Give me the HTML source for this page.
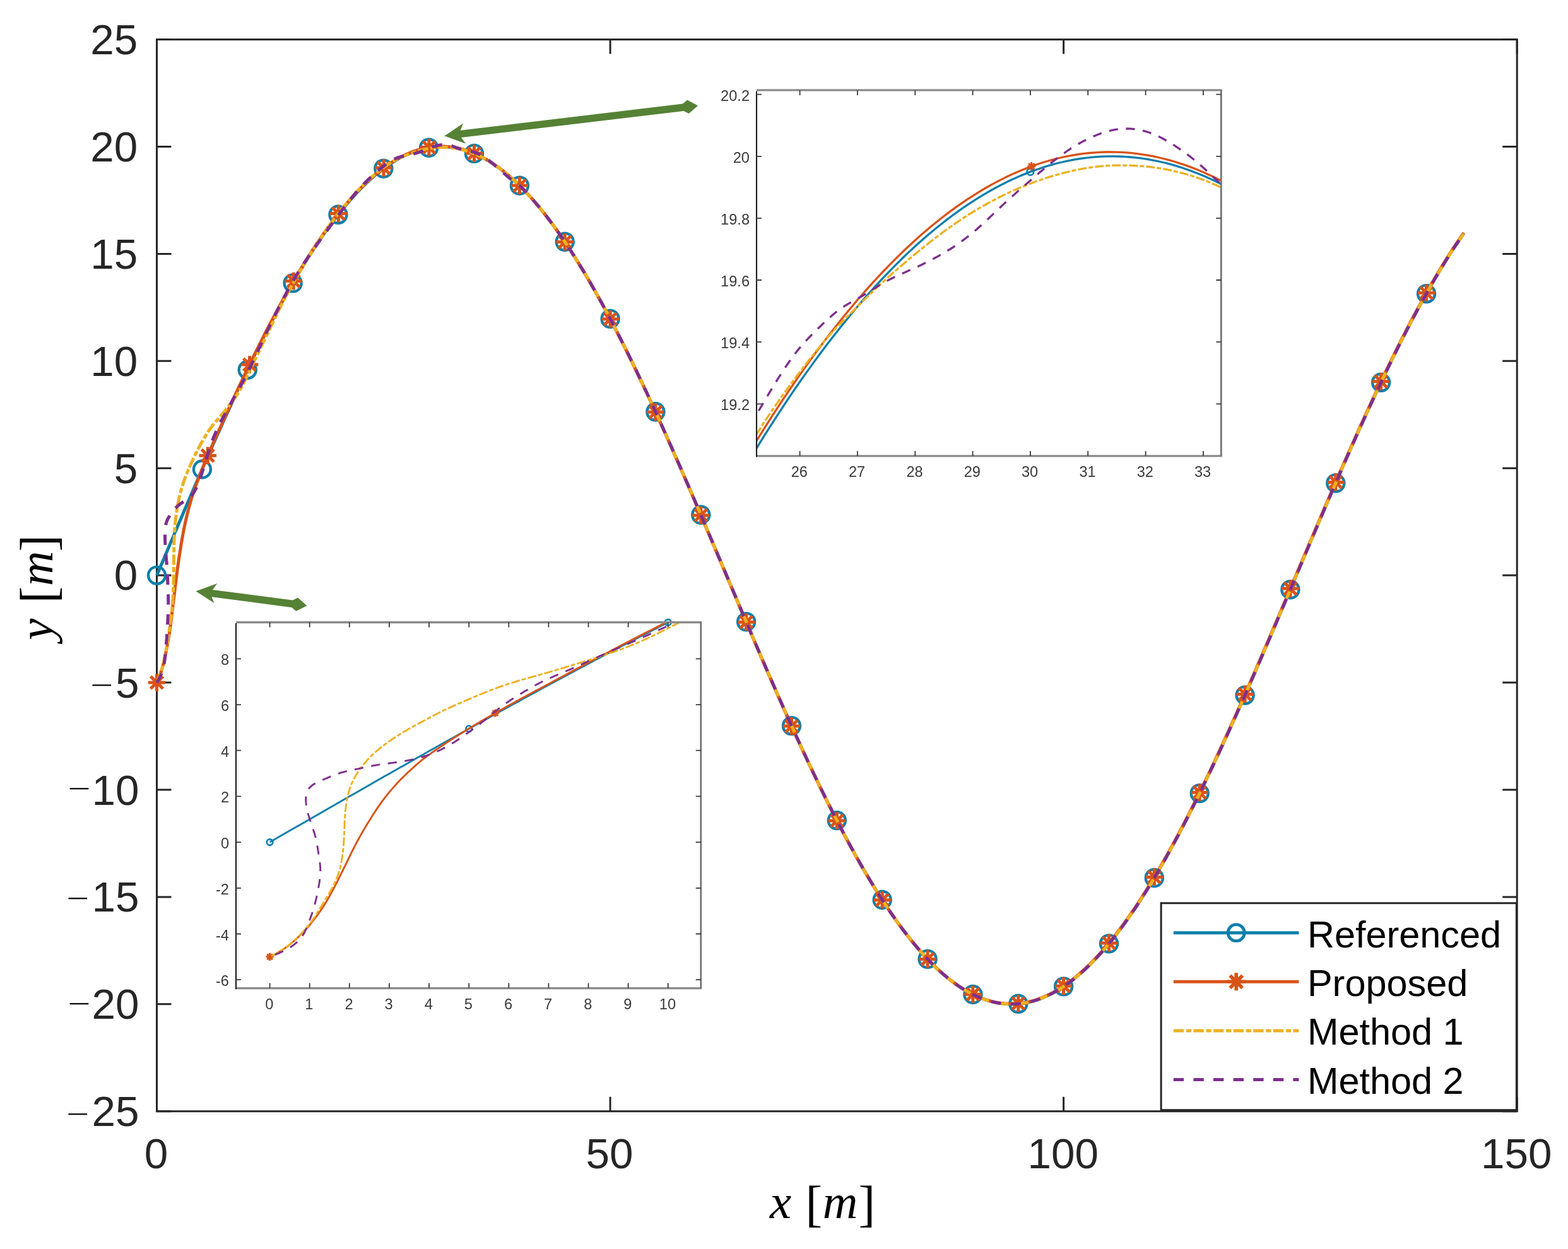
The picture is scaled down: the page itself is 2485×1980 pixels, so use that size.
<!DOCTYPE html>
<html lang="en">
<head>
<meta charset="utf-8">
<title>Trajectory tracking comparison</title>
<style>
html,body{margin:0;padding:0;background:#ffffff;}
body{width:2485px;height:1980px;overflow:hidden;}
svg{display:block;}
</style>
</head>
<body>
<svg width="2485" height="1980" viewBox="0 0 2485 1980" role="img" aria-label="Trajectory tracking comparison">
<defs>
<clipPath id="cm"><rect x="248.5" y="62.6" width="2155.7" height="1699.1000000000001"/></clipPath>
<clipPath id="c1"><rect x="1199" y="142.9" width="736.3" height="580.0"/></clipPath>
<clipPath id="c2"><rect x="374" y="986.5" width="736.8" height="580.0999999999999"/></clipPath>
<filter id="soft" x="-5%" y="-5%" width="110%" height="110%"><feGaussianBlur stdDeviation="0.7"/></filter>
<filter id="soft0" filterUnits="userSpaceOnUse" x="0" y="0" width="2485" height="1980"><feGaussianBlur stdDeviation="0.45"/></filter>
</defs>
<rect width="2485" height="1980" fill="#ffffff"/>
<g filter="url(#soft0)">
<g stroke="#262626" stroke-width="3.0" fill="none">
<rect x="248.5" y="62.6" width="2155.7" height="1699.1000000000001"/>
<path d="M248.5,1761.7v-23M248.5,62.6v23M967.1,1761.7v-23M967.1,62.6v23M1685.6,1761.7v-23M1685.6,62.6v23M2404.2,1761.7v-23M2404.2,62.6v23M248.5,1761.7h23M2404.2,1761.7h-23M248.5,1591.8h23M2404.2,1591.8h-23M248.5,1421.9h23M2404.2,1421.9h-23M248.5,1252.0h23M2404.2,1252.0h-23M248.5,1082.1h23M2404.2,1082.1h-23M248.5,912.1h23M2404.2,912.1h-23M248.5,742.2h23M2404.2,742.2h-23M248.5,572.3h23M2404.2,572.3h-23M248.5,402.4h23M2404.2,402.4h-23M248.5,232.5h23M2404.2,232.5h-23M248.5,62.6h23M2404.2,62.6h-23"/>
</g>
<g fill="none" stroke-linejoin="round">
<path d="M248.5,912.1 L249.9,908.9 L251.3,905.6 L252.6,902.3 L254.0,899.1 L255.4,895.8 L256.8,892.5 L258.2,889.3 L259.6,886.0 L260.9,882.8 L262.3,879.5 L263.7,876.2 L265.1,873.0 L266.5,869.7 L267.8,866.4 L269.2,863.2 L270.6,859.9 L272.0,856.7 L273.4,853.4 L274.8,850.2 L276.1,846.9 L277.5,843.7 L278.9,840.4 L280.3,837.2 L281.7,833.9 L283.0,830.7 L284.4,827.4 L285.8,824.2 L287.2,820.9 L288.6,817.7 L290.0,814.5 L291.3,811.2 L292.7,808.0 L294.1,804.8 L295.5,801.6 L296.9,798.3 L298.2,795.1 L299.6,791.9 L301.0,788.7 L302.4,785.5 L303.8,782.3 L305.2,779.1 L306.5,775.8 L307.9,772.7 L309.3,769.5 L310.7,766.3 L312.1,763.1 L313.4,759.9 L314.8,756.7 L316.2,753.5 L317.6,750.3 L319.0,747.2 L320.4,744.0 L321.7,740.8 L323.1,737.7 L324.5,734.5 L325.9,731.4 L327.3,728.2 L328.6,725.1 L330.0,721.9 L331.4,718.8 L332.8,715.7 L334.2,712.6 L335.6,709.4 L336.9,706.3 L338.3,703.2 L339.7,700.1 L341.1,697.0 L342.5,693.9 L343.8,690.8 L345.2,687.7 L346.6,684.6 L348.0,681.6 L349.4,678.5 L350.8,675.4 L352.1,672.4 L353.5,669.3 L354.9,666.3 L356.3,663.2 L357.7,660.2 L359.0,657.2 L360.4,654.1 L361.8,651.1 L363.2,648.1 L364.6,645.1 L366.0,642.1 L367.3,639.1 L368.7,636.1 L370.1,633.1 L371.5,630.1 L372.9,627.2 L374.2,624.2 L375.6,621.3 L377.0,618.3 L378.4,615.4 L379.8,612.4 L381.2,609.5 L382.5,606.6 L383.9,603.7 L385.3,600.8 L386.7,597.9 L388.1,595.0 L389.4,592.1 L390.8,589.2 L392.2,586.3 L393.6,583.5 L395.0,580.6 L396.4,577.8 L397.7,574.9 L399.1,572.1 L400.5,569.3 L401.9,566.4 L403.3,563.6 L404.6,560.8 L406.0,558.0 L407.4,555.3 L408.8,552.5 L410.2,549.7 L411.6,546.9 L412.9,544.2 L414.3,541.5 L415.7,538.7 L417.1,536.0 L418.5,533.3 L419.8,530.6 L421.2,527.9 L422.6,525.2 L424.0,522.5 L425.4,519.8 L426.8,517.2 L428.1,514.5 L429.5,511.9 L430.9,509.2 L432.3,506.6 L433.7,504.0 L435.0,501.4 L436.4,498.8 L437.8,496.2 L439.2,493.6 L440.6,491.0 L442.0,488.5 L443.3,485.9 L444.7,483.4 L446.1,480.9 L447.5,478.3 L448.9,475.8 L450.2,473.3 L451.6,470.8 L453.0,468.4 L454.4,465.9 L455.8,463.4 L457.2,461.0 L458.5,458.5 L459.9,456.1 L461.3,453.7 L462.7,451.3 L464.1,448.9 L465.4,446.5 L466.8,444.1 L468.2,441.8 L469.6,439.4 L471.0,437.1 L472.4,434.7 L473.7,432.4 L475.1,430.1 L476.5,427.8 L477.9,425.5 L479.3,423.3 L480.6,421.0 L482.0,418.7 L483.4,416.5 L484.8,414.3 L486.2,412.0 L487.6,409.8 L488.9,407.6 L490.3,405.5 L491.7,403.3 L493.1,401.1 L494.5,399.0 L495.8,396.8 L497.2,394.7 L498.6,392.6 L500.0,390.5 L501.4,388.4 L502.8,386.3 L504.1,384.3 L505.5,382.2 L506.9,380.2 L508.3,378.2 L509.7,376.1 L511.0,374.1 L512.4,372.2 L513.8,370.2 L515.2,368.2 L516.6,366.3 L518.0,364.3 L519.3,362.4 L520.7,360.5 L522.1,358.6 L523.5,356.7 L524.9,354.8 L526.2,352.9 L527.6,351.1 L529.0,349.3 L530.4,347.4 L531.8,345.6 L533.2,343.8 L534.5,342.0 L535.9,340.3 L537.3,338.5 L538.7,336.8 L540.1,335.0 L541.4,333.3 L542.8,331.6 L544.2,329.9 L545.6,328.2 L547.0,326.6 L548.4,324.9 L549.7,323.3 L551.1,321.7 L552.5,320.0 L553.9,318.4 L555.3,316.9 L556.6,315.3 L558.0,313.7 L559.4,312.2 L560.8,310.7 L562.2,309.2 L563.6,307.7 L564.9,306.2 L566.3,304.7 L567.7,303.2 L569.1,301.8 L570.5,300.4 L571.8,298.9 L573.2,297.5 L574.6,296.2 L576.0,294.8 L577.4,293.4 L578.8,292.1 L580.1,290.7 L581.5,289.4 L582.9,288.1 L584.3,286.8 L585.7,285.6 L587.0,284.3 L588.4,283.1 L589.8,281.8 L591.2,280.6 L592.6,279.4 L594.0,278.2 L595.3,277.1 L596.7,275.9 L598.1,274.8 L599.5,273.6 L600.9,272.5 L602.2,271.4 L603.6,270.3 L605.0,269.3 L606.4,268.2 L607.8,267.2 L609.2,266.2 L610.5,265.2 L611.9,264.2 L613.3,263.2 L614.7,262.2 L616.1,261.3 L617.4,260.3 L618.8,259.4 L620.2,258.5 L621.6,257.6 L623.0,256.8 L624.4,255.9 L625.7,255.1 L627.1,254.2 L628.5,253.4 L629.9,252.6 L631.3,251.8 L632.6,251.1 L634.0,250.3 L635.4,249.6 L636.8,248.9 L638.2,248.2 L639.6,247.5 L640.9,246.8 L642.3,246.1 L643.7,245.5 L645.1,244.9 L646.5,244.3 L647.8,243.7 L649.2,243.1 L650.6,242.5 L652.0,242.0 L653.4,241.4 L654.8,240.9 L656.1,240.4 L657.5,239.9 L658.9,239.4 L660.3,239.0 L661.7,238.5 L663.0,238.1 L664.4,237.7 L665.8,237.3 L667.2,236.9 L668.6,236.6 L670.0,236.2 L671.3,235.9 L672.7,235.6 L674.1,235.3 L675.5,235.0 L676.9,234.7 L678.2,234.5 L679.6,234.2 L681.0,234.0 L682.4,233.8 L683.8,233.6 L685.2,233.4 L686.5,233.3 L687.9,233.1 L689.3,233.0 L690.7,232.9 L692.1,232.8 L693.4,232.7 L694.8,232.6 L696.2,232.6 L697.6,232.5 L699.0,232.5 L700.4,232.5 L701.7,232.5 L703.1,232.6 L704.5,232.6 L705.9,232.7 L707.3,232.7 L708.6,232.8 L710.0,232.9 L711.4,233.0 L712.8,233.2 L714.2,233.3 L715.6,233.5 L716.9,233.7 L718.3,233.9 L719.7,234.1 L721.1,234.3 L722.5,234.6 L723.8,234.8 L725.2,235.1 L726.6,235.4 L728.0,235.7 L729.4,236.1 L730.8,236.4 L732.1,236.8 L733.5,237.1 L734.9,237.5 L736.3,237.9 L737.7,238.3 L739.0,238.8 L740.4,239.2 L741.8,239.7 L743.2,240.2 L744.6,240.7 L746.0,241.2 L747.3,241.7 L748.7,242.3 L750.1,242.8 L751.5,243.4 L752.9,244.0 L754.2,244.6 L755.6,245.2 L757.0,245.8 L758.4,246.5 L759.8,247.2 L761.2,247.8 L762.5,248.5 L763.9,249.3 L765.3,250.0 L766.7,250.7 L768.1,251.5 L769.4,252.3 L770.8,253.0 L772.2,253.9 L773.6,254.7 L775.0,255.5 L776.4,256.4 L777.7,257.2 L779.1,258.1 L780.5,259.0 L781.9,259.9 L783.3,260.8 L784.6,261.8 L786.0,262.7 L787.4,263.7 L788.8,264.7 L790.2,265.7 L791.6,266.7 L792.9,267.7 L794.3,268.8 L795.7,269.8 L797.1,270.9 L798.5,272.0 L799.8,273.1 L801.2,274.2 L802.6,275.4 L804.0,276.5 L805.4,277.7 L806.8,278.9 L808.1,280.1 L809.5,281.3 L810.9,282.5 L812.3,283.7 L813.7,285.0 L815.0,286.2 L816.4,287.5 L817.8,288.8 L819.2,290.1 L820.6,291.4 L822.0,292.8 L823.3,294.1 L824.7,295.5 L826.1,296.9 L827.5,298.3 L828.9,299.7 L830.2,301.1 L831.6,302.6 L833.0,304.0 L834.4,305.5 L835.8,306.9 L837.2,308.4 L838.5,309.9 L839.9,311.5 L841.3,313.0 L842.7,314.6 L844.1,316.1 L845.4,317.7 L846.8,319.3 L848.2,320.9 L849.6,322.5 L851.0,324.1 L852.4,325.8 L853.7,327.4 L855.1,329.1 L856.5,330.8 L857.9,332.5 L859.3,334.2 L860.6,335.9 L862.0,337.7 L863.4,339.4 L864.8,341.2 L866.2,343.0 L867.6,344.8 L868.9,346.6 L870.3,348.4 L871.7,350.2 L873.1,352.1 L874.5,353.9 L875.8,355.8 L877.2,357.7 L878.6,359.6 L880.0,361.5 L881.4,363.4 L882.8,365.3 L884.1,367.3 L885.5,369.2 L886.9,371.2 L888.3,373.2 L889.7,375.2 L891.0,377.2 L892.4,379.2 L893.8,381.3 L895.2,383.3 L896.6,385.4 L898.0,387.4 L899.3,389.5 L900.7,391.6 L902.1,393.7 L903.5,395.8 L904.9,398.0 L906.2,400.1 L907.6,402.3 L909.0,404.4 L910.4,406.6 L911.8,408.8 L913.2,411.0 L914.5,413.2 L915.9,415.4 L917.3,417.7 L918.7,419.9 L920.1,422.2 L921.4,424.5 L922.8,426.7 L924.2,429.0 L925.6,431.3 L927.0,433.6 L928.4,436.0 L929.7,438.3 L931.1,440.7 L932.5,443.0 L933.9,445.4 L935.3,447.8 L936.6,450.2 L938.0,452.6 L939.4,455.0 L940.8,457.4 L942.2,459.8 L943.6,462.3 L944.9,464.7 L946.3,467.2 L947.7,469.7 L949.1,472.1 L950.5,474.6 L951.8,477.2 L953.2,479.7 L954.6,482.2 L956.0,484.7 L957.4,487.3 L958.8,489.8 L960.1,492.4 L961.5,495.0 L962.9,497.6 L964.3,500.1 L965.7,502.7 L967.0,505.4 L968.4,508.0 L969.8,510.6 L971.2,513.3 L972.6,515.9 L974.0,518.6 L975.3,521.2 L976.7,523.9 L978.1,526.6 L979.5,529.3 L980.9,532.0 L982.2,534.7 L983.6,537.4 L985.0,540.2 L986.4,542.9 L987.8,545.6 L989.2,548.4 L990.5,551.2 L991.9,553.9 L993.3,556.7 L994.7,559.5 L996.1,562.3 L997.4,565.1 L998.8,567.9 L1000.2,570.7 L1001.6,573.6 L1003.0,576.4 L1004.4,579.3 L1005.7,582.1 L1007.1,585.0 L1008.5,587.8 L1009.9,590.7 L1011.3,593.6 L1012.6,596.5 L1014.0,599.4 L1015.4,602.3 L1016.8,605.2 L1018.2,608.1 L1019.6,611.0 L1020.9,614.0 L1022.3,616.9 L1023.7,619.9 L1025.1,622.8 L1026.5,625.8 L1027.8,628.7 L1029.2,631.7 L1030.6,634.7 L1032.0,637.7 L1033.4,640.7 L1034.8,643.7 L1036.1,646.7 L1037.5,649.7 L1038.9,652.7 L1040.3,655.7 L1041.7,658.8 L1043.0,661.8 L1044.4,664.8 L1045.8,667.9 L1047.2,670.9 L1048.6,674.0 L1050.0,677.0 L1051.3,680.1 L1052.7,683.2 L1054.1,686.3 L1055.5,689.4 L1056.9,692.4 L1058.2,695.5 L1059.6,698.6 L1061.0,701.7 L1062.4,704.9 L1063.8,708.0 L1065.2,711.1 L1066.5,714.2 L1067.9,717.3 L1069.3,720.5 L1070.7,723.6 L1072.1,726.7 L1073.4,729.9 L1074.8,733.0 L1076.2,736.2 L1077.6,739.4 L1079.0,742.5 L1080.4,745.7 L1081.7,748.9 L1083.1,752.0 L1084.5,755.2 L1085.9,758.4 L1087.3,761.6 L1088.6,764.8 L1090.0,767.9 L1091.4,771.1 L1092.8,774.3 L1094.2,777.5 L1095.6,780.7 L1096.9,784.0 L1098.3,787.2 L1099.7,790.4 L1101.1,793.6 L1102.5,796.8 L1103.8,800.0 L1105.2,803.3 L1106.6,806.5 L1108.0,809.7 L1109.4,812.9 L1110.8,816.2 L1112.1,819.4 L1113.5,822.6 L1114.9,825.9 L1116.3,829.1 L1117.7,832.4 L1119.0,835.6 L1120.4,838.9 L1121.8,842.1 L1123.2,845.4 L1124.6,848.6 L1126.0,851.9 L1127.3,855.1 L1128.7,858.4 L1130.1,861.6 L1131.5,864.9 L1132.9,868.2 L1134.2,871.4 L1135.6,874.7 L1137.0,877.9 L1138.4,881.2 L1139.8,884.5 L1141.2,887.7 L1142.5,891.0 L1143.9,894.3 L1145.3,897.5 L1146.7,900.8 L1148.1,904.1 L1149.4,907.3 L1150.8,910.6 L1152.2,913.9 L1153.6,917.1 L1155.0,920.4 L1156.4,923.7 L1157.7,926.9 L1159.1,930.2 L1160.5,933.5 L1161.9,936.7 L1163.3,940.0 L1164.6,943.3 L1166.0,946.5 L1167.4,949.8 L1168.8,953.1 L1170.2,956.3 L1171.6,959.6 L1172.9,962.8 L1174.3,966.1 L1175.7,969.4 L1177.1,972.6 L1178.5,975.9 L1179.8,979.1 L1181.2,982.4 L1182.6,985.6 L1184.0,988.9 L1185.4,992.1 L1186.8,995.4 L1188.1,998.6 L1189.5,1001.8 L1190.9,1005.1 L1192.3,1008.3 L1193.7,1011.5 L1195.0,1014.8 L1196.4,1018.0 L1197.8,1021.2 L1199.2,1024.4 L1200.6,1027.7 L1201.9,1030.9 L1203.3,1034.1 L1204.7,1037.3 L1206.1,1040.5 L1207.5,1043.7 L1208.9,1046.9 L1210.2,1050.1 L1211.6,1053.3 L1213.0,1056.5 L1214.4,1059.7 L1215.8,1062.9 L1217.1,1066.1 L1218.5,1069.3 L1219.9,1072.5 L1221.3,1075.6 L1222.7,1078.8 L1224.1,1082.0 L1225.4,1085.1 L1226.8,1088.3 L1228.2,1091.4 L1229.6,1094.6 L1231.0,1097.7 L1232.3,1100.9 L1233.7,1104.0 L1235.1,1107.1 L1236.5,1110.3 L1237.9,1113.4 L1239.3,1116.5 L1240.6,1119.6 L1242.0,1122.7 L1243.4,1125.8 L1244.8,1128.9 L1246.2,1132.0 L1247.5,1135.1 L1248.9,1138.2 L1250.3,1141.3 L1251.7,1144.4 L1253.1,1147.4 L1254.5,1150.5 L1255.8,1153.5 L1257.2,1156.6 L1258.6,1159.6 L1260.0,1162.7 L1261.4,1165.7 L1262.7,1168.7 L1264.1,1171.8 L1265.5,1174.8 L1266.9,1177.8 L1268.3,1180.8 L1269.7,1183.8 L1271.0,1186.8 L1272.4,1189.8 L1273.8,1192.8 L1275.2,1195.7 L1276.6,1198.7 L1277.9,1201.6 L1279.3,1204.6 L1280.7,1207.5 L1282.1,1210.5 L1283.5,1213.4 L1284.9,1216.3 L1286.2,1219.3 L1287.6,1222.2 L1289.0,1225.1 L1290.4,1228.0 L1291.8,1230.9 L1293.1,1233.7 L1294.5,1236.6 L1295.9,1239.5 L1297.3,1242.3 L1298.7,1245.2 L1300.1,1248.0 L1301.4,1250.9 L1302.8,1253.7 L1304.2,1256.5 L1305.6,1259.3 L1307.0,1262.1 L1308.3,1264.9 L1309.7,1267.7 L1311.1,1270.5 L1312.5,1273.3 L1313.9,1276.1 L1315.3,1278.8 L1316.6,1281.6 L1318.0,1284.3 L1319.4,1287.0 L1320.8,1289.7 L1322.2,1292.5 L1323.5,1295.2 L1324.9,1297.9 L1326.3,1300.5 L1327.7,1303.2 L1329.1,1305.9 L1330.5,1308.5 L1331.8,1311.2 L1333.2,1313.8 L1334.6,1316.5 L1336.0,1319.1 L1337.4,1321.7 L1338.7,1324.3 L1340.1,1326.9 L1341.5,1329.5 L1342.9,1332.1 L1344.3,1334.6 L1345.7,1337.2 L1347.0,1339.7 L1348.4,1342.2 L1349.8,1344.8 L1351.2,1347.3 L1352.6,1349.8 L1353.9,1352.3 L1355.3,1354.8 L1356.7,1357.2 L1358.1,1359.7 L1359.5,1362.2 L1360.9,1364.6 L1362.2,1367.0 L1363.6,1369.5 L1365.0,1371.9 L1366.4,1374.3 L1367.8,1376.7 L1369.1,1379.0 L1370.5,1381.4 L1371.9,1383.8 L1373.3,1386.1 L1374.7,1388.5 L1376.1,1390.8 L1377.4,1393.1 L1378.8,1395.4 L1380.2,1397.7 L1381.6,1400.0 L1383.0,1402.2 L1384.3,1404.5 L1385.7,1406.7 L1387.1,1409.0 L1388.5,1411.2 L1389.9,1413.4 L1391.3,1415.6 L1392.6,1417.8 L1394.0,1420.0 L1395.4,1422.2 L1396.8,1424.3 L1398.2,1426.4 L1399.5,1428.6 L1400.9,1430.7 L1402.3,1432.8 L1403.7,1434.9 L1405.1,1437.0 L1406.5,1439.0 L1407.8,1441.1 L1409.2,1443.2 L1410.6,1445.2 L1412.0,1447.2 L1413.4,1449.2 L1414.7,1451.2 L1416.1,1453.2 L1417.5,1455.2 L1418.9,1457.1 L1420.3,1459.1 L1421.7,1461.0 L1423.0,1462.9 L1424.4,1464.8 L1425.8,1466.7 L1427.2,1468.6 L1428.6,1470.5 L1429.9,1472.3 L1431.3,1474.2 L1432.7,1476.0 L1434.1,1477.8 L1435.5,1479.6 L1436.9,1481.4 L1438.2,1483.2 L1439.6,1485.0 L1441.0,1486.7 L1442.4,1488.5 L1443.8,1490.2 L1445.1,1491.9 L1446.5,1493.6 L1447.9,1495.3 L1449.3,1496.9 L1450.7,1498.6 L1452.1,1500.3 L1453.4,1501.9 L1454.8,1503.5 L1456.2,1505.1 L1457.6,1506.7 L1459.0,1508.3 L1460.3,1509.8 L1461.7,1511.4 L1463.1,1512.9 L1464.5,1514.4 L1465.9,1515.9 L1467.3,1517.4 L1468.6,1518.9 L1470.0,1520.4 L1471.4,1521.8 L1472.8,1523.3 L1474.2,1524.7 L1475.5,1526.1 L1476.9,1527.5 L1478.3,1528.9 L1479.7,1530.2 L1481.1,1531.6 L1482.5,1532.9 L1483.8,1534.3 L1485.2,1535.6 L1486.6,1536.9 L1488.0,1538.1 L1489.4,1539.4 L1490.7,1540.6 L1492.1,1541.9 L1493.5,1543.1 L1494.9,1544.3 L1496.3,1545.5 L1497.7,1546.7 L1499.0,1547.8 L1500.4,1549.0 L1501.8,1550.1 L1503.2,1551.2 L1504.6,1552.4 L1505.9,1553.4 L1507.3,1554.5 L1508.7,1555.6 L1510.1,1556.6 L1511.5,1557.7 L1512.9,1558.7 L1514.2,1559.7 L1515.6,1560.7 L1517.0,1561.6 L1518.4,1562.6 L1519.8,1563.5 L1521.1,1564.4 L1522.5,1565.4 L1523.9,1566.2 L1525.3,1567.1 L1526.7,1568.0 L1528.1,1568.8 L1529.4,1569.7 L1530.8,1570.5 L1532.2,1571.3 L1533.6,1572.1 L1535.0,1572.9 L1536.3,1573.6 L1537.7,1574.4 L1539.1,1575.1 L1540.5,1575.8 L1541.9,1576.5 L1543.3,1577.2 L1544.6,1577.8 L1546.0,1578.5 L1547.4,1579.1 L1548.8,1579.8 L1550.2,1580.4 L1551.5,1580.9 L1552.9,1581.5 L1554.3,1582.1 L1555.7,1582.6 L1557.1,1583.1 L1558.5,1583.7 L1559.8,1584.2 L1561.2,1584.6 L1562.6,1585.1 L1564.0,1585.6 L1565.4,1586.0 L1566.7,1586.4 L1568.1,1586.8 L1569.5,1587.2 L1570.9,1587.6 L1572.3,1587.9 L1573.7,1588.3 L1575.0,1588.6 L1576.4,1588.9 L1577.8,1589.2 L1579.2,1589.5 L1580.6,1589.7 L1581.9,1590.0 L1583.3,1590.2 L1584.7,1590.4 L1586.1,1590.6 L1587.5,1590.8 L1588.9,1591.0 L1590.2,1591.1 L1591.6,1591.3 L1593.0,1591.4 L1594.4,1591.5 L1595.8,1591.6 L1597.1,1591.7 L1598.5,1591.7 L1599.9,1591.8 L1601.3,1591.8 L1602.7,1591.8 L1604.1,1591.8 L1605.4,1591.8 L1606.8,1591.7 L1608.2,1591.7 L1609.6,1591.6 L1611.0,1591.5 L1612.3,1591.4 L1613.7,1591.3 L1615.1,1591.2 L1616.5,1591.0 L1617.9,1590.9 L1619.3,1590.7 L1620.6,1590.5 L1622.0,1590.3 L1623.4,1590.1 L1624.8,1589.8 L1626.2,1589.6 L1627.5,1589.3 L1628.9,1589.0 L1630.3,1588.7 L1631.7,1588.4 L1633.1,1588.1 L1634.5,1587.7 L1635.8,1587.3 L1637.2,1587.0 L1638.6,1586.6 L1640.0,1586.2 L1641.4,1585.7 L1642.7,1585.3 L1644.1,1584.8 L1645.5,1584.4 L1646.9,1583.9 L1648.3,1583.4 L1649.7,1582.8 L1651.0,1582.3 L1652.4,1581.8 L1653.8,1581.2 L1655.2,1580.6 L1656.6,1580.0 L1657.9,1579.4 L1659.3,1578.8 L1660.7,1578.1 L1662.1,1577.5 L1663.5,1576.8 L1664.9,1576.1 L1666.2,1575.4 L1667.6,1574.7 L1669.0,1573.9 L1670.4,1573.2 L1671.8,1572.4 L1673.1,1571.6 L1674.5,1570.8 L1675.9,1570.0 L1677.3,1569.2 L1678.7,1568.3 L1680.1,1567.5 L1681.4,1566.6 L1682.8,1565.7 L1684.2,1564.8 L1685.6,1563.9 L1687.0,1563.0 L1688.3,1562.0 L1689.7,1561.1 L1691.1,1560.1 L1692.5,1559.1 L1693.9,1558.1 L1695.3,1557.1 L1696.6,1556.0 L1698.0,1555.0 L1699.4,1553.9 L1700.8,1552.8 L1702.2,1551.7 L1703.5,1550.6 L1704.9,1549.5 L1706.3,1548.3 L1707.7,1547.2 L1709.1,1546.0 L1710.5,1544.8 L1711.8,1543.6 L1713.2,1542.4 L1714.6,1541.2 L1716.0,1539.9 L1717.4,1538.7 L1718.7,1537.4 L1720.1,1536.1 L1721.5,1534.8 L1722.9,1533.5 L1724.3,1532.1 L1725.7,1530.8 L1727.0,1529.4 L1728.4,1528.1 L1729.8,1526.7 L1731.2,1525.3 L1732.6,1523.9 L1733.9,1522.4 L1735.3,1521.0 L1736.7,1519.5 L1738.1,1518.1 L1739.5,1516.6 L1740.9,1515.1 L1742.2,1513.5 L1743.6,1512.0 L1745.0,1510.5 L1746.4,1508.9 L1747.8,1507.4 L1749.1,1505.8 L1750.5,1504.2 L1751.9,1502.6 L1753.3,1500.9 L1754.7,1499.3 L1756.1,1497.6 L1757.4,1496.0 L1758.8,1494.3 L1760.2,1492.6 L1761.6,1490.9 L1763.0,1489.2 L1764.3,1487.4 L1765.7,1485.7 L1767.1,1483.9 L1768.5,1482.2 L1769.9,1480.4 L1771.3,1478.6 L1772.6,1476.8 L1774.0,1474.9 L1775.4,1473.1 L1776.8,1471.3 L1778.2,1469.4 L1779.5,1467.5 L1780.9,1465.6 L1782.3,1463.7 L1783.7,1461.8 L1785.1,1459.9 L1786.5,1457.9 L1787.8,1456.0 L1789.2,1454.0 L1790.6,1452.0 L1792.0,1450.0 L1793.4,1448.0 L1794.7,1446.0 L1796.1,1444.0 L1797.5,1442.0 L1798.9,1439.9 L1800.3,1437.8 L1801.7,1435.8 L1803.0,1433.7 L1804.4,1431.6 L1805.8,1429.5 L1807.2,1427.3 L1808.6,1425.2 L1809.9,1423.0 L1811.3,1420.9 L1812.7,1418.7 L1814.1,1416.5 L1815.5,1414.3 L1816.9,1412.1 L1818.2,1409.9 L1819.6,1407.7 L1821.0,1405.4 L1822.4,1403.2 L1823.8,1400.9 L1825.1,1398.6 L1826.5,1396.4 L1827.9,1394.1 L1829.3,1391.7 L1830.7,1389.4 L1832.1,1387.1 L1833.4,1384.8 L1834.8,1382.4 L1836.2,1380.0 L1837.6,1377.7 L1839.0,1375.3 L1840.3,1372.9 L1841.7,1370.5 L1843.1,1368.1 L1844.5,1365.6 L1845.9,1363.2 L1847.3,1360.7 L1848.6,1358.3 L1850.0,1355.8 L1851.4,1353.3 L1852.8,1350.8 L1854.2,1348.3 L1855.5,1345.8 L1856.9,1343.3 L1858.3,1340.8 L1859.7,1338.2 L1861.1,1335.7 L1862.5,1333.1 L1863.8,1330.6 L1865.2,1328.0 L1866.6,1325.4 L1868.0,1322.8 L1869.4,1320.2 L1870.7,1317.6 L1872.1,1314.9 L1873.5,1312.3 L1874.9,1309.6 L1876.3,1307.0 L1877.7,1304.3 L1879.0,1301.7 L1880.4,1299.0 L1881.8,1296.3 L1883.2,1293.6 L1884.6,1290.9 L1885.9,1288.2 L1887.3,1285.4 L1888.7,1282.7 L1890.1,1280.0 L1891.5,1277.2 L1892.9,1274.4 L1894.2,1271.7 L1895.6,1268.9 L1897.0,1266.1 L1898.4,1263.3 L1899.8,1260.5 L1901.1,1257.7 L1902.5,1254.9 L1903.9,1252.1 L1905.3,1249.2 L1906.7,1246.4 L1908.1,1243.5 L1909.4,1240.7 L1910.8,1237.8 L1912.2,1234.9 L1913.6,1232.1 L1915.0,1229.2 L1916.3,1226.3 L1917.7,1223.4 L1919.1,1220.5 L1920.5,1217.6 L1921.9,1214.6 L1923.3,1211.7 L1924.6,1208.8 L1926.0,1205.8 L1927.4,1202.9 L1928.8,1199.9 L1930.2,1197.0 L1931.5,1194.0 L1932.9,1191.0 L1934.3,1188.0 L1935.7,1185.0 L1937.1,1182.0 L1938.5,1179.0 L1939.8,1176.0 L1941.2,1173.0 L1942.6,1170.0 L1944.0,1167.0 L1945.4,1163.9 L1946.7,1160.9 L1948.1,1157.9 L1949.5,1154.8 L1950.9,1151.8 L1952.3,1148.7 L1953.7,1145.6 L1955.0,1142.6 L1956.4,1139.5 L1957.8,1136.4 L1959.2,1133.3 L1960.6,1130.2 L1961.9,1127.1 L1963.3,1124.0 L1964.7,1120.9 L1966.1,1117.8 L1967.5,1114.7 L1968.9,1111.6 L1970.2,1108.4 L1971.6,1105.3 L1973.0,1102.2 L1974.4,1099.0 L1975.8,1095.9 L1977.1,1092.7 L1978.5,1089.6 L1979.9,1086.4 L1981.3,1083.3 L1982.7,1080.1 L1984.1,1076.9 L1985.4,1073.8 L1986.8,1070.6 L1988.2,1067.4 L1989.6,1064.2 L1991.0,1061.1 L1992.3,1057.9 L1993.7,1054.7 L1995.1,1051.5 L1996.5,1048.3 L1997.9,1045.1 L1999.3,1041.9 L2000.6,1038.7 L2002.0,1035.4 L2003.4,1032.2 L2004.8,1029.0 L2006.2,1025.8 L2007.5,1022.6 L2008.9,1019.3 L2010.3,1016.1 L2011.7,1012.9 L2013.1,1009.7 L2014.5,1006.4 L2015.8,1003.2 L2017.2,999.9 L2018.6,996.7 L2020.0,993.5 L2021.4,990.2 L2022.7,987.0 L2024.1,983.7 L2025.5,980.5 L2026.9,977.2 L2028.3,974.0 L2029.7,970.7 L2031.0,967.5 L2032.4,964.2 L2033.8,960.9 L2035.2,957.7 L2036.6,954.4 L2037.9,951.2 L2039.3,947.9 L2040.7,944.6 L2042.1,941.4 L2043.5,938.1 L2044.9,934.8 L2046.2,931.6 L2047.6,928.3 L2049.0,925.0 L2050.4,921.8 L2051.8,918.5 L2053.1,915.2 L2054.5,912.0 L2055.9,908.7 L2057.3,905.4 L2058.7,902.2 L2060.1,898.9 L2061.4,895.6 L2062.8,892.4 L2064.2,889.1 L2065.6,885.8 L2067.0,882.6 L2068.3,879.3 L2069.7,876.0 L2071.1,872.8 L2072.5,869.5 L2073.9,866.3 L2075.3,863.0 L2076.6,859.7 L2078.0,856.5 L2079.4,853.2 L2080.8,850.0 L2082.2,846.7 L2083.5,843.5 L2084.9,840.2 L2086.3,837.0 L2087.7,833.7 L2089.1,830.5 L2090.5,827.2 L2091.8,824.0 L2093.2,820.8 L2094.6,817.5 L2096.0,814.3 L2097.4,811.1 L2098.7,807.8 L2100.1,804.6 L2101.5,801.4 L2102.9,798.2 L2104.3,794.9 L2105.7,791.7 L2107.0,788.5 L2108.4,785.3 L2109.8,782.1 L2111.2,778.9 L2112.6,775.7 L2113.9,772.5 L2115.3,769.3 L2116.7,766.1 L2118.1,762.9 L2119.5,759.7 L2120.9,756.5 L2122.2,753.3 L2123.6,750.2 L2125.0,747.0 L2126.4,743.8 L2127.8,740.7 L2129.1,737.5 L2130.5,734.4 L2131.9,731.2 L2133.3,728.1 L2134.7,724.9 L2136.1,721.8 L2137.4,718.6 L2138.8,715.5 L2140.2,712.4 L2141.6,709.3 L2143.0,706.1 L2144.3,703.0 L2145.7,699.9 L2147.1,696.8 L2148.5,693.7 L2149.9,690.6 L2151.3,687.6 L2152.6,684.5 L2154.0,681.4 L2155.4,678.3 L2156.8,675.3 L2158.2,672.2 L2159.5,669.1 L2160.9,666.1 L2162.3,663.1 L2163.7,660.0 L2165.1,657.0 L2166.5,654.0 L2167.8,650.9 L2169.2,647.9 L2170.6,644.9 L2172.0,641.9 L2173.4,638.9 L2174.7,635.9 L2176.1,633.0 L2177.5,630.0 L2178.9,627.0 L2180.3,624.0 L2181.7,621.1 L2183.0,618.1 L2184.4,615.2 L2185.8,612.3 L2187.2,609.3 L2188.6,606.4 L2189.9,603.5 L2191.3,600.6 L2192.7,597.7 L2194.1,594.8 L2195.5,591.9 L2196.9,589.0 L2198.2,586.2 L2199.6,583.3 L2201.0,580.4 L2202.4,577.6 L2203.8,574.8 L2205.1,571.9 L2206.5,569.1 L2207.9,566.3 L2209.3,563.5 L2210.7,560.7 L2212.1,557.9 L2213.4,555.1 L2214.8,552.3 L2216.2,549.6 L2217.6,546.8 L2219.0,544.0 L2220.3,541.3 L2221.7,538.6 L2223.1,535.8 L2224.5,533.1 L2225.9,530.4 L2227.3,527.7 L2228.6,525.0 L2230.0,522.3 L2231.4,519.7 L2232.8,517.0 L2234.2,514.4 L2235.5,511.7 L2236.9,509.1 L2238.3,506.5 L2239.7,503.8 L2241.1,501.2 L2242.5,498.6 L2243.8,496.0 L2245.2,493.5 L2246.6,490.9 L2248.0,488.3 L2249.4,485.8 L2250.7,483.2 L2252.1,480.7 L2253.5,478.2 L2254.9,475.7 L2256.3,473.2 L2257.7,470.7 L2259.0,468.2 L2260.4,465.8 L2261.8,463.3 L2263.2,460.8 L2264.6,458.4 L2265.9,456.0 L2267.3,453.6 L2268.7,451.2 L2270.1,448.8 L2271.5,446.4 L2272.9,444.0 L2274.2,441.6 L2275.6,439.3 L2277.0,436.9 L2278.4,434.6 L2279.8,432.3 L2281.1,430.0 L2282.5,427.7 L2283.9,425.4 L2285.3,423.1 L2286.7,420.9 L2288.1,418.6 L2289.4,416.4 L2290.8,414.1 L2292.2,411.9 L2293.6,409.7 L2295.0,407.5 L2296.3,405.3 L2297.7,403.2 L2299.1,401.0 L2300.5,398.9 L2301.9,396.7 L2303.3,394.6 L2304.6,392.5 L2306.0,390.4 L2307.4,388.3 L2308.8,386.2 L2310.2,384.2 L2311.5,382.1 L2312.9,380.1 L2314.3,378.0 L2315.7,376.0 L2317.1,374.0 L2318.5,372.0 L2319.8,370.1" stroke="#0b7fab" stroke-width="5.0"/>
<circle cx="248.5" cy="912.1" r="13.5" stroke="#0b7fab" stroke-width="4.4" fill="none"/>
<circle cx="320.4" cy="744.0" r="13.5" stroke="#0b7fab" stroke-width="4.4" fill="none"/>
<circle cx="392.2" cy="586.3" r="13.5" stroke="#0b7fab" stroke-width="4.4" fill="none"/>
<circle cx="464.1" cy="448.9" r="13.5" stroke="#0b7fab" stroke-width="4.4" fill="none"/>
<circle cx="535.9" cy="340.3" r="13.5" stroke="#0b7fab" stroke-width="4.4" fill="none"/>
<circle cx="607.8" cy="267.2" r="13.5" stroke="#0b7fab" stroke-width="4.4" fill="none"/>
<circle cx="679.6" cy="234.2" r="13.5" stroke="#0b7fab" stroke-width="4.4" fill="none"/>
<circle cx="751.5" cy="243.4" r="13.5" stroke="#0b7fab" stroke-width="4.4" fill="none"/>
<circle cx="823.4" cy="294.2" r="13.5" stroke="#0b7fab" stroke-width="4.4" fill="none"/>
<circle cx="895.2" cy="383.3" r="13.5" stroke="#0b7fab" stroke-width="4.4" fill="none"/>
<circle cx="967.1" cy="505.4" r="13.5" stroke="#0b7fab" stroke-width="4.4" fill="none"/>
<circle cx="1038.9" cy="652.8" r="13.5" stroke="#0b7fab" stroke-width="4.4" fill="none"/>
<circle cx="1110.8" cy="816.2" r="13.5" stroke="#0b7fab" stroke-width="4.4" fill="none"/>
<circle cx="1182.6" cy="985.7" r="13.5" stroke="#0b7fab" stroke-width="4.4" fill="none"/>
<circle cx="1254.5" cy="1150.6" r="13.5" stroke="#0b7fab" stroke-width="4.4" fill="none"/>
<circle cx="1326.3" cy="1300.6" r="13.5" stroke="#0b7fab" stroke-width="4.4" fill="none"/>
<circle cx="1398.2" cy="1426.5" r="13.5" stroke="#0b7fab" stroke-width="4.4" fill="none"/>
<circle cx="1470.1" cy="1520.4" r="13.5" stroke="#0b7fab" stroke-width="4.4" fill="none"/>
<circle cx="1541.9" cy="1576.5" r="13.5" stroke="#0b7fab" stroke-width="4.4" fill="none"/>
<circle cx="1613.8" cy="1591.3" r="13.5" stroke="#0b7fab" stroke-width="4.4" fill="none"/>
<circle cx="1685.6" cy="1563.9" r="13.5" stroke="#0b7fab" stroke-width="4.4" fill="none"/>
<circle cx="1757.5" cy="1495.9" r="13.5" stroke="#0b7fab" stroke-width="4.4" fill="none"/>
<circle cx="1829.3" cy="1391.7" r="13.5" stroke="#0b7fab" stroke-width="4.4" fill="none"/>
<circle cx="1901.2" cy="1257.6" r="13.5" stroke="#0b7fab" stroke-width="4.4" fill="none"/>
<circle cx="1973.1" cy="1102.1" r="13.5" stroke="#0b7fab" stroke-width="4.4" fill="none"/>
<circle cx="2044.9" cy="934.7" r="13.5" stroke="#0b7fab" stroke-width="4.4" fill="none"/>
<circle cx="2116.8" cy="765.9" r="13.5" stroke="#0b7fab" stroke-width="4.4" fill="none"/>
<circle cx="2188.6" cy="606.3" r="13.5" stroke="#0b7fab" stroke-width="4.4" fill="none"/>
<circle cx="2260.5" cy="465.6" r="13.5" stroke="#0b7fab" stroke-width="4.4" fill="none"/>
<path d="M248.5,1082.1 L249.0,1081.2 L249.5,1080.2 L250.0,1079.2 L250.5,1078.1 L251.0,1077.0 L251.5,1075.8 L252.0,1074.6 L252.5,1073.3 L253.0,1072.0 L253.4,1070.7 L253.9,1069.3 L254.4,1067.9 L254.9,1066.4 L255.4,1064.9 L255.9,1063.2 L256.4,1061.6 L256.9,1059.8 L257.4,1058.0 L257.9,1056.2 L258.4,1054.3 L258.9,1052.3 L259.4,1050.3 L259.9,1048.3 L260.4,1046.2 L260.9,1044.1 L261.4,1042.0 L261.9,1039.7 L262.4,1037.4 L262.8,1035.0 L263.3,1032.5 L263.8,1030.0 L264.3,1027.4 L264.8,1024.8 L265.3,1022.1 L265.8,1019.4 L266.3,1016.5 L266.8,1013.6 L267.3,1010.6 L267.8,1007.5 L268.3,1004.3 L268.8,1001.1 L269.3,997.7 L269.8,994.1 L270.3,990.5 L270.8,986.7 L271.3,982.9 L271.8,979.1 L272.2,975.2 L272.7,971.3 L273.2,967.2 L273.7,963.1 L274.2,959.0 L274.7,954.9 L275.2,950.9 L275.7,946.8 L276.2,942.6 L276.7,938.4 L277.2,934.2 L277.7,930.0 L278.2,925.9 L278.7,921.8 L279.2,917.8 L279.7,914.0 L280.2,910.2 L280.7,906.5 L281.1,902.8 L281.6,899.2 L282.1,895.7 L282.6,892.2 L283.1,888.8 L283.6,885.4 L284.1,882.1 L284.6,878.8 L285.1,875.6 L285.6,872.4 L286.1,869.3 L286.6,866.2 L287.1,863.1 L287.6,860.1 L288.1,857.1 L288.6,854.3 L289.1,851.5 L289.6,848.7 L290.1,846.1 L290.5,843.5 L291.0,840.9 L291.5,838.4 L292.0,836.0 L292.5,833.6 L293.0,831.2 L293.5,828.9 L294.0,826.7 L294.5,824.5 L295.0,822.3 L295.5,820.2 L296.0,818.1 L296.5,816.1 L297.0,814.1 L297.5,812.1 L298.0,810.2 L298.5,808.3 L299.0,806.4 L299.5,804.5 L299.9,802.7 L300.4,800.9 L300.9,799.0 L301.4,797.3 L301.9,795.5 L302.4,793.8 L302.9,792.1 L303.4,790.4 L303.9,788.8 L304.4,787.2 L304.9,785.7 L305.4,784.2 L305.9,782.7 L306.4,781.2 L306.9,779.8 L307.4,778.3 L307.9,776.9 L308.4,775.5 L308.9,774.2 L309.3,772.8 L309.8,771.4 L310.3,770.1 L310.8,768.7 L311.3,767.3 L311.8,766.0 L312.3,764.6 L312.8,763.3 L313.3,762.0 L313.8,760.6 L314.3,759.3 L314.8,758.0 L315.3,756.7 L315.8,755.4 L316.3,754.1 L316.8,752.9 L317.3,751.6 L317.8,750.3 L318.3,749.0 L318.7,747.8 L319.2,746.5 L319.7,745.3 L320.2,744.0 L320.7,742.8 L321.2,741.6 L321.7,740.3 L322.2,739.1 L322.7,737.9 L323.2,736.7 L323.7,735.5 L324.2,734.3 L324.7,733.1 L325.2,731.9 L325.7,730.7 L326.2,729.5 L326.7,728.3 L327.2,727.2 L327.7,726.0 L328.1,724.8 L328.6,723.7 L329.1,722.5 L329.6,721.3 L330.1,720.2 L330.6,719.0 L331.1,717.9 L331.6,716.7 L332.1,715.6 L332.6,714.4 L333.1,713.3 L333.6,712.2 L334.1,711.0 L334.6,709.9 L335.1,708.7 L335.6,707.6 L336.1,706.5 L336.6,705.4 L337.0,704.2 L337.5,703.1 L338.0,702.0 L338.5,700.9 L339.0,699.8 L339.5,698.7 L340.0,697.6 L340.5,696.5 L341.0,695.4 L341.5,694.3 L342.0,693.2 L342.5,692.1 L343.0,691.0 L343.5,689.9 L344.0,688.8 L344.5,687.8 L345.0,686.7 L345.5,685.6 L346.0,684.6 L346.4,683.5 L346.9,682.4 L348.3,679.5 L349.6,676.6 L350.9,673.7 L352.2,670.7 L353.5,667.8 L354.8,664.9 L356.2,662.0 L357.5,659.1 L358.8,656.3 L360.1,653.4 L361.4,650.5 L362.7,647.6 L364.1,644.8 L365.4,641.9 L366.7,639.0 L368.0,636.2 L369.3,633.3 L370.6,630.5 L372.0,627.7 L373.3,624.9 L374.6,622.0 L375.9,619.2 L377.2,616.4 L378.5,613.6 L379.8,610.8 L381.2,608.0 L382.5,605.2 L383.8,602.5 L385.1,599.7 L386.4,596.9 L387.7,594.2 L389.1,591.4 L390.4,588.7 L391.7,586.0 L393.0,583.2 L394.3,580.5 L395.6,577.8 L397.0,575.1 L398.3,572.4 L399.6,569.7 L400.9,567.0 L402.2,564.3 L403.5,561.7 L404.9,559.0 L406.2,556.3 L407.5,553.7 L408.8,551.0 L410.1,548.4 L411.4,545.8 L412.8,543.2 L414.1,540.5 L415.4,537.9 L416.7,535.3 L418.0,532.8 L419.3,530.2 L420.6,527.6 L422.0,525.0 L423.3,522.5 L424.6,519.9 L425.9,517.4 L427.2,514.9 L428.5,512.3 L429.9,509.8 L431.2,507.3 L432.5,504.8 L433.8,502.3 L435.1,499.9 L436.4,497.4 L437.8,494.9 L439.1,492.5 L440.4,490.0 L441.7,487.6 L443.0,485.2 L444.3,482.7 L445.7,480.3 L447.0,477.9 L448.3,475.5 L449.6,473.2 L450.9,470.8 L452.2,468.4 L453.6,466.1 L454.9,463.7 L456.2,461.4 L457.5,459.1 L458.8,456.7 L460.1,454.4 L461.4,452.1 L462.8,449.9 L464.1,447.6 L465.4,445.3 L466.7,443.0 L468.0,440.8 L469.3,438.6 L470.7,436.3 L472.0,434.1 L473.3,431.9 L474.6,429.7 L475.9,427.5 L477.2,425.3 L478.6,423.2 L479.9,421.0 L481.2,418.9 L482.5,416.7 L483.8,414.6 L485.1,412.5 L486.5,410.4 L487.8,408.3 L489.1,406.2 L490.4,404.1 L491.7,402.0 L493.0,400.0 L494.4,397.9 L495.7,395.9 L497.0,393.9 L498.3,391.9 L499.6,389.9 L500.9,387.9 L502.2,385.9 L503.6,384.0 L504.9,382.0 L506.2,380.1 L507.5,378.1 L508.8,376.2 L510.1,374.3 L511.5,372.4 L512.8,370.5 L514.1,368.6 L515.4,366.8 L516.7,364.9 L518.0,363.1 L519.4,361.2 L520.7,359.4 L522.0,357.6 L523.3,355.8 L524.6,354.0 L525.9,352.2 L527.3,350.5 L528.6,348.7 L529.9,347.0 L531.2,345.3 L532.5,343.6 L533.8,341.9 L535.2,340.2 L536.5,338.5 L537.8,336.8 L539.1,335.2 L540.4,333.5 L541.7,331.9 L543.0,330.3 L544.4,328.7 L545.7,327.1 L547.0,325.5 L548.3,323.9 L549.6,322.4 L550.9,320.8 L552.3,319.3 L553.6,317.8 L554.9,316.3 L556.2,314.8 L557.5,313.3 L558.8,311.8 L560.2,310.4 L561.5,308.9 L562.8,307.5 L564.1,306.1 L565.4,304.7 L566.7,303.3 L568.1,301.9 L569.4,300.5 L570.7,299.2 L572.0,297.8 L573.3,296.5 L574.6,295.2 L576.0,293.9 L577.3,292.6 L578.6,291.3 L579.9,290.0 L581.2,288.8 L582.5,287.6 L583.8,286.3 L585.2,285.1 L586.5,283.9 L587.8,282.7 L589.1,281.6 L590.4,280.4 L591.7,279.2 L593.1,278.1 L594.4,277.0 L595.7,275.9 L597.0,274.8 L598.3,273.7 L599.6,272.7 L601.0,271.6 L602.3,270.6 L603.6,269.5 L604.9,268.5 L606.2,267.5 L607.5,266.5 L608.9,265.6 L610.2,264.6 L611.5,263.7 L612.8,262.7 L614.1,261.8 L615.4,260.9 L616.8,260.0 L618.1,259.1 L619.4,258.3 L620.7,257.4 L622.0,256.6 L623.3,255.8 L624.6,255.0 L626.0,254.2 L627.3,253.4 L628.6,252.6 L629.9,251.9 L631.2,251.1 L632.5,250.4 L633.9,249.7 L635.2,249.0 L636.5,248.3 L637.8,247.6 L639.1,247.0 L640.4,246.3 L641.8,245.7 L643.1,245.1 L644.4,244.5 L645.7,243.9 L647.0,243.3 L648.3,242.8 L649.7,242.2 L651.0,241.7 L652.3,241.2 L653.6,240.7 L654.9,240.2 L656.2,239.7 L657.6,239.3 L658.9,238.8 L660.2,238.4 L661.5,238.0 L662.8,237.6 L664.1,237.2 L665.4,236.8 L666.8,236.4 L668.1,236.1 L669.4,235.8 L670.7,235.4 L672.0,235.1 L673.3,234.8 L674.7,234.6 L676.0,234.3 L677.3,234.1 L678.6,233.8 L679.9,233.6 L681.2,233.4 L682.6,233.2 L683.9,233.0 L685.2,232.9 L686.5,232.7 L687.8,232.6 L689.1,232.5 L690.5,232.4 L691.8,232.3 L693.1,232.2 L694.4,232.1 L695.7,232.1 L697.0,232.1 L698.4,232.0 L699.7,232.0 L701.0,232.0 L702.3,232.1 L703.6,232.1 L704.9,232.2 L706.2,232.2 L707.6,232.3 L708.9,232.4 L710.2,232.5 L711.5,232.6 L712.8,232.8 L714.1,232.9 L715.5,233.1 L716.8,233.3 L718.1,233.5 L719.4,233.7 L720.7,233.9 L722.0,234.1 L723.4,234.4 L724.7,234.6 L726.0,234.9 L727.3,235.2 L728.6,235.5 L729.9,235.8 L731.3,236.2 L732.6,236.5 L733.9,236.9 L735.2,237.3 L736.5,237.7 L737.8,238.1 L739.2,238.5 L740.5,238.9 L741.8,239.4 L743.1,239.8 L744.4,240.3 L745.7,240.8 L747.0,241.3 L748.4,241.8 L749.7,242.4 L751.0,242.9 L752.3,243.5 L753.6,244.0 L754.9,244.6 L756.3,245.2 L757.6,245.9 L758.9,246.5 L760.2,247.1 L761.5,247.8 L762.8,248.5 L764.2,249.2 L765.5,249.9 L766.8,250.6 L768.1,251.3 L769.4,252.0 L770.7,252.8 L772.1,253.6 L773.4,254.4 L774.7,255.1 L776.0,256.0 L777.3,256.8 L778.6,257.6 L780.0,258.5 L781.3,259.3 L782.6,260.2 L783.9,261.1 L785.2,262.0 L786.5,262.9 L787.8,263.9 L789.2,264.8 L790.5,265.8 L791.8,266.8 L793.1,267.8 L794.4,268.8 L795.7,269.8 L797.1,270.8 L798.4,271.8 L799.7,272.9 L801.0,274.0 L802.3,275.1 L803.6,276.2 L805.0,277.3 L806.3,278.4 L807.6,279.5 L808.9,280.7 L810.2,281.8 L811.5,283.0 L812.9,284.2 L814.2,285.4 L815.5,286.6 L816.8,287.8 L818.1,289.1 L819.4,290.3 L820.8,291.6 L822.1,292.9 L823.4,294.2 L824.7,295.5 L826.0,296.8 L827.3,298.1 L828.7,299.5 L830.0,300.8 L831.3,302.2 L832.6,303.6 L833.9,305.0 L835.2,306.4 L836.5,307.8 L837.9,309.3 L839.2,310.7 L840.5,312.2 L841.8,313.6 L843.1,315.1 L844.4,316.6 L845.8,318.1 L847.1,319.7 L848.4,321.2 L849.7,322.7 L851.0,324.3 L852.3,325.9 L853.7,327.4 L855.0,329.0 L856.3,330.7 L857.6,332.3 L858.9,333.9 L860.2,335.6 L861.6,337.2 L862.9,338.9 L864.2,340.6 L865.5,342.3 L866.8,344.0 L868.1,345.7 L869.5,347.4 L870.8,349.1 L872.1,350.9 L873.4,352.7 L874.7,354.4 L876.0,356.2 L877.3,358.0 L878.7,359.8 L880.0,361.7 L881.3,363.5 L882.6,365.3 L883.9,367.2 L885.2,369.1 L886.6,370.9 L887.9,372.8 L889.2,374.7 L890.5,376.6 L891.8,378.6 L893.1,380.5 L894.5,382.5 L895.8,384.4 L897.1,386.4 L898.4,388.4 L899.7,390.4 L901.0,392.4 L902.4,394.4 L903.7,396.4 L905.0,398.4 L906.3,400.5 L907.6,402.5 L908.9,404.6 L910.3,406.7 L911.6,408.8 L912.9,410.9 L914.2,413.0 L915.5,415.1 L916.8,417.2 L918.1,419.4 L919.5,421.5 L920.8,423.7 L922.1,425.8 L923.4,428.0 L924.7,430.2 L926.0,432.4 L927.4,434.6 L928.7,436.8 L930.0,439.1 L931.3,441.3 L932.6,443.6 L933.9,445.8 L935.3,448.1 L936.6,450.4 L937.9,452.7 L939.2,455.0 L940.5,457.3 L941.8,459.6 L943.2,461.9 L944.5,464.3 L945.8,466.6 L947.1,469.0 L948.4,471.3 L949.7,473.7 L951.1,476.1 L952.4,478.5 L953.7,480.9 L955.0,483.3 L956.3,485.7 L957.6,488.2 L958.9,490.6 L960.3,493.0 L961.6,495.5 L962.9,498.0 L964.2,500.4 L965.5,502.9 L966.8,505.4 L968.2,507.9 L969.5,510.4 L970.8,512.9 L972.1,515.5 L973.4,518.0 L974.7,520.5 L976.1,523.1 L977.4,525.6 L978.7,528.2 L980.0,530.8 L981.3,533.4 L982.6,535.9 L984.0,538.5 L985.3,541.1 L986.6,543.8 L987.9,546.4 L989.2,549.0 L990.5,551.6 L991.9,554.3 L993.2,556.9 L994.5,559.6 L995.8,562.3 L997.1,564.9 L998.4,567.6 L999.7,570.3 L1001.1,573.0 L1002.4,575.7 L1003.7,578.4 L1005.0,581.1 L1006.3,583.8 L1007.6,586.6 L1009.0,589.3 L1010.3,592.1 L1011.6,594.8 L1012.9,597.6 L1014.2,600.3 L1015.5,603.1 L1016.9,605.9 L1018.2,608.7 L1019.5,611.4 L1020.8,614.2 L1022.1,617.0 L1023.4,619.8 L1024.8,622.7 L1026.1,625.5 L1027.4,628.3 L1028.7,631.1 L1030.0,634.0 L1031.3,636.8 L1032.7,639.7 L1034.0,642.5 L1035.3,645.4 L1036.6,648.3 L1037.9,651.1 L1039.2,654.0 L1040.5,656.9 L1041.9,659.8 L1043.2,662.7 L1044.5,665.6 L1045.8,668.5 L1047.1,671.4 L1048.4,674.3 L1049.8,677.2 L1051.1,680.1 L1052.4,683.1 L1053.7,686.0 L1055.0,688.9 L1056.3,691.9 L1057.7,694.8 L1059.0,697.8 L1060.3,700.7 L1061.6,703.7 L1062.9,706.7 L1064.2,709.6 L1065.6,712.6 L1066.9,715.6 L1068.2,718.6 L1069.5,721.5 L1070.8,724.5 L1072.1,727.5 L1073.5,730.5 L1074.8,733.5 L1076.1,736.5 L1077.4,739.5 L1078.7,742.5 L1080.0,745.6 L1081.3,748.6 L1082.7,751.6 L1084.0,754.6 L1085.3,757.7 L1086.6,760.7 L1087.9,763.7 L1089.2,766.8 L1090.6,769.8 L1091.9,772.9 L1093.2,775.9 L1094.5,779.0 L1095.8,782.0 L1097.1,785.1 L1098.5,788.1 L1099.8,791.2 L1101.1,794.3 L1102.4,797.3 L1103.7,800.4 L1105.0,803.5 L1106.4,806.5 L1107.7,809.6 L1109.0,812.7 L1110.3,815.8 L1111.6,818.8 L1112.9,821.9 L1114.3,825.0 L1115.6,828.1 L1116.9,831.2 L1118.2,834.3 L1119.5,837.4 L1120.8,840.5 L1122.1,843.6 L1123.5,846.7 L1124.8,849.8 L1126.1,852.9 L1127.4,856.0 L1128.7,859.1 L1130.0,862.2 L1131.4,865.3 L1132.7,868.4 L1134.0,871.5 L1135.3,874.6 L1136.6,877.7 L1137.9,880.8 L1139.3,883.9 L1140.6,887.0 L1141.9,890.1 L1143.2,893.2 L1144.5,896.4 L1145.8,899.5 L1147.2,902.6 L1148.5,905.7 L1149.8,908.8 L1151.1,911.9 L1152.4,915.0 L1153.7,918.1 L1155.1,921.3 L1156.4,924.4 L1157.7,927.5 L1159.0,930.6 L1160.3,933.7 L1161.6,936.8 L1162.9,939.9 L1164.3,943.0 L1165.6,946.1 L1166.9,949.2 L1168.2,952.4 L1169.5,955.5 L1170.8,958.6 L1172.2,961.7 L1173.5,964.8 L1174.8,967.9 L1176.1,971.0 L1177.4,974.1 L1178.7,977.2 L1180.1,980.3 L1181.4,983.4 L1182.7,986.5 L1184.0,989.5 L1185.3,992.6 L1186.6,995.7 L1188.0,998.8 L1189.3,1001.9 L1190.6,1005.0 L1191.9,1008.1 L1193.2,1011.1 L1194.5,1014.2 L1195.9,1017.3 L1197.2,1020.4 L1198.5,1023.4 L1199.8,1026.5 L1201.1,1029.6 L1202.4,1032.6 L1203.7,1035.7 L1205.1,1038.8 L1206.4,1041.8 L1207.7,1044.9 L1209.0,1047.9 L1210.3,1051.0 L1211.6,1054.0 L1213.0,1057.1 L1214.3,1060.1 L1215.6,1063.1 L1216.9,1066.2 L1218.2,1069.2 L1219.5,1072.2 L1220.9,1075.2 L1222.2,1078.3 L1223.5,1081.3 L1224.8,1084.3 L1226.1,1087.3 L1227.4,1090.3 L1228.8,1093.3 L1230.1,1096.3 L1231.4,1099.3 L1232.7,1102.3 L1234.0,1105.3 L1235.3,1108.2 L1236.7,1111.2 L1238.0,1114.2 L1239.3,1117.2 L1240.6,1120.1 L1241.9,1123.1 L1243.2,1126.0 L1244.6,1129.0 L1245.9,1131.9 L1247.2,1134.9 L1248.5,1137.8 L1249.8,1140.8 L1251.1,1143.7 L1252.4,1146.6 L1253.8,1149.5 L1255.1,1152.4 L1256.4,1155.3 L1257.7,1158.2 L1259.0,1161.1 L1260.3,1164.0 L1261.7,1166.9 L1263.0,1169.8 L1264.3,1172.7 L1265.6,1175.5 L1266.9,1178.4 L1268.2,1181.3 L1269.6,1184.1 L1270.9,1187.0 L1272.2,1189.8 L1273.5,1192.7 L1274.8,1195.5 L1276.1,1198.3 L1277.5,1201.1 L1278.8,1203.9 L1280.1,1206.7 L1281.4,1209.5 L1282.7,1212.3 L1284.0,1215.1 L1285.4,1217.9 L1286.7,1220.7 L1288.0,1223.5 L1289.3,1226.2 L1290.6,1229.0 L1291.9,1231.7 L1293.2,1234.5 L1294.6,1237.2 L1295.9,1239.9 L1297.2,1242.6 L1298.5,1245.4 L1299.8,1248.1 L1301.1,1250.8 L1302.5,1253.5 L1303.8,1256.2 L1305.1,1258.8 L1306.4,1261.5 L1307.7,1264.2 L1309.0,1266.8 L1310.4,1269.5 L1311.7,1272.1 L1313.0,1274.7 L1314.3,1277.4 L1315.6,1280.0 L1316.9,1282.6 L1318.3,1285.2 L1319.6,1287.8 L1320.9,1290.4 L1322.2,1293.0 L1323.5,1295.5 L1324.8,1298.1 L1326.2,1300.7 L1327.5,1303.2 L1328.8,1305.8 L1330.1,1308.3 L1331.4,1310.8 L1332.7,1313.3 L1334.0,1315.8 L1335.4,1318.3 L1336.7,1320.8 L1338.0,1323.3 L1339.3,1325.8 L1340.6,1328.2 L1341.9,1330.7 L1343.3,1333.1 L1344.6,1335.6 L1345.9,1338.0 L1347.2,1340.4 L1348.5,1342.8 L1349.8,1345.2 L1351.2,1347.6 L1352.5,1350.0 L1353.8,1352.4 L1355.1,1354.7 L1356.4,1357.1 L1357.7,1359.4 L1359.1,1361.8 L1360.4,1364.1 L1361.7,1366.4 L1363.0,1368.7 L1364.3,1371.0 L1365.6,1373.3 L1367.0,1375.6 L1368.3,1377.9 L1369.6,1380.1 L1370.9,1382.4 L1372.2,1384.6 L1373.5,1386.8 L1374.8,1389.1 L1376.2,1391.3 L1377.5,1393.5 L1378.8,1395.7 L1380.1,1397.8 L1381.4,1400.0 L1382.7,1402.2 L1384.1,1404.3 L1385.4,1406.5 L1386.7,1408.6 L1388.0,1410.7 L1389.3,1412.8 L1390.6,1414.9 L1392.0,1417.0 L1393.3,1419.1 L1394.6,1421.1 L1395.9,1423.2 L1397.2,1425.2 L1398.5,1427.3 L1399.9,1429.3 L1401.2,1431.3 L1402.5,1433.3 L1403.8,1435.3 L1405.1,1437.3 L1406.4,1439.2 L1407.8,1441.2 L1409.1,1443.1 L1410.4,1445.1 L1411.7,1447.0 L1413.0,1448.9 L1414.3,1450.8 L1415.6,1452.7 L1417.0,1454.6 L1418.3,1456.4 L1419.6,1458.3 L1420.9,1460.1 L1422.2,1462.0 L1423.5,1463.8 L1424.9,1465.6 L1426.2,1467.4 L1427.5,1469.2 L1428.8,1471.0 L1430.1,1472.7 L1431.4,1474.5 L1432.8,1476.2 L1434.1,1477.9 L1435.4,1479.7 L1436.7,1481.4 L1438.0,1483.1 L1439.3,1484.7 L1440.7,1486.4 L1442.0,1488.1 L1443.3,1489.7 L1444.6,1491.3 L1445.9,1492.9 L1447.2,1494.6 L1448.6,1496.1 L1449.9,1497.7 L1451.2,1499.3 L1452.5,1500.9 L1453.8,1502.4 L1455.1,1503.9 L1456.4,1505.5 L1457.8,1507.0 L1459.1,1508.5 L1460.4,1509.9 L1461.7,1511.4 L1463.0,1512.9 L1464.3,1514.3 L1465.7,1515.7 L1467.0,1517.2 L1468.3,1518.6 L1469.6,1520.0 L1470.9,1521.4 L1472.2,1522.7 L1473.6,1524.1 L1474.9,1525.4 L1476.2,1526.7 L1477.5,1528.1 L1478.8,1529.4 L1480.1,1530.7 L1481.5,1531.9 L1482.8,1533.2 L1484.1,1534.5 L1485.4,1535.7 L1486.7,1536.9 L1488.0,1538.1 L1489.4,1539.3 L1490.7,1540.5 L1492.0,1541.7 L1493.3,1542.9 L1494.6,1544.0 L1495.9,1545.1 L1497.2,1546.3 L1498.6,1547.4 L1499.9,1548.5 L1501.2,1549.5 L1502.5,1550.6 L1503.8,1551.7 L1505.1,1552.7 L1506.5,1553.7 L1507.8,1554.7 L1509.1,1555.7 L1510.4,1556.7 L1511.7,1557.7 L1513.0,1558.7 L1514.4,1559.6 L1515.7,1560.5 L1517.0,1561.5 L1518.3,1562.4 L1519.6,1563.3 L1520.9,1564.1 L1522.3,1565.0 L1523.6,1565.9 L1524.9,1566.7 L1526.2,1567.5 L1527.5,1568.3 L1528.8,1569.1 L1530.2,1569.9 L1531.5,1570.7 L1532.8,1571.4 L1534.1,1572.2 L1535.4,1572.9 L1536.7,1573.6 L1538.0,1574.3 L1539.4,1575.0 L1540.7,1575.7 L1542.0,1576.3 L1543.3,1577.0 L1544.6,1577.6 L1545.9,1578.2 L1547.3,1578.8 L1548.6,1579.4 L1549.9,1580.0 L1551.2,1580.5 L1552.5,1581.1 L1553.8,1581.6 L1555.2,1582.1 L1556.5,1582.6 L1557.8,1583.1 L1559.1,1583.6 L1560.4,1584.0 L1561.7,1584.5 L1563.1,1584.9 L1564.4,1585.3 L1565.7,1585.8 L1567.0,1586.1 L1568.3,1586.5 L1569.6,1586.9 L1571.0,1587.2 L1572.3,1587.6 L1573.6,1587.9 L1574.9,1588.2 L1576.2,1588.5 L1577.5,1588.8 L1578.8,1589.0 L1580.2,1589.3 L1581.5,1589.5 L1582.8,1589.7 L1584.1,1589.9 L1585.4,1590.1 L1586.7,1590.3 L1588.1,1590.5 L1589.4,1590.6 L1590.7,1590.7 L1592.0,1590.9 L1593.3,1591.0 L1594.6,1591.1 L1596.0,1591.1 L1597.3,1591.2 L1598.6,1591.3 L1599.9,1591.3 L1601.2,1591.3 L1602.5,1591.3 L1603.9,1591.3 L1605.2,1591.3 L1606.5,1591.2 L1607.8,1591.2 L1609.1,1591.1 L1610.4,1591.1 L1611.8,1591.0 L1613.1,1590.9 L1614.4,1590.7 L1615.7,1590.6 L1617.0,1590.4 L1618.3,1590.3 L1619.6,1590.1 L1621.0,1589.9 L1622.3,1589.7 L1623.6,1589.5 L1624.9,1589.2 L1626.2,1589.0 L1627.5,1588.7 L1628.9,1588.5 L1630.2,1588.2 L1631.5,1587.9 L1632.8,1587.5 L1634.1,1587.2 L1635.4,1586.9 L1636.8,1586.5 L1638.1,1586.1 L1639.4,1585.7 L1640.7,1585.3 L1642.0,1584.9 L1643.3,1584.5 L1644.7,1584.0 L1646.0,1583.6 L1647.3,1583.1 L1648.6,1582.6 L1649.9,1582.1 L1651.2,1581.6 L1652.6,1581.0 L1653.9,1580.5 L1655.2,1579.9 L1656.5,1579.3 L1657.8,1578.8 L1659.1,1578.2 L1660.4,1577.5 L1661.8,1576.9 L1663.1,1576.3 L1664.4,1575.6 L1665.7,1574.9 L1667.0,1574.3 L1668.3,1573.6 L1669.7,1572.8 L1671.0,1572.1 L1672.3,1571.4 L1673.6,1570.6 L1674.9,1569.8 L1676.2,1569.1 L1677.6,1568.3 L1678.9,1567.5 L1680.2,1566.6 L1681.5,1565.8 L1682.8,1564.9 L1684.1,1564.1 L1685.5,1563.2 L1686.8,1562.3 L1688.1,1561.4 L1689.4,1560.5 L1690.7,1559.5 L1692.0,1558.6 L1693.4,1557.6 L1694.7,1556.7 L1696.0,1555.7 L1697.3,1554.7 L1698.6,1553.7 L1699.9,1552.6 L1701.3,1551.6 L1702.6,1550.5 L1703.9,1549.5 L1705.2,1548.4 L1706.5,1547.3 L1707.8,1546.2 L1709.1,1545.1 L1710.5,1543.9 L1711.8,1542.8 L1713.1,1541.6 L1714.4,1540.4 L1715.7,1539.2 L1717.0,1538.0 L1718.4,1536.8 L1719.7,1535.6 L1721.0,1534.4 L1722.3,1533.1 L1723.6,1531.8 L1724.9,1530.6 L1726.3,1529.3 L1727.6,1528.0 L1728.9,1526.6 L1730.2,1525.3 L1731.5,1524.0 L1732.8,1522.6 L1734.2,1521.2 L1735.5,1519.9 L1736.8,1518.5 L1738.1,1517.1 L1739.4,1515.6 L1740.7,1514.2 L1742.1,1512.8 L1743.4,1511.3 L1744.7,1509.8 L1746.0,1508.3 L1747.3,1506.8 L1748.6,1505.3 L1749.9,1503.8 L1751.3,1502.3 L1752.6,1500.7 L1753.9,1499.2 L1755.2,1497.6 L1756.5,1496.0 L1757.8,1494.4 L1759.2,1492.8 L1760.5,1491.2 L1761.8,1489.6 L1763.1,1487.9 L1764.4,1486.3 L1765.7,1484.6 L1767.1,1482.9 L1768.4,1481.2 L1769.7,1479.5 L1771.0,1477.8 L1772.3,1476.1 L1773.6,1474.3 L1775.0,1472.6 L1776.3,1470.8 L1777.6,1469.1 L1778.9,1467.3 L1780.2,1465.5 L1781.5,1463.7 L1782.9,1461.8 L1784.2,1460.0 L1785.5,1458.2 L1786.8,1456.3 L1788.1,1454.4 L1789.4,1452.6 L1790.7,1450.7 L1792.1,1448.8 L1793.4,1446.9 L1794.7,1444.9 L1796.0,1443.0 L1797.3,1441.0 L1798.6,1439.1 L1800.0,1437.1 L1801.3,1435.1 L1802.6,1433.2 L1803.9,1431.2 L1805.2,1429.1 L1806.5,1427.1 L1807.9,1425.1 L1809.2,1423.0 L1810.5,1421.0 L1811.8,1418.9 L1813.1,1416.8 L1814.4,1414.8 L1815.8,1412.7 L1817.1,1410.5 L1818.4,1408.4 L1819.7,1406.3 L1821.0,1404.2 L1822.3,1402.0 L1823.7,1399.9 L1825.0,1397.7 L1826.3,1395.5 L1827.6,1393.3 L1828.9,1391.1 L1830.2,1388.9 L1831.5,1386.7 L1832.9,1384.4 L1834.2,1382.2 L1835.5,1380.0 L1836.8,1377.7 L1838.1,1375.4 L1839.4,1373.1 L1840.8,1370.9 L1842.1,1368.6 L1843.4,1366.2 L1844.7,1363.9 L1846.0,1361.6 L1847.3,1359.3 L1848.7,1356.9 L1850.0,1354.6 L1851.3,1352.2 L1852.6,1349.8 L1853.9,1347.4 L1855.2,1345.0 L1856.6,1342.6 L1857.9,1340.2 L1859.2,1337.8 L1860.5,1335.4 L1861.8,1332.9 L1863.1,1330.5 L1864.5,1328.0 L1865.8,1325.6 L1867.1,1323.1 L1868.4,1320.6 L1869.7,1318.1 L1871.0,1315.6 L1872.3,1313.1 L1873.7,1310.6 L1875.0,1308.1 L1876.3,1305.6 L1877.6,1303.0 L1878.9,1300.5 L1880.2,1297.9 L1881.6,1295.3 L1882.9,1292.8 L1884.2,1290.2 L1885.5,1287.6 L1886.8,1285.0 L1888.1,1282.4 L1889.5,1279.8 L1890.8,1277.2 L1892.1,1274.5 L1893.4,1271.9 L1894.7,1269.3 L1896.0,1266.6 L1897.4,1264.0 L1898.7,1261.3 L1900.0,1258.6 L1901.3,1255.9 L1902.6,1253.3 L1903.9,1250.6 L1905.3,1247.9 L1906.6,1245.2 L1907.9,1242.4 L1909.2,1239.7 L1910.5,1237.0 L1911.8,1234.3 L1913.1,1231.5 L1914.5,1228.8 L1915.8,1226.0 L1917.1,1223.2 L1918.4,1220.5 L1919.7,1217.7 L1921.0,1214.9 L1922.4,1212.1 L1923.7,1209.3 L1925.0,1206.5 L1926.3,1203.7 L1927.6,1200.9 L1928.9,1198.1 L1930.3,1195.3 L1931.6,1192.4 L1932.9,1189.6 L1934.2,1186.8 L1935.5,1183.9 L1936.8,1181.1 L1938.2,1178.2 L1939.5,1175.3 L1940.8,1172.5 L1942.1,1169.6 L1943.4,1166.7 L1944.7,1163.8 L1946.1,1160.9 L1947.4,1158.0 L1948.7,1155.1 L1950.0,1152.2 L1951.3,1149.3 L1952.6,1146.4 L1953.9,1143.5 L1955.3,1140.5 L1956.6,1137.6 L1957.9,1134.7 L1959.2,1131.7 L1960.5,1128.8 L1961.8,1125.8 L1963.2,1122.9 L1964.5,1119.9 L1965.8,1116.9 L1967.1,1114.0 L1968.4,1111.0 L1969.7,1108.0 L1971.1,1105.0 L1972.4,1102.0 L1973.7,1099.1 L1975.0,1096.1 L1976.3,1093.1 L1977.6,1090.1 L1979.0,1087.1 L1980.3,1084.1 L1981.6,1081.0 L1982.9,1078.0 L1984.2,1075.0 L1985.5,1072.0 L1986.9,1069.0 L1988.2,1065.9 L1989.5,1062.9 L1990.8,1059.9 L1992.1,1056.8 L1993.4,1053.8 L1994.7,1050.7 L1996.1,1047.7 L1997.4,1044.6 L1998.7,1041.6 L2000.0,1038.5 L2001.3,1035.5 L2002.6,1032.4 L2004.0,1029.3 L2005.3,1026.3 L2006.6,1023.2 L2007.9,1020.1 L2009.2,1017.1 L2010.5,1014.0 L2011.9,1010.9 L2013.2,1007.8 L2014.5,1004.7 L2015.8,1001.7 L2017.1,998.6 L2018.4,995.5 L2019.8,992.4 L2021.1,989.3 L2022.4,986.2 L2023.7,983.1 L2025.0,980.0 L2026.3,976.9 L2027.7,973.8 L2029.0,970.7 L2030.3,967.6 L2031.6,964.5 L2032.9,961.4 L2034.2,958.3 L2035.5,955.2 L2036.9,952.1 L2038.2,949.0 L2039.5,945.9 L2040.8,942.8 L2042.1,939.7 L2043.4,936.6 L2044.8,933.5 L2046.1,930.3 L2047.4,927.2 L2048.7,924.1 L2050.0,921.0 L2051.3,917.9 L2052.7,914.8 L2054.0,911.7 L2055.3,908.6 L2056.6,905.5 L2057.9,902.3 L2059.2,899.2 L2060.6,896.1 L2061.9,893.0 L2063.2,889.9 L2064.5,886.8 L2065.8,883.7 L2067.1,880.6 L2068.5,877.5 L2069.8,874.4 L2071.1,871.2 L2072.4,868.1 L2073.7,865.0 L2075.0,861.9 L2076.3,858.8 L2077.7,855.7 L2079.0,852.6 L2080.3,849.5 L2081.6,846.4 L2082.9,843.3 L2084.2,840.2 L2085.6,837.1 L2086.9,834.0 L2088.2,831.0 L2089.5,827.9 L2090.8,824.8 L2092.1,821.7 L2093.5,818.6 L2094.8,815.5 L2096.1,812.4 L2097.4,809.4 L2098.7,806.3 L2100.0,803.2 L2101.4,800.1 L2102.7,797.1 L2104.0,794.0 L2105.3,790.9 L2106.6,787.9 L2107.9,784.8 L2109.3,781.8 L2110.6,778.7 L2111.9,775.7 L2113.2,772.6 L2114.5,769.6 L2115.8,766.5 L2117.2,763.5 L2118.5,760.5 L2119.8,757.4 L2121.1,754.4 L2122.4,751.4 L2123.7,748.3 L2125.0,745.3 L2126.4,742.3 L2127.7,739.3 L2129.0,736.3 L2130.3,733.3 L2131.6,730.3 L2132.9,727.3 L2134.3,724.3 L2135.6,721.3 L2136.9,718.3 L2138.2,715.3 L2139.5,712.4 L2140.8,709.4 L2142.2,706.4 L2143.5,703.5 L2144.8,700.5 L2146.1,697.5 L2147.4,694.6 L2148.7,691.6 L2150.1,688.7 L2151.4,685.8 L2152.7,682.8 L2154.0,679.9 L2155.3,677.0 L2156.6,674.1 L2158.0,671.1 L2159.3,668.2 L2160.6,665.3 L2161.9,662.4 L2163.2,659.5 L2164.5,656.7 L2165.8,653.8 L2167.2,650.9 L2168.5,648.0 L2169.8,645.2 L2171.1,642.3 L2172.4,639.4 L2173.7,636.6 L2175.1,633.8 L2176.4,630.9 L2177.7,628.1 L2179.0,625.3 L2180.3,622.4 L2181.6,619.6 L2183.0,616.8 L2184.3,614.0 L2185.6,611.2 L2186.9,608.4 L2188.2,605.7 L2189.5,602.9 L2190.9,600.1 L2192.2,597.4 L2193.5,594.6 L2194.8,591.8 L2196.1,589.1 L2197.4,586.4 L2198.8,583.6 L2200.1,580.9 L2201.4,578.2 L2202.7,575.5 L2204.0,572.8 L2205.3,570.1 L2206.6,567.4 L2208.0,564.7 L2209.3,562.1 L2210.6,559.4 L2211.9,556.7 L2213.2,554.1 L2214.5,551.4 L2215.9,548.8 L2217.2,546.2 L2218.5,543.6 L2219.8,540.9 L2221.1,538.3 L2222.4,535.7 L2223.8,533.2 L2225.1,530.6 L2226.4,528.0 L2227.7,525.4 L2229.0,522.9 L2230.3,520.3 L2231.7,517.8 L2233.0,515.3 L2234.3,512.7 L2235.6,510.2 L2236.9,507.7 L2238.2,505.2 L2239.6,502.7 L2240.9,500.2 L2242.2,497.8 L2243.5,495.3 L2244.8,492.9 L2246.1,490.4 L2247.4,488.0 L2248.8,485.5 L2250.1,483.1 L2251.4,480.7 L2252.7,478.3 L2254.0,475.9 L2255.3,473.5 L2256.7,471.2 L2258.0,468.8 L2259.3,466.4 L2260.6,464.1 L2261.9,461.8 L2263.2,459.4 L2264.6,457.1 L2265.9,454.8 L2267.2,452.5 L2268.5,450.2 L2269.8,447.9 L2271.1,445.7 L2272.5,443.4 L2273.8,441.1 L2275.1,438.9 L2276.4,436.7 L2277.7,434.5 L2279.0,432.2 L2280.4,430.0 L2281.7,427.9 L2283.0,425.7 L2284.3,423.5 L2285.6,421.3 L2286.9,419.2 L2288.2,417.1 L2289.6,414.9 L2290.9,412.8 L2292.2,410.7 L2293.5,408.6 L2294.8,406.5 L2296.1,404.4 L2297.5,402.4 L2298.8,400.3 L2300.1,398.3 L2301.4,396.2 L2302.7,394.2 L2304.0,392.2 L2305.4,390.2 L2306.7,388.2 L2308.0,386.2 L2309.3,384.3 L2310.6,382.3 L2311.9,380.4 L2313.3,378.4 L2314.6,376.5 L2315.9,374.6 L2317.2,372.7 L2318.5,370.8 L2319.8,368.9" stroke="#d95319" stroke-width="5.0"/>
<path d="M234.7,1082.1L262.3,1082.1M238.7,1072.3L258.3,1091.8M248.5,1068.3L248.5,1095.9M258.3,1072.3L238.7,1091.8" stroke="#d95319" stroke-width="5.0" fill="none"/>
<path d="M315.5,722.2L343.1,722.2M319.5,712.4L339.0,731.9M329.3,708.4L329.3,736.0M339.0,712.4L319.5,731.9" stroke="#d95319" stroke-width="5.0" fill="none"/>
<path d="M381.7,578.0L409.3,578.0M385.8,568.3L405.3,587.8M395.5,564.2L395.5,591.8M405.3,568.3L385.8,587.8" stroke="#d95319" stroke-width="5.0" fill="none"/>
<path d="M451.4,445.6L479.0,445.6M455.5,435.8L475.0,455.4M465.2,431.8L465.2,459.4M475.0,435.8L455.5,455.4" stroke="#d95319" stroke-width="5.0" fill="none"/>
<path d="M522.6,338.6L550.2,338.6M526.6,328.9L546.1,348.4M536.4,324.8L536.4,352.4M546.1,328.9L526.6,348.4" stroke="#d95319" stroke-width="5.0" fill="none"/>
<path d="M594.3,266.1L621.9,266.1M598.3,256.4L617.8,275.9M608.1,252.3L608.1,279.9M617.8,256.4L598.3,275.9" stroke="#d95319" stroke-width="5.0" fill="none"/>
<path d="M666.1,233.6L693.7,233.6M670.2,223.9L689.7,243.4M679.9,219.8L679.9,247.4M689.7,223.9L670.2,243.4" stroke="#d95319" stroke-width="5.0" fill="none"/>
<path d="M737.7,243.1L765.3,243.1M741.7,233.4L761.3,252.9M751.5,229.3L751.5,256.9M761.3,233.4L741.7,252.9" stroke="#d95319" stroke-width="5.0" fill="none"/>
<path d="M809.6,294.1L837.2,294.1M813.6,284.4L833.1,303.9M823.4,280.3L823.4,307.9M833.1,284.4L813.6,303.9" stroke="#d95319" stroke-width="5.0" fill="none"/>
<path d="M881.4,383.6L909.0,383.6M885.5,373.8L905.0,393.3M895.2,369.8L895.2,397.4M905.0,373.8L885.5,393.3" stroke="#d95319" stroke-width="5.0" fill="none"/>
<path d="M953.3,505.8L980.9,505.8M957.3,496.1L976.8,515.6M967.1,492.0L967.1,519.6M976.8,496.1L957.3,515.6" stroke="#d95319" stroke-width="5.0" fill="none"/>
<path d="M1025.1,653.3L1052.7,653.3M1029.2,643.6L1048.7,663.1M1038.9,639.5L1038.9,667.1M1048.7,643.6L1029.2,663.1" stroke="#d95319" stroke-width="5.0" fill="none"/>
<path d="M1097.0,816.9L1124.6,816.9M1101.0,807.1L1120.5,826.6M1110.8,803.1L1110.8,830.7M1120.5,807.1L1101.0,826.6" stroke="#d95319" stroke-width="5.0" fill="none"/>
<path d="M1168.8,986.3L1196.4,986.3M1172.9,976.6L1192.4,996.1M1182.6,972.5L1182.6,1000.1M1192.4,976.6L1172.9,996.1" stroke="#d95319" stroke-width="5.0" fill="none"/>
<path d="M1240.7,1151.1L1268.3,1151.1M1244.7,1141.4L1264.2,1160.9M1254.5,1137.3L1254.5,1164.9M1264.2,1141.4L1244.7,1160.9" stroke="#d95319" stroke-width="5.0" fill="none"/>
<path d="M1312.5,1301.0L1340.1,1301.0M1316.6,1291.3L1336.1,1310.8M1326.3,1287.2L1326.3,1314.8M1336.1,1291.3L1316.6,1310.8" stroke="#d95319" stroke-width="5.0" fill="none"/>
<path d="M1384.4,1426.8L1412.0,1426.8M1388.4,1417.0L1408.0,1436.5M1398.2,1413.0L1398.2,1440.6M1408.0,1417.0L1388.4,1436.5" stroke="#d95319" stroke-width="5.0" fill="none"/>
<path d="M1456.3,1520.4L1483.9,1520.4M1460.3,1510.7L1479.8,1530.2M1470.1,1506.6L1470.1,1534.2M1479.8,1510.7L1460.3,1530.2" stroke="#d95319" stroke-width="5.0" fill="none"/>
<path d="M1528.1,1576.3L1555.7,1576.3M1532.2,1566.5L1551.7,1586.0M1541.9,1562.5L1541.9,1590.1M1551.7,1566.5L1532.2,1586.0" stroke="#d95319" stroke-width="5.0" fill="none"/>
<path d="M1600.0,1590.8L1627.6,1590.8M1604.0,1581.0L1623.5,1600.5M1613.8,1577.0L1613.8,1604.6M1623.5,1581.0L1604.0,1600.5" stroke="#d95319" stroke-width="5.0" fill="none"/>
<path d="M1671.8,1563.1L1699.4,1563.1M1675.9,1553.3L1695.4,1572.8M1685.6,1549.3L1685.6,1576.9M1695.4,1553.3L1675.9,1572.8" stroke="#d95319" stroke-width="5.0" fill="none"/>
<path d="M1743.7,1494.9L1771.3,1494.9M1747.7,1485.1L1767.2,1504.6M1757.5,1481.1L1757.5,1508.7M1767.2,1485.1L1747.7,1504.6" stroke="#d95319" stroke-width="5.0" fill="none"/>
<path d="M1815.5,1390.4L1843.1,1390.4M1819.6,1380.6L1839.1,1400.2M1829.3,1376.6L1829.3,1404.2M1839.1,1380.6L1819.6,1400.2" stroke="#d95319" stroke-width="5.0" fill="none"/>
<path d="M1887.4,1256.2L1915.0,1256.2M1891.4,1246.4L1911.0,1265.9M1901.2,1242.4L1901.2,1270.0M1911.0,1246.4L1891.4,1265.9" stroke="#d95319" stroke-width="5.0" fill="none"/>
<path d="M1959.3,1100.5L1986.9,1100.5M1963.3,1090.7L1982.8,1110.3M1973.1,1086.7L1973.1,1114.3M1982.8,1090.7L1963.3,1110.3" stroke="#d95319" stroke-width="5.0" fill="none"/>
<path d="M2031.1,933.1L2058.7,933.1M2035.2,923.3L2054.7,942.9M2044.9,919.3L2044.9,946.9M2054.7,923.3L2035.2,942.9" stroke="#d95319" stroke-width="5.0" fill="none"/>
<path d="M2103.0,764.4L2130.6,764.4M2107.0,754.6L2126.5,774.1M2116.8,750.6L2116.8,778.2M2126.5,754.6L2107.0,774.1" stroke="#d95319" stroke-width="5.0" fill="none"/>
<path d="M2174.8,604.8L2202.4,604.8M2178.9,595.0L2198.4,614.6M2188.6,591.0L2188.6,618.6M2198.4,595.0L2178.9,614.6" stroke="#d95319" stroke-width="5.0" fill="none"/>
<path d="M2246.7,464.3L2274.3,464.3M2250.7,454.6L2270.2,474.1M2260.5,450.5L2260.5,478.1M2270.2,454.6L2250.7,474.1" stroke="#d95319" stroke-width="5.0" fill="none"/>
<path d="M248.5,1082.1 L248.9,1081.2 L249.2,1080.4 L249.6,1079.6 L250.0,1078.8 L250.3,1077.9 L250.7,1077.1 L251.1,1076.2 L251.4,1075.4 L251.8,1074.5 L252.2,1073.6 L252.5,1072.7 L252.9,1071.8 L253.2,1070.9 L253.6,1070.0 L253.9,1069.0 L254.2,1068.1 L254.6,1067.1 L254.9,1066.1 L255.3,1065.1 L255.6,1064.0 L255.9,1062.9 L256.2,1061.9 L256.5,1060.8 L256.9,1059.6 L257.2,1058.5 L257.5,1057.4 L257.8,1056.2 L258.1,1055.0 L258.4,1053.9 L258.7,1052.7 L259.0,1051.5 L259.3,1050.2 L259.5,1049.0 L259.8,1047.8 L260.1,1046.5 L260.4,1045.3 L260.7,1044.0 L260.9,1042.7 L261.2,1041.5 L261.5,1040.2 L261.8,1038.9 L262.0,1037.6 L262.3,1036.3 L262.5,1035.0 L262.8,1033.7 L263.1,1032.3 L263.3,1031.0 L263.6,1029.6 L263.8,1028.3 L264.0,1026.9 L264.3,1025.5 L264.5,1024.2 L264.7,1022.8 L264.9,1021.3 L265.2,1019.9 L265.4,1018.5 L265.6,1017.1 L265.8,1015.6 L266.0,1014.2 L266.2,1012.8 L266.4,1011.3 L266.7,1009.9 L266.9,1008.4 L267.1,1007.0 L267.3,1005.5 L267.5,1004.1 L267.7,1002.7 L267.9,1001.2 L268.1,999.8 L268.4,998.4 L268.6,996.9 L268.8,995.5 L269.0,994.1 L269.2,992.6 L269.4,991.2 L269.6,989.8 L269.9,988.3 L270.1,986.9 L270.3,985.4 L270.5,984.0 L270.7,982.5 L270.9,981.0 L271.1,979.5 L271.3,978.1 L271.4,976.6 L271.6,975.1 L271.8,973.6 L272.0,972.0 L272.1,970.5 L272.3,969.0 L272.5,967.4 L272.6,965.9 L272.8,964.3 L272.9,962.8 L273.1,961.2 L273.2,959.6 L273.3,958.0 L273.4,956.4 L273.6,954.8 L273.7,953.2 L273.8,951.6 L273.9,950.0 L274.0,948.4 L274.1,946.8 L274.1,945.1 L274.2,943.5 L274.3,941.9 L274.4,940.2 L274.5,938.6 L274.5,936.9 L274.6,935.3 L274.6,933.6 L274.7,932.0 L274.8,930.3 L274.8,928.7 L274.9,927.0 L274.9,925.4 L274.9,923.7 L275.0,922.1 L275.0,920.4 L275.1,918.7 L275.1,917.1 L275.1,915.4 L275.2,913.8 L275.2,912.1 L275.2,910.5 L275.2,908.8 L275.3,907.1 L275.3,905.5 L275.3,903.8 L275.3,902.1 L275.3,900.5 L275.4,898.8 L275.4,897.2 L275.4,895.5 L275.4,893.8 L275.4,892.2 L275.4,890.5 L275.5,888.8 L275.5,887.2 L275.5,885.5 L275.5,883.9 L275.5,882.2 L275.5,880.5 L275.6,878.9 L275.6,877.2 L275.6,875.6 L275.6,873.9 L275.7,872.2 L275.7,870.6 L275.7,868.9 L275.8,867.3 L275.8,865.6 L275.8,864.0 L275.9,862.3 L275.9,860.6 L276.0,859.0 L276.0,857.3 L276.1,855.7 L276.2,854.0 L276.2,852.4 L276.3,850.8 L276.4,849.1 L276.4,847.5 L276.5,845.8 L276.6,844.2 L276.7,842.6 L276.8,840.9 L276.9,839.3 L277.0,837.7 L277.1,836.1 L277.2,834.5 L277.3,832.9 L277.5,831.3 L277.6,829.8 L277.8,828.2 L277.9,826.7 L278.1,825.1 L278.2,823.6 L278.4,822.1 L278.6,820.6 L278.8,819.1 L279.0,817.6 L279.1,816.1 L279.3,814.6 L279.6,813.2 L279.8,811.7 L280.0,810.3 L280.2,808.8 L280.4,807.4 L280.6,806.0 L280.9,804.6 L281.1,803.3 L281.4,801.9 L281.6,800.5 L281.8,799.2 L282.1,797.9 L282.4,796.6 L282.6,795.3 L282.9,794.0 L283.2,792.7 L283.4,791.4 L283.7,790.2 L284.0,788.9 L284.3,787.7 L284.6,786.5 L284.9,785.3 L285.2,784.1 L285.5,782.9 L285.8,781.7 L286.1,780.6 L286.4,779.5 L286.7,778.3 L287.0,777.2 L287.3,776.1 L287.6,775.0 L287.9,773.9 L288.3,772.8 L288.6,771.8 L288.9,770.7 L289.2,769.6 L289.6,768.6 L289.9,767.6 L290.2,766.5 L290.6,765.5 L290.9,764.5 L291.2,763.5 L291.6,762.5 L291.9,761.6 L292.3,760.6 L292.6,759.6 L293.0,758.7 L293.3,757.7 L293.7,756.8 L294.0,755.8 L294.4,754.9 L294.7,754.0 L295.1,753.1 L295.4,752.2 L295.8,751.3 L296.1,750.4 L296.5,749.5 L296.8,748.6 L297.2,747.7 L297.6,746.9 L297.9,746.0 L298.3,745.2 L298.6,744.3 L299.0,743.5 L299.4,742.6 L299.7,741.8 L300.1,741.0 L300.5,740.1 L300.8,739.3 L301.2,738.5 L301.6,737.7 L301.9,736.8 L302.3,736.0 L302.7,735.2 L303.0,734.4 L303.4,733.6 L303.8,732.8 L304.2,732.0 L304.5,731.2 L304.9,730.3 L305.3,729.5 L305.6,728.7 L306.0,727.9 L306.4,727.1 L306.7,726.3 L307.1,725.5 L307.5,724.7 L307.8,723.9 L308.2,723.1 L308.6,722.3 L309.0,721.5 L309.3,720.7 L309.7,720.0 L310.1,719.2 L310.5,718.4 L310.8,717.7 L311.2,716.9 L311.6,716.2 L312.0,715.4 L312.3,714.7 L312.7,714.0 L313.1,713.2 L313.5,712.5 L313.9,711.8 L314.2,711.1 L314.6,710.4 L315.0,709.7 L315.4,709.0 L315.8,708.3 L316.2,707.6 L316.5,706.9 L316.9,706.2 L317.3,705.5 L317.7,704.8 L318.1,704.2 L318.5,703.5 L318.8,702.8 L319.2,702.1 L319.6,701.4 L320.0,700.8 L320.4,700.1 L320.8,699.4 L321.2,698.7 L321.5,698.1 L321.9,697.4 L322.3,696.7 L322.7,696.1 L323.1,695.4 L323.5,694.7 L323.9,694.1 L324.3,693.4 L324.6,692.8 L325.0,692.1 L325.4,691.5 L325.8,690.8 L326.2,690.2 L326.6,689.5 L327.0,688.9 L327.4,688.3 L327.8,687.6 L328.1,687.0 L328.5,686.4 L328.9,685.8 L329.3,685.2 L329.7,684.6 L330.1,684.0 L330.5,683.4 L330.9,682.8 L331.3,682.2 L331.7,681.6 L332.1,681.1 L332.5,680.5 L332.9,679.9 L333.3,679.4 L333.7,678.8 L334.1,678.3 L334.5,677.7 L334.9,677.2 L335.3,676.7 L335.7,676.1 L336.1,675.6 L336.5,675.1 L336.9,674.6 L337.3,674.1 L337.7,673.6 L338.1,673.1 L338.5,672.6 L338.9,672.1 L339.3,671.6 L339.7,671.1 L340.1,670.6 L340.5,670.1 L340.9,669.7 L341.3,669.2 L341.7,668.7 L342.1,668.2 L342.5,667.8 L342.9,667.3 L343.3,666.8 L343.8,666.4 L344.2,665.9 L344.6,665.5 L345.0,665.0 L345.4,664.5 L345.8,664.1 L346.2,663.6 L346.6,663.1 L347.0,662.7 L347.4,662.2 L347.8,661.7 L348.2,661.3 L348.6,660.8 L349.0,660.3 L349.4,659.8 L349.8,659.3 L350.2,658.9 L350.6,658.4 L351.0,657.9 L351.4,657.4 L351.8,656.9 L352.2,656.4 L352.6,655.9 L353.1,655.5 L353.5,655.0 L353.9,654.5 L354.3,654.0 L354.7,653.5 L355.1,653.0 L355.5,652.5 L355.9,652.0 L356.3,651.5 L356.7,651.0 L357.1,650.5 L357.5,650.0 L357.9,649.5 L358.3,649.0 L358.7,648.4 L359.1,647.9 L359.5,647.4 L359.9,646.9 L360.3,646.4 L360.7,645.9 L361.1,645.4 L361.5,644.9 L361.9,644.4 L362.3,643.8 L362.7,643.3 L363.1,642.8 L363.5,642.3 L363.9,641.8 L364.3,641.3 L364.7,640.7 L365.1,640.2 L365.5,639.7 L365.9,639.2 L366.3,638.6 L366.7,638.1 L367.1,637.6 L367.5,637.1 L367.9,636.5 L368.3,636.0 L368.7,635.5 L369.1,634.9 L369.5,634.4 L369.9,633.8 L370.3,633.3 L370.7,632.7 L371.1,632.2 L371.5,631.6 L371.9,631.1 L372.3,630.5 L372.7,629.9 L373.1,629.4 L373.5,628.8 L373.9,628.2 L374.3,627.6 L374.7,627.1 L375.1,626.5 L375.5,625.9 L375.9,625.3 L376.3,624.7 L376.7,624.1 L377.0,623.4 L377.4,622.8 L377.8,622.2 L378.2,621.6 L378.6,620.9 L379.0,620.3 L379.4,619.6 L379.8,619.0 L380.2,618.3 L380.5,617.7 L380.9,617.0 L381.3,616.3 L381.7,615.6 L382.1,614.9 L382.5,614.2 L382.8,613.5 L383.2,612.8 L383.6,612.1 L384.0,611.4 L384.4,610.7 L384.8,610.0 L385.1,609.3 L385.5,608.5 L385.9,607.8 L386.3,607.1 L386.6,606.3 L387.0,605.6 L387.4,604.8 L387.8,604.1 L388.2,603.3 L388.5,602.6 L388.9,601.8 L389.3,601.1 L389.7,600.3 L390.0,599.5 L390.4,598.8 L390.8,598.0 L391.2,597.2 L391.5,596.4 L391.9,595.7 L392.3,594.9 L392.7,594.1 L393.0,593.3 L393.4,592.5 L393.8,591.8 L394.1,591.0 L394.5,590.2 L394.9,589.4 L395.3,588.6 L395.6,587.8 L396.0,587.0 L396.4,586.3 L397.7,583.6 L398.9,580.9 L400.2,578.2 L401.5,575.6 L402.8,572.9 L404.1,570.2 L405.4,567.5 L406.6,564.9 L407.9,562.2 L409.2,559.5 L410.5,556.8 L411.8,554.2 L413.1,551.5 L414.3,548.8 L415.6,546.2 L416.9,543.5 L418.2,540.9 L419.5,538.2 L420.8,535.6 L422.0,533.0 L423.3,530.3 L424.6,527.6 L425.9,524.9 L427.2,522.2 L428.5,519.5 L429.7,516.8 L431.0,514.1 L432.3,511.4 L433.6,508.6 L434.9,505.9 L436.2,503.2 L437.4,500.5 L438.7,497.9 L440.0,495.2 L441.3,492.6 L442.6,490.0 L443.9,487.4 L445.1,484.8 L446.4,482.3 L447.7,479.8 L449.0,477.4 L450.3,474.9 L451.6,472.5 L452.8,470.1 L454.1,467.8 L455.4,465.4 L456.7,463.0 L458.0,460.7 L459.3,458.4 L460.5,456.0 L461.8,453.7 L463.1,451.4 L464.4,449.1 L465.7,446.8 L467.0,444.6 L468.2,442.3 L469.5,440.1 L470.8,437.8 L472.1,435.6 L473.4,433.4 L474.7,431.2 L475.9,429.0 L477.2,426.8 L478.5,424.7 L479.8,422.5 L481.1,420.4 L482.4,418.2 L483.6,416.1 L484.9,414.0 L486.2,411.9 L487.5,409.8 L488.8,407.7 L490.1,405.7 L491.3,403.6 L492.6,401.6 L493.9,399.5 L495.2,397.5 L496.5,395.5 L497.8,393.5 L499.0,391.5 L500.3,389.5 L501.6,387.5 L502.9,385.6 L504.2,383.6 L505.4,381.7 L506.7,379.8 L508.0,377.8 L509.3,375.9 L510.6,374.0 L511.9,372.2 L513.1,370.3 L514.4,368.4 L515.7,366.6 L517.0,364.7 L518.3,362.9 L519.6,361.1 L520.8,359.3 L522.1,357.5 L523.4,355.7 L524.7,353.9 L526.0,352.2 L527.3,350.4 L528.5,348.7 L529.8,346.9 L531.1,345.2 L532.4,343.5 L533.7,341.8 L535.0,340.1 L536.2,338.5 L537.5,336.8 L538.8,335.2 L540.1,333.5 L541.4,331.9 L542.7,330.3 L543.9,328.7 L545.2,327.1 L546.5,325.6 L547.8,324.0 L549.1,322.5 L550.4,320.9 L551.6,319.4 L552.9,317.9 L554.2,316.4 L555.5,314.9 L556.8,313.5 L558.1,312.0 L559.3,310.6 L560.6,309.2 L561.9,307.7 L563.2,306.3 L564.5,305.0 L565.8,303.6 L567.0,302.2 L568.3,300.9 L569.6,299.5 L570.9,298.2 L572.2,296.9 L573.5,295.6 L574.7,294.3 L576.0,293.1 L577.3,291.8 L578.6,290.5 L579.9,289.3 L581.2,288.1 L582.4,286.9 L583.7,285.7 L585.0,284.5 L586.3,283.3 L587.6,282.2 L588.9,281.0 L590.1,279.9 L591.4,278.8 L592.7,277.7 L594.0,276.6 L595.3,275.5 L596.6,274.4 L597.8,273.4 L599.1,272.3 L600.4,271.3 L601.7,270.3 L603.0,269.3 L604.3,268.3 L605.5,267.3 L606.8,266.3 L608.1,265.4 L609.4,264.5 L610.7,263.5 L612.0,262.6 L613.2,261.7 L614.5,260.9 L615.8,260.0 L617.1,259.2 L618.4,258.4 L619.7,257.7 L620.9,256.9 L622.2,256.2 L623.5,255.4 L624.8,254.7 L626.1,254.0 L627.3,253.3 L628.6,252.6 L629.9,252.0 L631.2,251.4 L632.5,250.8 L633.8,250.2 L635.0,249.7 L636.3,249.1 L637.6,248.5 L638.9,248.0 L640.2,247.4 L641.5,246.9 L642.7,246.4 L644.0,245.8 L645.3,245.3 L646.6,244.8 L647.9,244.4 L649.2,243.9 L650.4,243.4 L651.7,242.9 L653.0,242.5 L654.3,242.0 L655.6,241.6 L656.9,241.2 L658.1,240.8 L659.4,240.3 L660.7,239.9 L662.0,239.6 L663.3,239.2 L664.6,238.8 L665.8,238.5 L667.1,238.1 L668.4,237.8 L669.7,237.5 L671.0,237.2 L672.3,236.9 L673.5,236.7 L674.8,236.4 L676.1,236.1 L677.4,235.9 L678.7,235.7 L680.0,235.5 L681.2,235.2 L682.5,235.0 L683.8,234.9 L685.1,234.7 L686.4,234.5 L687.7,234.4 L688.9,234.2 L690.2,234.1 L691.5,234.0 L692.8,233.9 L694.1,233.8 L695.4,233.7 L696.6,233.6 L697.9,233.6 L699.2,233.5 L700.5,233.5 L701.8,233.5 L703.1,233.5 L704.3,233.5 L705.6,233.5 L706.9,233.6 L708.2,233.6 L709.5,233.7 L710.8,233.7 L712.0,233.8 L713.3,233.9 L714.6,234.0 L715.9,234.2 L717.2,234.3 L718.5,234.5 L719.7,234.6 L721.0,234.8 L722.3,235.0 L723.6,235.2 L724.9,235.5 L726.2,235.7 L727.4,236.0 L728.7,236.3 L730.0,236.5 L731.3,236.8 L732.6,237.2 L733.9,237.5 L735.1,237.8 L736.4,238.2 L737.7,238.6 L739.0,239.0 L740.3,239.4 L741.6,239.8 L742.8,240.2 L744.1,240.6 L745.4,241.1 L746.7,241.6 L748.0,242.1 L749.2,242.6 L750.5,243.1 L751.8,243.6 L753.1,244.1 L754.4,244.7 L755.7,245.3 L756.9,245.8 L758.2,246.4 L759.5,247.0 L760.8,247.7 L762.1,248.3 L763.4,249.0 L764.6,249.6 L765.9,250.3 L767.2,251.0 L768.5,251.7 L769.8,252.4 L771.1,253.2 L772.3,253.9 L773.6,254.7 L774.9,255.5 L776.2,256.3 L777.5,257.1 L778.8,257.9 L780.0,258.7 L781.3,259.5 L782.6,260.4 L783.9,261.3 L785.2,262.1 L786.5,263.0 L787.7,263.9 L789.0,264.9 L790.3,265.8 L791.6,266.7 L792.9,267.7 L794.2,268.7 L795.4,269.6 L796.7,270.6 L798.0,271.7 L799.3,272.7 L800.6,273.7 L801.9,274.8 L803.1,275.8 L804.4,276.9 L805.7,278.0 L807.0,279.1 L808.3,280.2 L809.6,281.3 L810.8,282.4 L812.1,283.6 L813.4,284.7 L814.7,285.9 L816.0,287.1 L817.3,288.3 L818.5,289.5 L819.8,290.7 L821.1,292.0 L822.4,293.2 L823.7,294.5 L825.0,295.7 L826.2,297.0 L827.5,298.3 L828.8,299.6 L830.1,301.0 L831.4,302.3 L832.7,303.6 L833.9,305.0 L835.2,306.4 L836.5,307.7 L837.8,309.1 L839.1,310.5 L840.4,312.0 L841.6,313.4 L842.9,314.8 L844.2,316.3 L845.5,317.7 L846.8,319.2 L848.1,320.7 L849.3,322.2 L850.6,323.7 L851.9,325.2 L853.2,326.8 L854.5,328.3 L855.8,329.9 L857.0,331.5 L858.3,333.0 L859.6,334.6 L860.9,336.2 L862.2,337.9 L863.5,339.5 L864.7,341.1 L866.0,342.8 L867.3,344.4 L868.6,346.1 L869.9,347.8 L871.1,349.5 L872.4,351.2 L873.7,352.9 L875.0,354.7 L876.3,356.4 L877.6,358.1 L878.8,359.9 L880.1,361.7 L881.4,363.5 L882.7,365.3 L884.0,367.1 L885.3,368.9 L886.5,370.7 L887.8,372.6 L889.1,374.4 L890.4,376.3 L891.7,378.1 L893.0,380.0 L894.2,381.9 L895.5,383.8 L896.8,385.7 L898.1,387.7 L899.4,389.6 L900.7,391.5 L901.9,393.5 L903.2,395.5 L904.5,397.4 L905.8,399.4 L907.1,401.4 L908.4,403.4 L909.6,405.4 L910.9,407.5 L912.2,409.5 L913.5,411.6 L914.8,413.6 L916.1,415.7 L917.3,417.8 L918.6,419.8 L919.9,421.9 L921.2,424.0 L922.5,426.2 L923.8,428.3 L925.0,430.4 L926.3,432.6 L927.6,434.7 L928.9,436.9 L930.2,439.1 L931.5,441.2 L932.7,443.4 L934.0,445.6 L935.3,447.8 L936.6,450.1 L937.9,452.3 L939.2,454.5 L940.4,456.8 L941.7,459.0 L943.0,461.3 L944.3,463.6 L945.6,465.9 L946.9,468.2 L948.1,470.5 L949.4,472.8 L950.7,475.1 L952.0,477.4 L953.3,479.8 L954.6,482.1 L955.8,484.5 L957.1,486.8 L958.4,489.2 L959.7,491.6 L961.0,494.0 L962.3,496.3 L963.5,498.8 L964.8,501.2 L966.1,503.6 L967.4,506.0 L968.7,508.5 L970.0,510.9 L971.2,513.3 L972.5,515.8 L973.8,518.3 L975.1,520.8 L976.4,523.2 L977.7,525.7 L978.9,528.2 L980.2,530.7 L981.5,533.3 L982.8,535.8 L984.1,538.3 L985.4,540.8 L986.6,543.4 L987.9,545.9 L989.2,548.5 L990.5,551.1 L991.8,553.6 L993.0,556.2 L994.3,558.8 L995.6,561.4 L996.9,564.0 L998.2,566.6 L999.5,569.2 L1000.7,571.9 L1002.0,574.5 L1003.3,577.1 L1004.6,579.8 L1005.9,582.4 L1007.2,585.1 L1008.4,587.7 L1009.7,590.4 L1011.0,593.1 L1012.3,595.8 L1013.6,598.5 L1014.9,601.1 L1016.1,603.8 L1017.4,606.6 L1018.7,609.3 L1020.0,612.0 L1021.3,614.7 L1022.6,617.4 L1023.8,620.2 L1025.1,622.9 L1026.4,625.7 L1027.7,628.4 L1029.0,631.2 L1030.3,634.0 L1031.5,636.7 L1032.8,639.5 L1034.1,642.3 L1035.4,645.1 L1036.7,647.9 L1038.0,650.7 L1039.2,653.5 L1040.5,656.3 L1041.8,659.1 L1043.1,661.9 L1044.4,664.7 L1045.7,667.6 L1046.9,670.4 L1048.2,673.2 L1049.5,676.1 L1050.8,678.9 L1052.1,681.8 L1053.4,684.6 L1054.6,687.5 L1055.9,690.4 L1057.2,693.2 L1058.5,696.1 L1059.8,699.0 L1061.1,701.9 L1062.3,704.7 L1063.6,707.6 L1064.9,710.5 L1066.2,713.4 L1067.5,716.3 L1068.8,719.2 L1070.0,722.2 L1071.3,725.1 L1072.6,728.0 L1073.9,730.9 L1075.2,733.8 L1076.5,736.8 L1077.7,739.7 L1079.0,742.6 L1080.3,745.6 L1081.6,748.5 L1082.9,751.5 L1084.2,754.4 L1085.4,757.4 L1086.7,760.3 L1088.0,763.3 L1089.3,766.2 L1090.6,769.2 L1091.9,772.2 L1093.1,775.1 L1094.4,778.1 L1095.7,781.1 L1097.0,784.1 L1098.3,787.1 L1099.6,790.0 L1100.8,793.0 L1102.1,796.0 L1103.4,799.0 L1104.7,802.0 L1106.0,805.0 L1107.3,808.0 L1108.5,811.0 L1109.8,814.0 L1111.1,817.0 L1112.4,820.0 L1113.7,823.0 L1114.9,826.0 L1116.2,829.0 L1117.5,832.0 L1118.8,835.1 L1120.1,838.1 L1121.4,841.1 L1122.6,844.1 L1123.9,847.1 L1125.2,850.1 L1126.5,853.2 L1127.8,856.2 L1129.1,859.2 L1130.3,862.2 L1131.6,865.3 L1132.9,868.3 L1134.2,871.3 L1135.5,874.3 L1136.8,877.4 L1138.0,880.4 L1139.3,883.4 L1140.6,886.5 L1141.9,889.5 L1143.2,892.5 L1144.5,895.6 L1145.7,898.6 L1147.0,901.6 L1148.3,904.7 L1149.6,907.7 L1150.9,910.7 L1152.2,913.8 L1153.4,916.8 L1154.7,919.8 L1156.0,922.9 L1157.3,925.9 L1158.6,928.9 L1159.9,932.0 L1161.1,935.0 L1162.4,938.0 L1163.7,941.1 L1165.0,944.1 L1166.3,947.1 L1167.6,950.2 L1168.8,953.2 L1170.1,956.2 L1171.4,959.2 L1172.7,962.3 L1174.0,965.3 L1175.3,968.3 L1176.5,971.3 L1177.8,974.4 L1179.1,977.4 L1180.4,980.4 L1181.7,983.4 L1183.0,986.4 L1184.2,989.5 L1185.5,992.5 L1186.8,995.5 L1188.1,998.5 L1189.4,1001.5 L1190.7,1004.5 L1191.9,1007.5 L1193.2,1010.5 L1194.5,1013.5 L1195.8,1016.5 L1197.1,1019.5 L1198.4,1022.5 L1199.6,1025.5 L1200.9,1028.5 L1202.2,1031.5 L1203.5,1034.5 L1204.8,1037.4 L1206.1,1040.4 L1207.3,1043.4 L1208.6,1046.4 L1209.9,1049.4 L1211.2,1052.3 L1212.5,1055.3 L1213.8,1058.3 L1215.0,1061.2 L1216.3,1064.2 L1217.6,1067.1 L1218.9,1070.1 L1220.2,1073.0 L1221.5,1076.0 L1222.7,1078.9 L1224.0,1081.9 L1225.3,1084.8 L1226.6,1087.7 L1227.9,1090.7 L1229.2,1093.6 L1230.4,1096.5 L1231.7,1099.4 L1233.0,1102.3 L1234.3,1105.3 L1235.6,1108.2 L1236.8,1111.1 L1238.1,1114.0 L1239.4,1116.9 L1240.7,1119.8 L1242.0,1122.6 L1243.3,1125.5 L1244.5,1128.4 L1245.8,1131.3 L1247.1,1134.1 L1248.4,1137.0 L1249.7,1139.9 L1251.0,1142.7 L1252.2,1145.6 L1253.5,1148.4 L1254.8,1151.3 L1256.1,1154.1 L1257.4,1156.9 L1258.7,1159.8 L1259.9,1162.6 L1261.2,1165.4 L1262.5,1168.2 L1263.8,1171.0 L1265.1,1173.8 L1266.4,1176.6 L1267.6,1179.4 L1268.9,1182.2 L1270.2,1185.0 L1271.5,1187.8 L1272.8,1190.5 L1274.1,1193.3 L1275.3,1196.1 L1276.6,1198.8 L1277.9,1201.6 L1279.2,1204.3 L1280.5,1207.0 L1281.8,1209.8 L1283.0,1212.5 L1284.3,1215.2 L1285.6,1217.9 L1286.9,1220.6 L1288.2,1223.3 L1289.5,1226.0 L1290.7,1228.7 L1292.0,1231.4 L1293.3,1234.1 L1294.6,1236.7 L1295.9,1239.4 L1297.2,1242.1 L1298.4,1244.7 L1299.7,1247.4 L1301.0,1250.0 L1302.3,1252.6 L1303.6,1255.2 L1304.9,1257.9 L1306.1,1260.5 L1307.4,1263.1 L1308.7,1265.7 L1310.0,1268.3 L1311.3,1270.8 L1312.6,1273.4 L1313.8,1276.0 L1315.1,1278.5 L1316.4,1281.1 L1317.7,1283.6 L1319.0,1286.2 L1320.3,1288.7 L1321.5,1291.2 L1322.8,1293.7 L1324.1,1296.2 L1325.4,1298.7 L1326.7,1301.2 L1328.0,1303.7 L1329.2,1306.2 L1330.5,1308.7 L1331.8,1311.1 L1333.1,1313.6 L1334.4,1316.0 L1335.7,1318.5 L1336.9,1320.9 L1338.2,1323.3 L1339.5,1325.7 L1340.8,1328.1 L1342.1,1330.5 L1343.4,1332.9 L1344.6,1335.3 L1345.9,1337.6 L1347.2,1340.0 L1348.5,1342.4 L1349.8,1344.7 L1351.1,1347.0 L1352.3,1349.4 L1353.6,1351.7 L1354.9,1354.0 L1356.2,1356.3 L1357.5,1358.6 L1358.7,1360.9 L1360.0,1363.2 L1361.3,1365.4 L1362.6,1367.7 L1363.9,1369.9 L1365.2,1372.2 L1366.4,1374.4 L1367.7,1376.6 L1369.0,1378.8 L1370.3,1381.0 L1371.6,1383.2 L1372.9,1385.4 L1374.1,1387.6 L1375.4,1389.7 L1376.7,1391.9 L1378.0,1394.0 L1379.3,1396.2 L1380.6,1398.3 L1381.8,1400.4 L1383.1,1402.5 L1384.4,1404.6 L1385.7,1406.7 L1387.0,1408.8 L1388.3,1410.8 L1389.5,1412.9 L1390.8,1414.9 L1392.1,1417.0 L1393.4,1419.0 L1394.7,1421.0 L1396.0,1423.0 L1397.2,1425.0 L1398.5,1427.0 L1399.8,1429.0 L1401.1,1430.9 L1402.4,1432.9 L1403.7,1434.8 L1404.9,1436.8 L1406.2,1438.7 L1407.5,1440.6 L1408.8,1442.5 L1410.1,1444.4 L1411.4,1446.3 L1412.6,1448.2 L1413.9,1450.0 L1415.2,1451.9 L1416.5,1453.7 L1417.8,1455.5 L1419.1,1457.4 L1420.3,1459.2 L1421.6,1461.0 L1422.9,1462.7 L1424.2,1464.5 L1425.5,1466.3 L1426.8,1468.0 L1428.0,1469.8 L1429.3,1471.5 L1430.6,1473.2 L1431.9,1474.9 L1433.2,1476.6 L1434.5,1478.3 L1435.7,1480.0 L1437.0,1481.6 L1438.3,1483.3 L1439.6,1484.9 L1440.9,1486.6 L1442.2,1488.2 L1443.4,1489.8 L1444.7,1491.4 L1446.0,1492.9 L1447.3,1494.5 L1448.6,1496.1 L1449.9,1497.6 L1451.1,1499.2 L1452.4,1500.7 L1453.7,1502.2 L1455.0,1503.7 L1456.3,1505.2 L1457.6,1506.7 L1458.8,1508.1 L1460.1,1509.6 L1461.4,1511.0 L1462.7,1512.4 L1464.0,1513.9 L1465.3,1515.3 L1466.5,1516.7 L1467.8,1518.0 L1469.1,1519.4 L1470.4,1520.8 L1471.7,1522.1 L1473.0,1523.4 L1474.2,1524.8 L1475.5,1526.1 L1476.8,1527.4 L1478.1,1528.6 L1479.4,1529.9 L1480.6,1531.2 L1481.9,1532.4 L1483.2,1533.7 L1484.5,1534.9 L1485.8,1536.1 L1487.1,1537.3 L1488.3,1538.5 L1489.6,1539.6 L1490.9,1540.8 L1492.2,1541.9 L1493.5,1543.1 L1494.8,1544.2 L1496.0,1545.3 L1497.3,1546.4 L1498.6,1547.5 L1499.9,1548.6 L1501.2,1549.6 L1502.5,1550.7 L1503.7,1551.7 L1505.0,1552.7 L1506.3,1553.7 L1507.6,1554.7 L1508.9,1555.7 L1510.2,1556.7 L1511.4,1557.6 L1512.7,1558.6 L1514.0,1559.5 L1515.3,1560.4 L1516.6,1561.3 L1517.9,1562.2 L1519.1,1563.1 L1520.4,1564.0 L1521.7,1564.8 L1523.0,1565.7 L1524.3,1566.5 L1525.6,1567.3 L1526.8,1568.1 L1528.1,1568.9 L1529.4,1569.7 L1530.7,1570.4 L1532.0,1571.2 L1533.3,1571.9 L1534.5,1572.6 L1535.8,1573.3 L1537.1,1574.0 L1538.4,1574.7 L1539.7,1575.4 L1541.0,1576.0 L1542.2,1576.7 L1543.5,1577.3 L1544.8,1577.9 L1546.1,1578.5 L1547.4,1579.1 L1548.7,1579.7 L1549.9,1580.3 L1551.2,1580.8 L1552.5,1581.3 L1553.8,1581.9 L1555.1,1582.4 L1556.4,1582.9 L1557.6,1583.4 L1558.9,1583.8 L1560.2,1584.3 L1561.5,1584.7 L1562.8,1585.2 L1564.1,1585.6 L1565.3,1586.0 L1566.6,1586.4 L1567.9,1586.7 L1569.2,1587.1 L1570.5,1587.5 L1571.8,1587.8 L1573.0,1588.1 L1574.3,1588.4 L1575.6,1588.7 L1576.9,1589.0 L1578.2,1589.3 L1579.5,1589.5 L1580.7,1589.8 L1582.0,1590.0 L1583.3,1590.2 L1584.6,1590.4 L1585.9,1590.6 L1587.2,1590.8 L1588.4,1590.9 L1589.7,1591.1 L1591.0,1591.2 L1592.3,1591.3 L1593.6,1591.4 L1594.9,1591.5 L1596.1,1591.6 L1597.4,1591.7 L1598.7,1591.7 L1600.0,1591.8 L1601.3,1591.8 L1602.5,1591.8 L1603.8,1591.8 L1605.1,1591.8 L1606.4,1591.7 L1607.7,1591.7 L1609.0,1591.6 L1610.2,1591.6 L1611.5,1591.5 L1612.8,1591.4 L1614.1,1591.3 L1615.4,1591.2 L1616.7,1591.0 L1617.9,1590.9 L1619.2,1590.7 L1620.5,1590.5 L1621.8,1590.3 L1623.1,1590.1 L1624.4,1589.9 L1625.6,1589.7 L1626.9,1589.4 L1628.2,1589.2 L1629.5,1588.9 L1630.8,1588.6 L1632.1,1588.3 L1633.3,1588.0 L1634.6,1587.7 L1635.9,1587.3 L1637.2,1587.0 L1638.5,1586.6 L1639.8,1586.2 L1641.0,1585.8 L1642.3,1585.4 L1643.6,1585.0 L1644.9,1584.6 L1646.2,1584.1 L1647.5,1583.7 L1648.7,1583.2 L1650.0,1582.7 L1651.3,1582.2 L1652.6,1581.7 L1653.9,1581.2 L1655.2,1580.6 L1656.4,1580.1 L1657.7,1579.5 L1659.0,1578.9 L1660.3,1578.3 L1661.6,1577.7 L1662.9,1577.1 L1664.1,1576.5 L1665.4,1575.8 L1666.7,1575.1 L1668.0,1574.5 L1669.3,1573.8 L1670.6,1573.1 L1671.8,1572.4 L1673.1,1571.6 L1674.4,1570.9 L1675.7,1570.1 L1677.0,1569.4 L1678.3,1568.6 L1679.5,1567.8 L1680.8,1567.0 L1682.1,1566.2 L1683.4,1565.4 L1684.7,1564.5 L1686.0,1563.7 L1687.2,1562.8 L1688.5,1561.9 L1689.8,1561.0 L1691.1,1560.1 L1692.4,1559.2 L1693.7,1558.2 L1694.9,1557.3 L1696.2,1556.3 L1697.5,1555.4 L1698.8,1554.4 L1700.1,1553.4 L1701.4,1552.4 L1702.6,1551.3 L1703.9,1550.3 L1705.2,1549.2 L1706.5,1548.2 L1707.8,1547.1 L1709.1,1546.0 L1710.3,1544.9 L1711.6,1543.8 L1712.9,1542.7 L1714.2,1541.5 L1715.5,1540.4 L1716.8,1539.2 L1718.0,1538.0 L1719.3,1536.9 L1720.6,1535.7 L1721.9,1534.4 L1723.2,1533.2 L1724.4,1532.0 L1725.7,1530.7 L1727.0,1529.5 L1728.3,1528.2 L1729.6,1526.9 L1730.9,1525.6 L1732.1,1524.3 L1733.4,1523.0 L1734.7,1521.6 L1736.0,1520.3 L1737.3,1518.9 L1738.6,1517.5 L1739.8,1516.2 L1741.1,1514.8 L1742.4,1513.4 L1743.7,1511.9 L1745.0,1510.5 L1746.3,1509.1 L1747.5,1507.6 L1748.8,1506.1 L1750.1,1504.7 L1751.4,1503.2 L1752.7,1501.7 L1754.0,1500.1 L1755.2,1498.6 L1756.5,1497.1 L1757.8,1495.5 L1759.1,1494.0 L1760.4,1492.4 L1761.7,1490.8 L1762.9,1489.2 L1764.2,1487.6 L1765.5,1486.0 L1766.8,1484.3 L1768.1,1482.7 L1769.4,1481.0 L1770.6,1479.4 L1771.9,1477.7 L1773.2,1476.0 L1774.5,1474.3 L1775.8,1472.6 L1777.1,1470.9 L1778.3,1469.1 L1779.6,1467.4 L1780.9,1465.6 L1782.2,1463.9 L1783.5,1462.1 L1784.8,1460.3 L1786.0,1458.5 L1787.3,1456.7 L1788.6,1454.9 L1789.9,1453.1 L1791.2,1451.2 L1792.5,1449.4 L1793.7,1447.5 L1795.0,1445.6 L1796.3,1443.7 L1797.6,1441.8 L1798.9,1439.9 L1800.2,1438.0 L1801.4,1436.1 L1802.7,1434.2 L1804.0,1432.2 L1805.3,1430.2 L1806.6,1428.3 L1807.9,1426.3 L1809.1,1424.3 L1810.4,1422.3 L1811.7,1420.3 L1813.0,1418.3 L1814.3,1416.2 L1815.6,1414.2 L1816.8,1412.2 L1818.1,1410.1 L1819.4,1408.0 L1820.7,1405.9 L1822.0,1403.9 L1823.3,1401.8 L1824.5,1399.7 L1825.8,1397.5 L1827.1,1395.4 L1828.4,1393.3 L1829.7,1391.1 L1831.0,1389.0 L1832.2,1386.8 L1833.5,1384.6 L1834.8,1382.4 L1836.1,1380.2 L1837.4,1378.0 L1838.7,1375.8 L1839.9,1373.6 L1841.2,1371.4 L1842.5,1369.1 L1843.8,1366.9 L1845.1,1364.6 L1846.3,1362.3 L1847.6,1360.1 L1848.9,1357.8 L1850.2,1355.5 L1851.5,1353.2 L1852.8,1350.9 L1854.0,1348.5 L1855.3,1346.2 L1856.6,1343.9 L1857.9,1341.5 L1859.2,1339.2 L1860.5,1336.8 L1861.7,1334.4 L1863.0,1332.1 L1864.3,1329.7 L1865.6,1327.3 L1866.9,1324.9 L1868.2,1322.4 L1869.4,1320.0 L1870.7,1317.6 L1872.0,1315.1 L1873.3,1312.7 L1874.6,1310.2 L1875.9,1307.8 L1877.1,1305.3 L1878.4,1302.8 L1879.7,1300.3 L1881.0,1297.9 L1882.3,1295.4 L1883.6,1292.8 L1884.8,1290.3 L1886.1,1287.8 L1887.4,1285.3 L1888.7,1282.7 L1890.0,1280.2 L1891.3,1277.6 L1892.5,1275.1 L1893.8,1272.5 L1895.1,1269.9 L1896.4,1267.3 L1897.7,1264.7 L1899.0,1262.1 L1900.2,1259.5 L1901.5,1256.9 L1902.8,1254.3 L1904.1,1251.7 L1905.4,1249.1 L1906.7,1246.4 L1907.9,1243.8 L1909.2,1241.1 L1910.5,1238.5 L1911.8,1235.8 L1913.1,1233.1 L1914.4,1230.5 L1915.6,1227.8 L1916.9,1225.1 L1918.2,1222.4 L1919.5,1219.7 L1920.8,1217.0 L1922.1,1214.3 L1923.3,1211.5 L1924.6,1208.8 L1925.9,1206.1 L1927.2,1203.3 L1928.5,1200.6 L1929.8,1197.8 L1931.0,1195.1 L1932.3,1192.3 L1933.6,1189.6 L1934.9,1186.8 L1936.2,1184.0 L1937.5,1181.2 L1938.7,1178.4 L1940.0,1175.6 L1941.3,1172.8 L1942.6,1170.0 L1943.9,1167.2 L1945.2,1164.4 L1946.4,1161.6 L1947.7,1158.8 L1949.0,1155.9 L1950.3,1153.1 L1951.6,1150.3 L1952.9,1147.4 L1954.1,1144.6 L1955.4,1141.7 L1956.7,1138.9 L1958.0,1136.0 L1959.3,1133.1 L1960.6,1130.3 L1961.8,1127.4 L1963.1,1124.5 L1964.4,1121.6 L1965.7,1118.7 L1967.0,1115.8 L1968.3,1112.9 L1969.5,1110.0 L1970.8,1107.1 L1972.1,1104.2 L1973.4,1101.3 L1974.7,1098.4 L1975.9,1095.5 L1977.2,1092.6 L1978.5,1089.6 L1979.8,1086.7 L1981.1,1083.8 L1982.4,1080.8 L1983.6,1077.9 L1984.9,1074.9 L1986.2,1072.0 L1987.5,1069.0 L1988.8,1066.1 L1990.1,1063.1 L1991.3,1060.2 L1992.6,1057.2 L1993.9,1054.2 L1995.2,1051.3 L1996.5,1048.3 L1997.8,1045.3 L1999.0,1042.3 L2000.3,1039.4 L2001.6,1036.4 L2002.9,1033.4 L2004.2,1030.4 L2005.5,1027.4 L2006.7,1024.4 L2008.0,1021.4 L2009.3,1018.4 L2010.6,1015.5 L2011.9,1012.5 L2013.2,1009.4 L2014.4,1006.4 L2015.7,1003.4 L2017.0,1000.4 L2018.3,997.4 L2019.6,994.4 L2020.9,991.4 L2022.1,988.4 L2023.4,985.4 L2024.7,982.4 L2026.0,979.3 L2027.3,976.3 L2028.6,973.3 L2029.8,970.3 L2031.1,967.2 L2032.4,964.2 L2033.7,961.2 L2035.0,958.2 L2036.3,955.1 L2037.5,952.1 L2038.8,949.1 L2040.1,946.1 L2041.4,943.0 L2042.7,940.0 L2044.0,937.0 L2045.2,933.9 L2046.5,930.9 L2047.8,927.9 L2049.1,924.8 L2050.4,921.8 L2051.7,918.8 L2052.9,915.7 L2054.2,912.7 L2055.5,909.7 L2056.8,906.6 L2058.1,903.6 L2059.4,900.6 L2060.6,897.5 L2061.9,894.5 L2063.2,891.5 L2064.5,888.4 L2065.8,885.4 L2067.1,882.4 L2068.3,879.3 L2069.6,876.3 L2070.9,873.3 L2072.2,870.2 L2073.5,867.2 L2074.8,864.2 L2076.0,861.2 L2077.3,858.1 L2078.6,855.1 L2079.9,852.1 L2081.2,849.1 L2082.5,846.0 L2083.7,843.0 L2085.0,840.0 L2086.3,837.0 L2087.6,834.0 L2088.9,831.0 L2090.2,828.0 L2091.4,824.9 L2092.7,821.9 L2094.0,818.9 L2095.3,815.9 L2096.6,812.9 L2097.8,809.9 L2099.1,806.9 L2100.4,803.9 L2101.7,800.9 L2103.0,797.9 L2104.3,794.9 L2105.5,792.0 L2106.8,789.0 L2108.1,786.0 L2109.4,783.0 L2110.7,780.0 L2112.0,777.1 L2113.2,774.1 L2114.5,771.1 L2115.8,768.2 L2117.1,765.2 L2118.4,762.2 L2119.7,759.3 L2120.9,756.3 L2122.2,753.4 L2123.5,750.4 L2124.8,747.5 L2126.1,744.5 L2127.4,741.6 L2128.6,738.7 L2129.9,735.7 L2131.2,732.8 L2132.5,729.9 L2133.8,726.9 L2135.1,724.0 L2136.3,721.1 L2137.6,718.2 L2138.9,715.3 L2140.2,712.4 L2141.5,709.5 L2142.8,706.6 L2144.0,703.7 L2145.3,700.8 L2146.6,697.9 L2147.9,695.1 L2149.2,692.2 L2150.5,689.3 L2151.7,686.5 L2153.0,683.6 L2154.3,680.8 L2155.6,677.9 L2156.9,675.1 L2158.2,672.2 L2159.4,669.4 L2160.7,666.5 L2162.0,663.7 L2163.3,660.9 L2164.6,658.1 L2165.9,655.3 L2167.1,652.5 L2168.4,649.7 L2169.7,646.9 L2171.0,644.1 L2172.3,641.3 L2173.6,638.5 L2174.8,635.7 L2176.1,633.0 L2177.4,630.2 L2178.7,627.4 L2180.0,624.7 L2181.3,621.9 L2182.5,619.2 L2183.8,616.5 L2185.1,613.7 L2186.4,611.0 L2187.7,608.3 L2189.0,605.6 L2190.2,602.9 L2191.5,600.2 L2192.8,597.5 L2194.1,594.8 L2195.4,592.1 L2196.7,589.5 L2197.9,586.8 L2199.2,584.1 L2200.5,581.5 L2201.8,578.8 L2203.1,576.2 L2204.4,573.6 L2205.6,570.9 L2206.9,568.3 L2208.2,565.7 L2209.5,563.1 L2210.8,560.5 L2212.1,557.9 L2213.3,555.3 L2214.6,552.7 L2215.9,550.2 L2217.2,547.6 L2218.5,545.0 L2219.7,542.5 L2221.0,539.9 L2222.3,537.4 L2223.6,534.9 L2224.9,532.4 L2226.2,529.8 L2227.4,527.3 L2228.7,524.8 L2230.0,522.4 L2231.3,519.9 L2232.6,517.4 L2233.9,514.9 L2235.1,512.5 L2236.4,510.0 L2237.7,507.6 L2239.0,505.1 L2240.3,502.7 L2241.6,500.3 L2242.8,497.9 L2244.1,495.5 L2245.4,493.1 L2246.7,490.7 L2248.0,488.3 L2249.3,486.0 L2250.5,483.6 L2251.8,481.3 L2253.1,478.9 L2254.4,476.6 L2255.7,474.3 L2257.0,471.9 L2258.2,469.6 L2259.5,467.3 L2260.8,465.1 L2262.1,462.8 L2263.4,460.5 L2264.7,458.2 L2265.9,456.0 L2267.2,453.7 L2268.5,451.5 L2269.8,449.3 L2271.1,447.1 L2272.4,444.9 L2273.6,442.7 L2274.9,440.5 L2276.2,438.3 L2277.5,436.1 L2278.8,434.0 L2280.1,431.8 L2281.3,429.7 L2282.6,427.5 L2283.9,425.4 L2285.2,423.3 L2286.5,421.2 L2287.8,419.1 L2289.0,417.0 L2290.3,414.9 L2291.6,412.9 L2292.9,410.8 L2294.2,408.8 L2295.5,406.7 L2296.7,404.7 L2298.0,402.7 L2299.3,400.7 L2300.6,398.7 L2301.9,396.7 L2303.2,394.8 L2304.4,392.8 L2305.7,390.8 L2307.0,388.9 L2308.3,387.0 L2309.6,385.0 L2310.9,383.1 L2312.1,381.2 L2313.4,379.4 L2314.7,377.5 L2316.0,375.6 L2317.3,373.7 L2318.6,371.9 L2319.8,370.1" stroke="#edb120" stroke-width="5.0" stroke-dasharray="16.4 3.7 8.2 3.3"/>
<path d="M248.5,1082.1 L248.8,1081.5 L249.2,1081.0 L249.5,1080.4 L249.8,1079.9 L250.2,1079.4 L250.5,1078.8 L250.8,1078.3 L251.2,1077.7 L251.5,1077.1 L251.8,1076.5 L252.2,1076.0 L252.5,1075.4 L252.8,1074.7 L253.1,1074.1 L253.5,1073.5 L253.8,1072.8 L254.1,1072.1 L254.4,1071.5 L254.7,1070.8 L255.0,1070.0 L255.3,1069.3 L255.7,1068.5 L256.0,1067.7 L256.3,1066.9 L256.6,1066.1 L256.9,1065.2 L257.1,1064.4 L257.4,1063.5 L257.7,1062.5 L258.0,1061.6 L258.2,1060.6 L258.5,1059.6 L258.8,1058.6 L259.0,1057.6 L259.2,1056.5 L259.5,1055.4 L259.7,1054.3 L259.9,1053.2 L260.1,1052.0 L260.3,1050.8 L260.5,1049.6 L260.7,1048.4 L260.9,1047.2 L261.0,1045.9 L261.2,1044.6 L261.3,1043.3 L261.5,1042.0 L261.6,1040.7 L261.8,1039.4 L261.9,1038.1 L262.0,1036.7 L262.2,1035.4 L262.3,1034.0 L262.4,1032.7 L262.5,1031.3 L262.7,1030.0 L262.8,1028.7 L262.9,1027.3 L263.0,1026.0 L263.2,1024.6 L263.3,1023.3 L263.4,1021.9 L263.5,1020.6 L263.6,1019.2 L263.7,1017.9 L263.8,1016.5 L263.9,1015.2 L264.0,1013.8 L264.2,1012.5 L264.3,1011.1 L264.4,1009.7 L264.4,1008.4 L264.5,1007.0 L264.6,1005.7 L264.7,1004.3 L264.8,1002.9 L264.9,1001.5 L265.0,1000.2 L265.1,998.8 L265.2,997.4 L265.2,996.0 L265.3,994.6 L265.4,993.2 L265.5,991.8 L265.5,990.4 L265.6,989.0 L265.7,987.7 L265.7,986.3 L265.8,984.9 L265.9,983.5 L265.9,982.0 L266.0,980.6 L266.1,979.2 L266.1,977.8 L266.2,976.4 L266.3,975.0 L266.3,973.6 L266.4,972.2 L266.4,970.8 L266.5,969.4 L266.5,968.0 L266.6,966.5 L266.6,965.1 L266.6,963.7 L266.7,962.3 L266.7,960.9 L266.7,959.5 L266.7,958.1 L266.7,956.6 L266.8,955.2 L266.8,953.8 L266.7,952.4 L266.7,951.0 L266.7,949.6 L266.7,948.2 L266.7,946.7 L266.6,945.3 L266.6,943.9 L266.6,942.5 L266.5,941.1 L266.5,939.7 L266.4,938.3 L266.4,936.8 L266.3,935.4 L266.3,934.0 L266.2,932.6 L266.2,931.2 L266.1,929.8 L266.1,928.4 L266.0,927.0 L265.9,925.5 L265.9,924.1 L265.8,922.7 L265.8,921.3 L265.7,919.9 L265.7,918.5 L265.6,917.1 L265.6,915.7 L265.5,914.3 L265.4,912.9 L265.4,911.5 L265.3,910.1 L265.2,908.7 L265.1,907.3 L265.1,905.9 L265.0,904.6 L264.9,903.2 L264.8,901.8 L264.7,900.5 L264.6,899.1 L264.5,897.7 L264.4,896.4 L264.3,895.0 L264.2,893.7 L264.1,892.3 L264.0,891.0 L263.9,889.6 L263.7,888.3 L263.6,886.9 L263.5,885.6 L263.4,884.2 L263.3,882.8 L263.2,881.5 L263.1,880.1 L263.0,878.8 L262.8,877.4 L262.7,876.1 L262.6,874.7 L262.5,873.3 L262.4,871.9 L262.3,870.6 L262.3,869.2 L262.2,867.8 L262.1,866.4 L262.0,865.0 L261.9,863.6 L261.9,862.3 L261.8,860.9 L261.7,859.4 L261.7,858.0 L261.6,856.6 L261.6,855.2 L261.6,853.8 L261.5,852.4 L261.5,851.0 L261.5,849.5 L261.5,848.1 L261.5,846.7 L261.5,845.3 L261.6,843.8 L261.6,842.4 L261.7,841.0 L261.8,839.6 L261.9,838.2 L262.0,836.9 L262.2,835.6 L262.3,834.3 L262.5,833.1 L262.7,832.0 L263.0,830.9 L263.2,829.9 L263.5,828.9 L263.8,828.0 L264.1,827.1 L264.4,826.3 L264.7,825.5 L265.0,824.7 L265.3,824.0 L265.6,823.4 L265.9,822.7 L266.2,822.1 L266.6,821.5 L266.9,820.9 L267.2,820.3 L267.6,819.8 L267.9,819.2 L268.2,818.6 L268.6,818.1 L268.9,817.5 L269.2,816.9 L269.6,816.3 L269.9,815.8 L270.2,815.2 L270.5,814.6 L270.9,814.1 L271.2,813.5 L271.5,813.0 L271.9,812.4 L272.2,811.9 L272.5,811.4 L272.9,810.9 L273.2,810.4 L273.6,809.9 L273.9,809.5 L274.2,809.1 L274.6,808.6 L274.9,808.3 L275.3,807.9 L275.6,807.5 L276.0,807.2 L276.3,806.8 L276.7,806.5 L277.0,806.2 L277.4,805.9 L277.7,805.6 L278.1,805.3 L278.4,805.0 L278.8,804.7 L279.2,804.4 L279.5,804.1 L279.9,803.8 L280.2,803.5 L280.6,803.2 L280.9,802.9 L281.3,802.6 L281.6,802.2 L282.0,801.9 L282.3,801.6 L282.7,801.3 L283.0,801.0 L283.4,800.7 L283.7,800.4 L284.1,800.1 L284.4,799.8 L284.8,799.5 L285.1,799.2 L285.5,798.9 L285.9,798.6 L286.2,798.4 L286.6,798.1 L286.9,797.9 L287.3,797.6 L287.6,797.4 L288.0,797.2 L288.3,797.0 L288.7,796.7 L289.0,796.5 L289.4,796.3 L289.8,796.1 L290.1,795.9 L290.5,795.7 L290.8,795.5 L291.2,795.3 L291.6,795.1 L291.9,795.0 L292.3,794.8 L292.6,794.6 L293.0,794.4 L293.3,794.2 L293.7,794.0 L294.1,793.8 L294.4,793.6 L294.8,793.4 L295.1,793.2 L295.5,792.9 L295.8,792.7 L296.2,792.5 L296.5,792.3 L296.9,792.0 L297.3,791.8 L297.6,791.5 L298.0,791.3 L298.3,791.0 L298.7,790.7 L299.0,790.4 L299.4,790.1 L299.7,789.8 L300.1,789.5 L300.4,789.2 L300.8,788.8 L301.1,788.5 L301.5,788.1 L301.8,787.8 L302.2,787.4 L302.5,787.0 L302.9,786.6 L303.2,786.2 L303.6,785.8 L303.9,785.4 L304.3,784.9 L304.6,784.5 L304.9,784.0 L305.3,783.5 L305.6,783.0 L306.0,782.5 L306.3,782.0 L306.6,781.5 L307.0,781.0 L307.3,780.4 L307.6,779.9 L308.0,779.3 L308.3,778.7 L308.6,778.1 L308.9,777.5 L309.3,776.9 L309.6,776.3 L309.9,775.7 L310.2,775.0 L310.6,774.4 L310.9,773.7 L311.2,773.0 L311.5,772.4 L311.8,771.7 L312.1,771.0 L312.5,770.3 L312.8,769.5 L313.1,768.8 L313.4,768.1 L313.7,767.3 L314.0,766.6 L314.3,765.8 L314.6,765.0 L314.9,764.3 L315.2,763.5 L315.5,762.7 L315.8,761.9 L316.1,761.1 L316.4,760.3 L316.7,759.5 L317.0,758.7 L317.3,757.8 L317.6,757.0 L317.9,756.2 L318.2,755.3 L318.5,754.5 L318.7,753.6 L319.0,752.8 L319.3,752.0 L319.6,751.1 L319.9,750.2 L320.2,749.4 L320.5,748.5 L320.8,747.7 L321.1,746.8 L321.3,746.0 L321.6,745.1 L321.9,744.2 L322.2,743.4 L322.5,742.5 L322.8,741.6 L323.1,740.8 L323.3,739.9 L323.6,739.0 L323.9,738.1 L324.2,737.2 L324.5,736.3 L324.8,735.5 L325.0,734.6 L325.3,733.6 L325.6,732.7 L325.9,731.8 L326.1,730.9 L326.4,730.0 L326.7,729.1 L327.0,728.1 L327.2,727.2 L327.5,726.3 L327.8,725.4 L328.1,724.4 L328.3,723.5 L328.6,722.6 L328.9,721.6 L329.1,720.7 L329.4,719.8 L329.7,718.9 L330.0,718.0 L330.2,717.0 L330.5,716.1 L330.8,715.2 L331.1,714.3 L331.4,713.4 L331.6,712.6 L331.9,711.7 L332.2,710.8 L332.5,709.9 L332.8,709.1 L333.1,708.2 L333.4,707.3 L333.7,706.5 L333.9,705.6 L334.2,704.8 L334.5,704.0 L334.8,703.1 L335.1,702.3 L335.4,701.5 L335.7,700.7 L336.0,699.9 L336.3,699.1 L336.6,698.3 L336.9,697.5 L337.2,696.7 L337.5,696.0 L337.8,695.2 L338.1,694.4 L338.4,693.6 L338.7,692.9 L339.0,692.1 L339.3,691.4 L339.6,690.6 L339.9,689.9 L340.2,689.1 L340.6,688.4 L340.9,687.6 L341.2,686.9 L341.5,686.1 L341.8,685.4 L342.1,684.6 L342.4,683.9 L342.7,683.2 L343.0,682.5 L343.3,681.7 L343.6,681.0 L344.0,680.3 L344.3,679.6 L344.6,678.9 L344.9,678.2 L345.2,677.5 L345.5,676.8 L345.8,676.2 L346.2,675.5 L346.5,674.8 L346.8,674.2 L347.1,673.6 L347.4,672.9 L347.8,672.3 L348.1,671.7 L348.4,671.0 L348.7,670.4 L349.1,669.8 L349.4,669.2 L349.7,668.6 L350.0,668.0 L350.4,667.4 L350.7,666.8 L351.0,666.2 L351.4,665.7 L351.7,665.1 L352.0,664.5 L352.4,663.9 L352.7,663.4 L353.0,662.8 L353.3,662.2 L353.7,661.6 L354.0,661.1 L354.3,660.5 L354.7,659.9 L355.0,659.4 L355.3,658.8 L355.7,658.2 L356.0,657.6 L356.3,657.1 L356.6,656.5 L357.0,655.9 L357.3,655.3 L357.6,654.7 L358.0,654.1 L358.3,653.5 L358.6,652.9 L358.9,652.3 L359.3,651.7 L359.6,651.1 L359.9,650.5 L360.3,649.9 L360.6,649.3 L360.9,648.7 L361.2,648.1 L361.6,647.5 L361.9,646.9 L362.2,646.3 L362.5,645.7 L362.9,645.1 L363.2,644.5 L363.5,643.8 L363.8,643.2 L364.2,642.6 L364.5,642.0 L364.8,641.4 L365.1,640.8 L365.5,640.2 L365.8,639.6 L366.1,639.0 L366.4,638.4 L366.8,637.8 L367.1,637.1 L367.4,636.5 L367.7,635.9 L368.1,635.3 L368.4,634.7 L368.7,634.2 L369.1,633.6 L369.4,633.0 L369.7,632.4 L370.0,631.8 L370.4,631.2 L370.7,630.6 L371.0,630.0 L371.4,629.4 L371.7,628.9 L372.0,628.3 L372.3,627.7 L372.7,627.1 L373.0,626.5 L373.3,625.9 L373.7,625.4 L374.0,624.8 L374.3,624.2 L374.6,623.6 L375.0,623.0 L375.3,622.5 L375.6,621.9 L376.0,621.3 L376.3,620.7 L376.6,620.1 L376.9,619.6 L377.3,619.0 L377.6,618.4 L377.9,617.8 L378.3,617.2 L378.6,616.6 L378.9,616.0 L379.2,615.5 L379.6,614.9 L379.9,614.3 L380.2,613.7 L380.6,613.1 L380.9,612.5 L381.2,611.9 L381.5,611.3 L381.9,610.7 L382.2,610.1 L382.5,609.5 L382.8,608.9 L383.2,608.3 L383.5,607.7 L383.8,607.1 L384.2,606.5 L384.5,605.9 L384.8,605.3 L385.1,604.7 L385.5,604.0 L385.8,603.4 L386.1,602.8 L386.4,602.2 L386.8,601.6 L387.1,601.0 L387.4,600.4 L387.7,599.8 L388.1,599.2 L388.4,598.5 L388.7,597.9 L389.0,597.3 L389.4,596.7 L389.7,596.1 L390.0,595.5 L390.3,594.8 L390.7,594.2 L391.0,593.6 L391.3,593.0 L391.6,592.4 L392.3,591.0 L392.9,589.7 L393.6,588.3 L394.2,586.9 L394.9,585.6 L395.5,584.2 L396.1,582.8 L396.8,581.5 L397.4,580.1 L398.1,578.7 L398.7,577.3 L399.4,576.0 L400.0,574.6 L400.6,573.2 L401.3,571.9 L401.9,570.5 L402.6,569.1 L403.2,567.7 L403.9,566.4 L404.5,565.0 L405.1,563.6 L405.8,562.3 L406.4,560.9 L407.1,559.5 L407.7,558.1 L408.4,556.8 L409.0,555.4 L409.6,554.0 L410.3,552.7 L410.9,551.3 L411.6,549.9 L412.2,548.6 L412.9,547.2 L413.5,545.8 L414.1,544.5 L414.8,543.1 L415.4,541.8 L416.1,540.4 L416.7,539.0 L417.4,537.7 L418.0,536.3 L418.6,535.0 L419.3,533.6 L419.9,532.3 L420.6,530.9 L421.2,529.6 L421.9,528.2 L422.5,526.9 L423.1,525.5 L423.8,524.2 L424.4,522.8 L425.1,521.5 L425.7,520.2 L426.4,518.8 L427.0,517.5 L427.6,516.2 L428.3,514.8 L428.9,513.5 L429.6,512.2 L430.2,510.9 L430.9,509.5 L431.5,508.2 L432.1,506.9 L432.8,505.6 L433.4,504.3 L434.1,503.0 L434.7,501.7 L435.4,500.4 L436.0,499.1 L436.6,497.8 L437.3,496.5 L437.9,495.2 L438.6,493.9 L439.2,492.6 L439.9,491.4 L440.5,490.1 L441.1,488.8 L441.8,487.6 L442.4,486.3 L443.1,485.0 L443.7,483.8 L444.4,482.5 L445.0,481.3 L445.6,480.0 L446.3,478.8 L446.9,477.5 L447.6,476.3 L448.2,475.1 L448.9,473.8 L449.5,472.6 L450.1,471.4 L450.8,470.2 L451.4,469.0 L452.1,467.8 L452.7,466.6 L453.4,465.4 L454.0,464.2 L454.6,463.0 L455.3,461.8 L455.9,460.6 L456.6,459.5 L457.2,458.3 L457.9,457.1 L458.5,456.0 L459.1,454.8 L459.8,453.7 L460.4,452.5 L461.1,451.4 L461.7,450.3 L462.4,449.1 L463.0,448.0 L463.6,446.9 L464.3,445.8 L464.9,444.7 L465.6,443.6 L466.2,442.5 L466.9,441.4 L467.5,440.3 L468.1,439.2 L468.8,438.1 L469.4,437.1 L470.1,436.0 L470.7,435.0 L471.4,433.9 L472.0,432.8 L472.6,431.8 L473.3,430.8 L473.9,429.7 L474.6,428.7 L475.2,427.7 L475.9,426.6 L476.5,425.6 L477.2,424.6 L477.8,423.6 L478.4,422.6 L479.1,421.6 L479.7,420.6 L480.4,419.6 L481.0,418.6 L481.7,417.6 L482.3,416.6 L482.9,415.7 L483.6,414.7 L484.2,413.7 L484.9,412.7 L485.5,411.8 L486.2,410.8 L486.8,409.9 L487.4,408.9 L488.1,407.9 L488.7,407.0 L489.4,406.0 L490.0,405.1 L490.7,404.2 L491.3,403.2 L491.9,402.3 L492.6,401.4 L493.2,400.4 L493.9,399.5 L494.5,398.6 L495.2,397.7 L495.8,396.7 L496.4,395.8 L497.1,394.9 L497.7,394.0 L498.4,393.1 L499.0,392.2 L499.7,391.3 L500.3,390.3 L500.9,389.4 L501.6,388.5 L502.2,387.6 L502.9,386.7 L503.5,385.8 L504.2,384.9 L504.8,384.1 L505.4,383.2 L506.1,382.3 L506.7,381.4 L507.4,380.5 L508.0,379.6 L508.7,378.7 L509.3,377.8 L509.9,376.9 L510.6,376.1 L511.2,375.2 L511.9,374.3 L512.5,373.4 L513.2,372.5 L513.8,371.6 L514.4,370.8 L515.1,369.9 L515.7,369.0 L516.4,368.1 L517.0,367.2 L517.7,366.4 L518.3,365.5 L518.9,364.6 L519.6,363.7 L520.2,362.8 L520.9,362.0 L521.5,361.1 L522.2,360.2 L522.8,359.3 L523.4,358.4 L524.1,357.5 L524.7,356.7 L525.4,355.8 L526.0,354.9 L526.7,354.0 L527.3,353.1 L527.9,352.3 L528.6,351.4 L529.2,350.5 L529.9,349.6 L530.5,348.7 L531.2,347.9 L531.8,347.0 L532.4,346.1 L533.1,345.2 L533.7,344.4 L534.4,343.5 L535.0,342.6 L535.7,341.7 L536.3,340.9 L536.9,340.0 L537.6,339.1 L538.2,338.3 L538.9,337.4 L539.5,336.5 L540.2,335.7 L540.8,334.8 L541.4,333.9 L542.1,333.1 L542.7,332.2 L543.4,331.4 L544.0,330.5 L544.7,329.7 L545.3,328.8 L545.9,328.0 L546.6,327.1 L547.2,326.3 L547.9,325.5 L548.5,324.6 L549.2,323.8 L549.8,323.0 L550.4,322.2 L551.1,321.3 L551.7,320.5 L552.4,319.7 L553.0,318.9 L553.7,318.1 L554.3,317.3 L554.9,316.5 L555.6,315.7 L556.2,314.9 L556.9,314.1 L557.5,313.3 L558.2,312.5 L558.8,311.7 L559.4,310.9 L560.1,310.2 L560.7,309.4 L561.4,308.6 L562.0,307.9 L562.7,307.1 L563.3,306.3 L563.9,305.6 L564.6,304.8 L565.2,304.1 L565.9,303.4 L566.5,302.6 L567.2,301.9 L567.8,301.2 L568.4,300.5 L569.1,299.7 L569.7,299.0 L570.4,298.3 L571.0,297.6 L571.7,296.9 L572.3,296.2 L572.9,295.5 L573.6,294.9 L574.2,294.2 L574.9,293.5 L575.5,292.8 L576.2,292.2 L576.8,291.5 L577.4,290.8 L578.1,290.2 L578.7,289.5 L579.4,288.9 L580.0,288.2 L580.7,287.6 L581.3,286.9 L582.0,286.3 L582.6,285.7 L583.2,285.0 L583.9,284.4 L584.5,283.8 L585.2,283.2 L585.8,282.6 L586.5,282.0 L587.1,281.4 L587.7,280.8 L588.4,280.2 L589.0,279.6 L589.7,279.0 L590.3,278.4 L591.0,277.8 L591.6,277.2 L592.2,276.6 L592.9,276.1 L593.5,275.5 L594.2,274.9 L594.8,274.4 L595.5,273.8 L596.1,273.3 L596.7,272.7 L597.4,272.1 L598.0,271.6 L598.7,271.0 L599.3,270.5 L600.0,270.0 L600.6,269.4 L601.2,268.9 L601.9,268.4 L602.5,267.8 L603.2,267.3 L603.8,266.8 L604.5,266.3 L605.1,265.8 L605.7,265.2 L606.4,264.7 L607.0,264.2 L607.7,263.7 L608.3,263.2 L609.0,262.7 L609.6,262.2 L610.2,261.7 L610.9,261.2 L611.5,260.7 L612.2,260.2 L612.8,259.8 L613.5,259.3 L614.1,258.8 L614.7,258.3 L615.4,257.9 L616.0,257.4 L616.7,257.0 L617.3,256.5 L618.0,256.1 L618.6,255.6 L619.2,255.2 L619.9,254.8 L620.5,254.4 L621.2,254.1 L621.8,253.7 L622.5,253.4 L623.1,253.1 L623.7,252.7 L624.4,252.4 L625.0,252.1 L625.7,251.9 L626.3,251.6 L627.0,251.3 L627.6,251.0 L628.2,250.8 L628.9,250.5 L629.5,250.2 L630.2,250.0 L630.8,249.7 L631.5,249.5 L632.1,249.3 L632.7,249.1 L633.4,248.9 L634.0,248.8 L634.7,248.6 L635.3,248.4 L636.0,248.3 L636.6,248.1 L637.2,248.0 L637.9,247.8 L638.5,247.6 L639.2,247.4 L639.8,247.3 L640.5,247.1 L641.1,246.9 L641.7,246.7 L642.4,246.6 L643.0,246.4 L643.7,246.2 L644.3,246.1 L645.0,245.9 L645.6,245.8 L646.2,245.7 L646.9,245.5 L647.5,245.4 L648.2,245.3 L648.8,245.2 L649.5,245.0 L650.1,244.9 L650.7,244.8 L651.4,244.6 L652.0,244.5 L652.7,244.4 L653.3,244.2 L654.0,244.1 L654.6,244.0 L655.2,243.8 L655.9,243.7 L656.5,243.5 L657.2,243.4 L657.8,243.2 L658.5,243.0 L659.1,242.8 L659.7,242.7 L660.4,242.5 L661.0,242.3 L661.7,242.1 L662.3,241.9 L663.0,241.7 L663.6,241.5 L664.2,241.3 L664.9,241.0 L665.5,240.8 L666.2,240.6 L666.8,240.3 L667.5,240.0 L668.1,239.8 L668.7,239.5 L669.4,239.3 L670.0,239.0 L670.7,238.7 L671.3,238.5 L672.0,238.2 L672.6,237.9 L673.2,237.7 L673.9,237.4 L674.5,237.1 L675.2,236.9 L675.8,236.6 L676.5,236.4 L677.1,236.1 L677.7,235.9 L678.4,235.6 L679.0,235.4 L679.7,235.1 L680.3,234.9 L681.0,234.7 L681.6,234.4 L682.3,234.2 L682.9,233.9 L683.5,233.7 L684.2,233.5 L684.8,233.2 L685.5,233.0 L686.1,232.8 L686.8,232.6 L687.4,232.4 L688.0,232.2 L688.7,232.0 L689.3,231.8 L690.0,231.6 L690.6,231.4 L691.3,231.2 L691.9,231.1 L692.5,230.9 L693.2,230.8 L693.8,230.6 L694.5,230.5 L695.1,230.4 L695.8,230.3 L696.4,230.1 L697.0,230.0 L697.7,229.9 L698.3,229.8 L699.0,229.8 L699.6,229.7 L700.3,229.6 L700.9,229.6 L701.5,229.5 L702.2,229.5 L702.8,229.5 L703.5,229.5 L704.1,229.5 L704.8,229.5 L705.4,229.5 L706.0,229.6 L706.7,229.6 L707.3,229.7 L708.0,229.7 L708.6,229.8 L709.3,229.9 L709.9,230.0 L710.5,230.1 L711.2,230.2 L711.8,230.4 L712.5,230.5 L713.1,230.7 L713.8,230.8 L714.4,231.0 L715.0,231.2 L715.7,231.4 L716.3,231.5 L717.0,231.7 L717.6,231.9 L718.3,232.1 L718.9,232.3 L719.5,232.6 L720.2,232.8 L720.8,233.0 L721.5,233.3 L722.1,233.5 L722.8,233.8 L723.4,234.0 L724.0,234.3 L724.7,234.5 L725.3,234.8 L726.0,235.1 L726.6,235.3 L727.3,235.6 L727.9,235.8 L728.5,236.1 L729.2,236.3 L729.8,236.5 L730.5,236.7 L731.1,236.9 L731.8,237.0 L732.4,237.2 L733.0,237.4 L733.7,237.5 L734.3,237.7 L735.0,237.8 L735.6,237.9 L736.3,238.1 L736.9,238.2 L737.5,238.3 L738.2,238.4 L738.8,238.6 L739.5,238.7 L740.1,238.8 L740.8,238.9 L741.4,239.0 L742.0,239.1 L742.7,239.3 L743.3,239.4 L744.0,239.5 L744.6,239.6 L745.3,239.8 L745.9,239.9 L746.5,240.0 L747.2,240.2 L747.8,240.3 L748.5,240.5 L749.1,240.7 L749.8,240.8 L750.4,241.0 L751.0,241.2 L751.7,241.4 L752.3,241.6 L753.0,241.9 L753.6,242.1 L754.3,242.3 L754.9,242.6 L755.5,242.9 L756.2,243.1 L756.8,243.4 L757.5,243.7 L758.1,244.0 L758.8,244.3 L759.4,244.6 L760.0,245.0 L760.7,245.3 L761.3,245.7 L762.0,246.0 L762.6,246.4 L763.3,246.7 L763.9,247.1 L764.5,247.5 L765.2,247.9 L765.8,248.3 L766.5,248.7 L767.1,249.1 L767.8,249.5 L768.4,250.0 L769.0,250.4 L769.7,250.8 L770.3,251.3 L771.0,251.7 L771.6,252.2 L772.3,252.7 L772.9,253.1 L773.5,253.6 L774.2,254.1 L774.8,254.6 L775.5,255.1 L776.1,255.6 L776.8,256.1 L777.4,256.6 L778.0,257.1 L778.7,257.6 L779.3,258.1 L780.0,258.6 L780.6,259.1 L781.3,259.7 L781.9,260.2 L782.5,260.7 L783.2,261.3 L783.8,261.8 L784.5,262.4 L785.1,262.9 L785.8,263.4 L786.4,264.0 L787.1,264.5 L787.7,265.1 L788.3,265.7 L789.0,266.2 L789.6,266.8 L790.3,267.3 L790.9,267.9 L791.6,268.5 L792.2,269.0 L792.8,269.6 L793.5,270.1 L794.1,270.7 L794.8,271.3 L795.4,271.8 L796.1,272.4 L796.7,273.0 L797.3,273.5 L798.0,274.1 L798.6,274.7 L799.3,275.2 L799.9,275.8 L800.6,276.3 L801.2,276.9 L801.8,277.5 L802.5,278.0 L803.1,278.6 L803.8,279.1 L804.4,279.7 L805.1,280.2 L805.7,280.8 L806.3,281.3 L807.0,281.8 L807.6,282.4 L808.3,282.9 L808.9,283.4 L809.6,284.0 L810.2,284.5 L810.8,285.0 L811.5,285.5 L812.1,286.0 L812.8,286.5 L813.4,287.0 L814.1,287.5 L814.7,288.0 L815.3,288.5 L816.0,289.0 L816.6,289.5 L817.3,290.0 L817.9,290.4 L818.6,290.9 L819.2,291.4 L819.8,291.8 L820.5,292.2 L821.1,292.7 L821.8,293.1 L822.4,293.5 L823.1,294.0 L823.7,294.5 L824.3,295.1 L825.0,295.8 L825.6,296.4 L826.3,297.1 L826.9,297.7 L827.6,298.4 L828.2,299.0 L828.8,299.7 L829.5,300.3 L830.1,301.0 L830.8,301.7 L831.4,302.3 L832.1,303.0 L832.7,303.7 L833.3,304.4 L834.0,305.0 L834.6,305.7 L835.3,306.4 L835.9,307.1 L836.6,307.8 L837.2,308.5 L837.8,309.2 L838.5,309.9 L839.1,310.6 L839.8,311.3 L840.4,312.0 L841.1,312.7 L841.7,313.5 L842.3,314.2 L843.0,314.9 L843.6,315.6 L844.3,316.4 L844.9,317.1 L845.6,317.8 L846.2,318.6 L846.8,319.3 L847.5,320.1 L848.1,320.8 L848.8,321.6 L849.4,322.3 L850.1,323.1 L850.7,323.8 L851.3,324.6 L852.0,325.4 L852.6,326.1 L853.3,326.9 L853.9,327.7 L854.6,328.4 L855.2,329.2 L855.8,330.0 L856.5,330.8 L857.1,331.6 L857.8,332.4 L858.4,333.2 L859.1,334.0 L859.7,334.8 L860.3,335.6 L861.0,336.4 L861.6,337.2 L862.3,338.0 L862.9,338.8 L863.6,339.6 L864.2,340.5 L864.8,341.3 L865.5,342.1 L866.1,342.9 L866.8,343.8 L867.4,344.6 L868.1,345.4 L868.7,346.3 L869.3,347.1 L870.0,348.0 L870.6,348.8 L871.3,349.7 L871.9,350.5 L872.6,351.4 L873.2,352.2 L873.8,353.1 L874.5,354.0 L875.1,354.8 L875.8,355.7 L876.4,356.6 L877.1,357.5 L877.7,358.3 L878.3,359.2 L879.0,360.1 L879.6,361.0 L880.3,361.9 L880.9,362.8 L881.6,363.7 L882.2,364.6 L882.8,365.5 L883.5,366.4 L884.1,367.3 L884.8,368.2 L885.4,369.1 L886.1,370.0 L886.7,370.9 L887.4,371.9 L888.0,372.8 L888.6,373.7 L889.3,374.6 L889.9,375.6 L890.6,376.5 L891.2,377.4 L891.9,378.4 L892.5,379.3 L893.1,380.3 L893.8,381.2 L894.4,382.2 L895.1,383.1 L895.7,384.1 L896.4,385.0 L897.0,386.0 L897.6,387.0 L898.3,387.9 L898.9,388.9 L899.6,389.9 L900.2,390.8 L900.9,391.8 L901.5,392.8 L902.1,393.8 L902.8,394.8 L903.4,395.8 L904.1,396.7 L904.7,397.7 L905.4,398.7 L906.0,399.7 L906.6,400.7 L907.3,401.7 L907.9,402.7 L908.6,403.7 L909.2,404.8 L909.9,405.8 L910.5,406.8 L911.1,407.8 L911.8,408.8 L912.4,409.8 L913.1,410.9 L913.7,411.9 L914.4,412.9 L915.0,414.0 L915.6,415.0 L916.3,416.0 L916.9,417.1 L917.6,418.1 L918.2,419.2 L918.9,420.2 L919.5,421.3 L920.1,422.3 L920.8,423.4 L921.4,424.4 L922.1,425.5 L922.7,426.6 L923.4,427.6 L924.0,428.7 L924.6,429.8 L925.3,430.8 L925.9,431.9 L926.6,433.0 L927.2,434.1 L927.9,435.1 L928.5,436.2 L929.1,437.3 L929.8,438.4 L930.4,439.5 L931.1,440.6 L931.7,441.7 L932.4,442.8 L933.0,443.9 L933.6,445.0 L934.3,446.1 L934.9,447.2 L935.6,448.3 L936.2,449.4 L936.9,450.5 L937.5,451.6 L938.1,452.8 L938.8,453.9 L939.4,455.0 L940.1,456.1 L940.7,457.3 L941.4,458.4 L942.0,459.5 L942.6,460.7 L943.3,461.8 L943.9,462.9 L944.6,464.1 L945.2,465.2 L945.9,466.4 L946.5,467.5 L947.1,468.7 L947.8,469.8 L948.4,471.0 L949.1,472.1 L949.7,473.3 L950.4,474.5 L951.0,475.6 L951.6,476.8 L952.3,478.0 L952.9,479.1 L953.6,480.3 L954.2,481.5 L954.9,482.7 L955.5,483.8 L956.1,485.0 L956.8,486.2 L957.4,487.4 L958.1,488.6 L958.7,489.8 L959.4,491.0 L960.0,492.2 L960.6,493.3 L961.3,494.5 L961.9,495.7 L962.6,496.9 L963.2,498.2 L963.9,499.4 L964.5,500.6 L965.1,501.8 L965.8,503.0 L966.4,504.2 L967.1,505.4 L967.7,506.6 L968.4,507.9 L969.0,509.1 L969.6,510.3 L970.3,511.5 L970.9,512.8 L971.6,514.0 L972.2,515.2 L972.9,516.5 L973.5,517.7 L974.1,518.9 L974.8,520.2 L975.4,521.4 L976.1,522.7 L976.7,523.9 L977.4,525.2 L978.0,526.4 L978.6,527.7 L979.3,528.9 L979.9,530.2 L980.6,531.4 L981.2,532.7 L981.9,534.0 L982.5,535.2 L983.1,536.5 L983.8,537.8 L984.4,539.0 L985.1,540.3 L985.7,541.6 L986.4,542.9 L987.0,544.1 L987.6,545.4 L988.3,546.7 L988.9,548.0 L989.6,549.3 L990.2,550.5 L990.9,551.8 L991.5,553.1 L992.2,554.4 L992.8,555.7 L993.4,557.0 L994.1,558.3 L994.7,559.6 L995.4,560.9 L996.0,562.2 L996.7,563.5 L997.3,564.8 L997.9,566.1 L998.6,567.4 L999.2,568.7 L999.9,570.1 L1000.5,571.4 L1001.2,572.7 L1001.8,574.0 L1002.4,575.3 L1003.1,576.6 L1003.7,578.0 L1004.4,579.3 L1005.0,580.6 L1005.7,581.9 L1006.3,583.3 L1006.9,584.6 L1007.6,585.9 L1008.2,587.3 L1008.9,588.6 L1009.5,589.9 L1010.2,591.3 L1010.8,592.6 L1011.4,594.0 L1012.1,595.3 L1012.7,596.7 L1013.4,598.0 L1014.0,599.4 L1014.7,600.7 L1015.3,602.1 L1015.9,603.4 L1016.6,604.8 L1017.2,606.1 L1017.9,607.5 L1018.5,608.8 L1019.2,610.2 L1019.8,611.6 L1020.4,612.9 L1021.1,614.3 L1021.7,615.7 L1022.4,617.0 L1023.0,618.4 L1023.7,619.8 L1024.3,621.1 L1024.9,622.5 L1025.6,623.9 L1026.2,625.3 L1026.9,626.7 L1027.5,628.0 L1028.2,629.4 L1028.8,630.8 L1029.4,632.2 L1030.1,633.6 L1030.7,635.0 L1031.4,636.3 L1032.0,637.7 L1032.7,639.1 L1033.3,640.5 L1033.9,641.9 L1034.6,643.3 L1035.2,644.7 L1035.9,646.1 L1036.5,647.5 L1037.2,648.9 L1037.8,650.3 L1038.4,651.7 L1039.1,653.1 L1039.7,654.5 L1040.4,655.9 L1041.0,657.3 L1041.7,658.7 L1042.3,660.2 L1042.9,661.6 L1043.6,663.0 L1044.2,664.4 L1044.9,665.8 L1045.5,667.2 L1046.2,668.7 L1046.8,670.1 L1047.4,671.5 L1048.1,672.9 L1048.7,674.3 L1049.4,675.8 L1050.0,677.2 L1050.7,678.6 L1051.3,680.0 L1051.9,681.5 L1052.6,682.9 L1053.2,684.3 L1053.9,685.8 L1054.5,687.2 L1055.2,688.6 L1055.8,690.1 L1056.4,691.5 L1057.1,693.0 L1057.7,694.4 L1058.4,695.8 L1059.0,697.3 L1059.7,698.7 L1060.3,700.2 L1060.9,701.6 L1061.6,703.1 L1062.2,704.5 L1062.9,705.9 L1063.5,707.4 L1064.2,708.8 L1064.8,710.3 L1065.4,711.8 L1066.1,713.2 L1066.7,714.7 L1067.4,716.1 L1068.0,717.6 L1068.7,719.0 L1069.3,720.5 L1069.9,721.9 L1070.6,723.4 L1071.2,724.9 L1071.9,726.3 L1072.5,727.8 L1073.2,729.3 L1073.8,730.7 L1074.4,732.2 L1075.1,733.7 L1075.7,735.1 L1076.4,736.6 L1077.0,738.1 L1077.7,739.5 L1078.3,741.0 L1078.9,742.5 L1079.6,743.9 L1080.2,745.4 L1080.9,746.9 L1081.5,748.4 L1082.2,749.8 L1082.8,751.3 L1083.4,752.8 L1084.1,754.3 L1084.7,755.8 L1085.4,757.2 L1086.0,758.7 L1086.7,760.2 L1087.3,761.7 L1087.9,763.2 L1088.6,764.6 L1089.2,766.1 L1089.9,767.6 L1090.5,769.1 L1091.2,770.6 L1091.8,772.1 L1092.5,773.6 L1093.1,775.0 L1093.7,776.5 L1094.4,778.0 L1095.0,779.5 L1095.7,781.0 L1096.3,782.5 L1097.0,784.0 L1097.6,785.5 L1098.2,787.0 L1098.9,788.5 L1099.5,790.0 L1100.2,791.5 L1100.8,793.0 L1101.5,794.5 L1102.1,796.0 L1102.7,797.5 L1103.4,799.0 L1104.0,800.5 L1104.7,802.0 L1105.3,803.5 L1106.0,805.0 L1106.6,806.5 L1107.2,808.0 L1107.9,809.5 L1108.5,811.0 L1109.2,812.5 L1109.8,814.0 L1110.5,815.5 L1111.1,817.0 L1111.7,818.5 L1112.4,820.0 L1113.0,821.5 L1113.7,823.0 L1114.3,824.5 L1115.0,826.0 L1115.6,827.5 L1116.2,829.0 L1116.9,830.5 L1117.5,832.1 L1118.2,833.6 L1118.8,835.1 L1119.5,836.6 L1120.1,838.1 L1120.7,839.6 L1121.4,841.1 L1122.0,842.6 L1122.7,844.1 L1123.3,845.7 L1124.0,847.2 L1124.6,848.7 L1125.2,850.2 L1125.9,851.7 L1126.5,853.2 L1127.2,854.7 L1127.8,856.3 L1128.5,857.8 L1129.1,859.3 L1129.7,860.8 L1130.4,862.3 L1131.0,863.8 L1131.7,865.4 L1132.3,866.9 L1133.0,868.4 L1133.6,869.9 L1134.2,871.4 L1134.9,872.9 L1135.5,874.5 L1136.2,876.0 L1136.8,877.5 L1137.5,879.0 L1138.1,880.5 L1138.7,882.1 L1139.4,883.6 L1140.0,885.1 L1140.7,886.6 L1141.3,888.1 L1142.0,889.6 L1142.6,891.2 L1143.2,892.7 L1143.9,894.2 L1144.5,895.7 L1145.2,897.2 L1145.8,898.8 L1146.5,900.3 L1147.1,901.8 L1147.7,903.3 L1148.4,904.8 L1149.0,906.4 L1149.7,907.9 L1150.3,909.4 L1151.0,910.9 L1151.6,912.4 L1152.2,914.0 L1152.9,915.5 L1153.5,917.0 L1154.2,918.5 L1154.8,920.0 L1155.5,921.6 L1156.1,923.1 L1156.7,924.6 L1157.4,926.1 L1158.0,927.6 L1158.7,929.2 L1159.3,930.7 L1160.0,932.2 L1160.6,933.7 L1161.2,935.2 L1161.9,936.8 L1162.5,938.3 L1163.2,939.8 L1163.8,941.3 L1164.5,942.8 L1165.1,944.4 L1165.7,945.9 L1166.4,947.4 L1167.0,948.9 L1167.7,950.4 L1168.3,952.0 L1169.0,953.5 L1169.6,955.0 L1170.2,956.5 L1170.9,958.0 L1171.5,959.5 L1172.2,961.1 L1172.8,962.6 L1173.5,964.1 L1174.1,965.6 L1174.7,967.1 L1175.4,968.6 L1176.0,970.1 L1176.7,971.7 L1177.3,973.2 L1178.0,974.7 L1178.6,976.2 L1179.2,977.7 L1179.9,979.2 L1180.5,980.7 L1181.2,982.3 L1181.8,983.8 L1182.5,985.3 L1183.1,986.8 L1183.7,988.3 L1184.4,989.8 L1185.0,991.3 L1185.7,992.8 L1186.3,994.3 L1187.0,995.9 L1187.6,997.4 L1188.2,998.9 L1188.9,1000.4 L1189.5,1001.9 L1190.2,1003.4 L1190.8,1004.9 L1191.5,1006.4 L1192.1,1007.9 L1192.7,1009.4 L1193.4,1010.9 L1194.0,1012.4 L1194.7,1013.9 L1195.3,1015.4 L1196.0,1016.9 L1196.6,1018.4 L1197.3,1019.9 L1197.9,1021.4 L1198.5,1022.9 L1199.2,1024.4 L1199.8,1025.9 L1200.5,1027.4 L1201.1,1028.9 L1201.8,1030.4 L1202.4,1031.9 L1203.0,1033.4 L1203.7,1034.9 L1204.3,1036.4 L1205.0,1037.9 L1205.6,1039.4 L1206.3,1040.9 L1206.9,1042.4 L1207.5,1043.9 L1208.2,1045.4 L1208.8,1046.9 L1209.5,1048.3 L1210.1,1049.8 L1210.8,1051.3 L1211.4,1052.8 L1212.0,1054.3 L1212.7,1055.8 L1213.3,1057.3 L1214.0,1058.8 L1214.6,1060.2 L1215.3,1061.7 L1215.9,1063.2 L1216.5,1064.7 L1217.2,1066.2 L1217.8,1067.6 L1218.5,1069.1 L1219.1,1070.6 L1219.8,1072.1 L1220.4,1073.6 L1221.0,1075.0 L1221.7,1076.5 L1222.3,1078.0 L1223.0,1079.5 L1223.6,1080.9 L1224.3,1082.4 L1224.9,1083.9 L1225.5,1085.3 L1226.2,1086.8 L1226.8,1088.3 L1227.5,1089.8 L1228.1,1091.2 L1228.8,1092.7 L1229.4,1094.2 L1230.0,1095.6 L1230.7,1097.1 L1231.3,1098.5 L1232.0,1100.0 L1232.6,1101.5 L1233.3,1102.9 L1233.9,1104.4 L1234.5,1105.8 L1235.2,1107.3 L1235.8,1108.8 L1236.5,1110.2 L1237.1,1111.7 L1237.8,1113.1 L1238.4,1114.6 L1239.0,1116.0 L1239.7,1117.5 L1240.3,1118.9 L1241.0,1120.4 L1241.6,1121.8 L1242.3,1123.3 L1242.9,1124.7 L1243.5,1126.1 L1244.2,1127.6 L1244.8,1129.0 L1245.5,1130.5 L1246.1,1131.9 L1246.8,1133.3 L1247.4,1134.8 L1248.0,1136.2 L1248.7,1137.7 L1249.3,1139.1 L1250.0,1140.5 L1250.6,1142.0 L1251.3,1143.4 L1251.9,1144.8 L1252.5,1146.2 L1253.2,1147.7 L1253.8,1149.1 L1254.5,1150.5 L1255.1,1151.9 L1255.8,1153.4 L1256.4,1154.8 L1257.0,1156.2 L1257.7,1157.6 L1258.3,1159.0 L1259.0,1160.5 L1259.6,1161.9 L1260.3,1163.3 L1260.9,1164.7 L1261.5,1166.1 L1262.2,1167.5 L1262.8,1168.9 L1263.5,1170.3 L1264.1,1171.7 L1264.8,1173.1 L1265.4,1174.5 L1266.0,1175.9 L1266.7,1177.3 L1267.3,1178.7 L1268.0,1180.1 L1268.6,1181.5 L1269.3,1182.9 L1269.9,1184.3 L1270.5,1185.7 L1271.2,1187.1 L1271.8,1188.5 L1272.5,1189.9 L1273.1,1191.3 L1273.8,1192.7 L1274.4,1194.0 L1275.0,1195.4 L1275.7,1196.8 L1276.3,1198.2 L1277.0,1199.6 L1277.6,1200.9 L1278.3,1202.3 L1278.9,1203.7 L1279.5,1205.1 L1280.2,1206.4 L1280.8,1207.8 L1281.5,1209.2 L1282.1,1210.5 L1282.8,1211.9 L1283.4,1213.3 L1284.0,1214.6 L1284.7,1216.0 L1285.3,1217.4 L1286.0,1218.7 L1286.6,1220.1 L1287.3,1221.4 L1287.9,1222.8 L1288.5,1224.1 L1289.2,1225.5 L1289.8,1226.8 L1290.5,1228.2 L1291.1,1229.5 L1291.8,1230.9 L1292.4,1232.2 L1293.0,1233.5 L1293.7,1234.9 L1294.3,1236.2 L1295.0,1237.6 L1295.6,1238.9 L1296.3,1240.2 L1296.9,1241.5 L1297.6,1242.9 L1298.2,1244.2 L1298.8,1245.5 L1299.5,1246.9 L1300.1,1248.2 L1300.8,1249.5 L1301.4,1250.8 L1302.1,1252.1 L1302.7,1253.4 L1303.3,1254.8 L1304.0,1256.1 L1304.6,1257.4 L1305.3,1258.7 L1305.9,1260.0 L1306.6,1261.3 L1307.2,1262.6 L1307.8,1263.9 L1308.5,1265.2 L1309.1,1266.5 L1309.8,1267.8 L1310.4,1269.1 L1311.1,1270.4 L1311.7,1271.7 L1312.3,1273.0 L1313.0,1274.3 L1313.6,1275.5 L1314.3,1276.8 L1314.9,1278.1 L1315.6,1279.4 L1316.2,1280.7 L1316.8,1281.9 L1317.5,1283.2 L1318.1,1284.5 L1318.8,1285.8 L1319.4,1287.0 L1320.1,1288.3 L1320.7,1289.6 L1321.3,1290.8 L1322.0,1292.1 L1322.6,1293.4 L1323.3,1294.6 L1323.9,1295.9 L1324.6,1297.1 L1325.2,1298.4 L1325.8,1299.6 L1326.5,1300.9 L1327.1,1302.1 L1327.8,1303.4 L1328.4,1304.6 L1329.1,1305.8 L1329.7,1307.1 L1330.3,1308.3 L1331.0,1309.5 L1331.6,1310.8 L1332.3,1312.0 L1332.9,1313.2 L1333.6,1314.5 L1334.2,1315.7 L1334.8,1316.9 L1335.5,1318.1 L1336.1,1319.4 L1336.8,1320.6 L1337.4,1321.8 L1338.1,1323.0 L1338.7,1324.2 L1339.3,1325.4 L1340.0,1326.6 L1340.6,1327.8 L1341.3,1329.0 L1341.9,1330.2 L1342.6,1331.4 L1343.2,1332.6 L1343.8,1333.8 L1344.5,1335.0 L1345.1,1336.2 L1345.8,1337.4 L1346.4,1338.6 L1347.1,1339.7 L1347.7,1340.9 L1348.3,1342.1 L1349.0,1343.3 L1349.6,1344.5 L1350.3,1345.6 L1350.9,1346.8 L1351.6,1348.0 L1352.2,1349.1 L1352.8,1350.3 L1353.5,1351.5 L1354.1,1352.6 L1354.8,1353.8 L1355.4,1354.9 L1356.1,1356.1 L1356.7,1357.2 L1357.3,1358.4 L1358.0,1359.5 L1358.6,1360.7 L1359.3,1361.8 L1359.9,1362.9 L1360.6,1364.1 L1361.2,1365.2 L1361.8,1366.3 L1362.5,1367.5 L1363.1,1368.6 L1363.8,1369.7 L1364.4,1370.9 L1365.1,1372.0 L1365.7,1373.1 L1366.3,1374.2 L1367.0,1375.3 L1367.6,1376.4 L1368.3,1377.5 L1368.9,1378.6 L1369.6,1379.8 L1370.2,1380.9 L1370.8,1382.0 L1371.5,1383.1 L1372.1,1384.1 L1372.8,1385.2 L1373.4,1386.3 L1374.1,1387.4 L1374.7,1388.5 L1375.3,1389.6 L1376.0,1390.7 L1376.6,1391.7 L1377.3,1392.8 L1377.9,1393.9 L1378.6,1395.0 L1379.2,1396.0 L1379.8,1397.1 L1380.5,1398.2 L1381.1,1399.2 L1381.8,1400.3 L1382.4,1401.3 L1383.1,1402.4 L1383.7,1403.4 L1384.3,1404.5 L1385.0,1405.5 L1385.6,1406.6 L1386.3,1407.6 L1386.9,1408.7 L1387.6,1409.7 L1388.2,1410.7 L1388.8,1411.8 L1389.5,1412.8 L1390.1,1413.8 L1390.8,1414.9 L1391.4,1415.9 L1392.1,1416.9 L1392.7,1417.9 L1393.3,1418.9 L1394.0,1419.9 L1394.6,1420.9 L1395.3,1422.0 L1395.9,1423.0 L1396.6,1424.0 L1397.2,1425.0 L1397.8,1426.0 L1398.5,1426.9 L1399.1,1427.9 L1399.8,1428.9 L1400.4,1429.9 L1401.1,1430.9 L1401.7,1431.9 L1402.4,1432.9 L1403.0,1433.8 L1403.6,1434.8 L1404.3,1435.8 L1404.9,1436.7 L1405.6,1437.7 L1406.2,1438.7 L1406.9,1439.6 L1407.5,1440.6 L1408.1,1441.5 L1408.8,1442.5 L1409.4,1443.4 L1410.1,1444.4 L1410.7,1445.3 L1411.4,1446.3 L1412.0,1447.2 L1412.6,1448.2 L1413.3,1449.1 L1413.9,1450.0 L1414.6,1450.9 L1415.2,1451.9 L1415.9,1452.8 L1416.5,1453.7 L1417.1,1454.6 L1417.8,1455.5 L1418.4,1456.5 L1419.1,1457.4 L1419.7,1458.3 L1420.4,1459.2 L1421.0,1460.1 L1421.6,1461.0 L1422.3,1461.9 L1422.9,1462.8 L1423.6,1463.7 L1424.2,1464.5 L1424.9,1465.4 L1425.5,1466.3 L1426.1,1467.2 L1426.8,1468.1 L1427.4,1468.9 L1428.1,1469.8 L1428.7,1470.7 L1429.4,1471.5 L1430.0,1472.4 L1430.6,1473.3 L1431.3,1474.1 L1431.9,1475.0 L1432.6,1475.8 L1433.2,1476.7 L1433.9,1477.5 L1434.5,1478.4 L1435.1,1479.2 L1435.8,1480.0 L1436.4,1480.9 L1437.1,1481.7 L1437.7,1482.5 L1438.4,1483.3 L1439.0,1484.2 L1439.6,1485.0 L1440.3,1485.8 L1440.9,1486.6 L1441.6,1487.4 L1442.2,1488.2 L1442.9,1489.0 L1443.5,1489.8 L1444.1,1490.6 L1444.8,1491.4 L1445.4,1492.2 L1446.1,1493.0 L1446.7,1493.8 L1447.4,1494.6 L1448.0,1495.4 L1448.6,1496.2 L1449.3,1496.9 L1449.9,1497.7 L1450.6,1498.5 L1451.2,1499.2 L1451.9,1500.0 L1452.5,1500.8 L1453.1,1501.5 L1453.8,1502.3 L1454.4,1503.0 L1455.1,1503.8 L1455.7,1504.5 L1456.4,1505.3 L1457.0,1506.0 L1457.6,1506.8 L1458.3,1507.5 L1458.9,1508.2 L1459.6,1509.0 L1460.2,1509.7 L1460.9,1510.4 L1461.5,1511.1 L1462.1,1511.8 L1462.8,1512.6 L1463.4,1513.3 L1464.1,1514.0 L1464.7,1514.7 L1465.4,1515.4 L1466.0,1516.1 L1466.6,1516.8 L1467.3,1517.5 L1467.9,1518.2 L1468.6,1518.8 L1469.2,1519.5 L1469.9,1520.2 L1470.5,1520.9 L1471.1,1521.6 L1471.8,1522.2 L1472.4,1522.9 L1473.1,1523.6 L1473.7,1524.2 L1474.4,1524.9 L1475.0,1525.5 L1475.6,1526.2 L1476.3,1526.8 L1476.9,1527.5 L1477.6,1528.1 L1478.2,1528.8 L1478.9,1529.4 L1479.5,1530.1 L1480.1,1530.7 L1480.8,1531.3 L1481.4,1531.9 L1482.1,1532.6 L1482.7,1533.2 L1483.4,1533.8 L1484.0,1534.4 L1484.6,1535.0 L1485.3,1535.6 L1485.9,1536.2 L1486.6,1536.8 L1487.2,1537.4 L1487.9,1538.0 L1488.5,1538.6 L1489.1,1539.2 L1489.8,1539.8 L1490.4,1540.4 L1491.1,1540.9 L1491.7,1541.5 L1492.4,1542.1 L1493.0,1542.7 L1493.6,1543.2 L1494.3,1543.8 L1494.9,1544.3 L1495.6,1544.9 L1496.2,1545.5 L1496.9,1546.0 L1497.5,1546.6 L1498.1,1547.1 L1498.8,1547.6 L1499.4,1548.2 L1500.1,1548.7 L1500.7,1549.2 L1501.4,1549.8 L1502.0,1550.3 L1502.7,1550.8 L1503.3,1551.3 L1503.9,1551.9 L1504.6,1552.4 L1505.2,1552.9 L1505.9,1553.4 L1506.5,1553.9 L1507.2,1554.4 L1507.8,1554.9 L1508.4,1555.4 L1509.1,1555.9 L1509.7,1556.3 L1510.4,1556.8 L1511.0,1557.3 L1511.7,1557.8 L1512.3,1558.3 L1512.9,1558.7 L1513.6,1559.2 L1514.2,1559.7 L1514.9,1560.1 L1515.5,1560.6 L1516.2,1561.0 L1516.8,1561.5 L1517.4,1561.9 L1518.1,1562.4 L1518.7,1562.8 L1519.4,1563.2 L1520.0,1563.7 L1520.7,1564.1 L1521.3,1564.5 L1521.9,1565.0 L1522.6,1565.4 L1523.2,1565.8 L1523.9,1566.2 L1524.5,1566.6 L1525.2,1567.0 L1525.8,1567.4 L1526.4,1567.8 L1527.1,1568.2 L1527.7,1568.6 L1528.4,1569.0 L1529.0,1569.4 L1529.7,1569.8 L1530.3,1570.2 L1530.9,1570.6 L1531.6,1570.9 L1532.2,1571.3 L1532.9,1571.7 L1533.5,1572.0 L1534.2,1572.4 L1534.8,1572.8 L1535.4,1573.1 L1536.1,1573.5 L1536.7,1573.8 L1537.4,1574.2 L1538.0,1574.5 L1538.7,1574.8 L1539.3,1575.2 L1539.9,1575.5 L1540.6,1575.8 L1541.2,1576.2 L1541.9,1576.5 L1542.5,1576.8 L1543.2,1577.1 L1543.8,1577.4 L1544.4,1577.8 L1545.1,1578.1 L1545.7,1578.4 L1546.4,1578.7 L1547.0,1579.0 L1547.7,1579.2 L1548.3,1579.5 L1548.9,1579.8 L1549.6,1580.1 L1550.2,1580.4 L1550.9,1580.7 L1551.5,1580.9 L1552.2,1581.2 L1552.8,1581.5 L1553.4,1581.7 L1554.1,1582.0 L1554.7,1582.2 L1555.4,1582.5 L1556.0,1582.7 L1556.7,1583.0 L1557.3,1583.2 L1557.9,1583.5 L1558.6,1583.7 L1559.2,1583.9 L1559.9,1584.2 L1560.5,1584.4 L1561.2,1584.6 L1561.8,1584.8 L1562.4,1585.0 L1563.1,1585.3 L1563.7,1585.5 L1564.4,1585.7 L1565.0,1585.9 L1565.7,1586.1 L1566.3,1586.3 L1566.9,1586.5 L1567.6,1586.6 L1568.2,1586.8 L1568.9,1587.0 L1569.5,1587.2 L1570.2,1587.4 L1570.8,1587.5 L1571.4,1587.7 L1572.1,1587.9 L1572.7,1588.0 L1573.4,1588.2 L1574.0,1588.3 L1574.7,1588.5 L1575.3,1588.6 L1575.9,1588.8 L1576.6,1588.9 L1577.2,1589.1 L1577.9,1589.2 L1578.5,1589.3 L1579.2,1589.5 L1579.8,1589.6 L1580.4,1589.7 L1581.1,1589.8 L1581.7,1589.9 L1582.4,1590.0 L1583.0,1590.2 L1583.7,1590.3 L1584.3,1590.4 L1584.9,1590.5 L1585.6,1590.5 L1586.2,1590.6 L1586.9,1590.7 L1587.5,1590.8 L1588.2,1590.9 L1588.8,1591.0 L1589.4,1591.0 L1590.1,1591.1 L1590.7,1591.2 L1591.4,1591.2 L1592.0,1591.3 L1592.7,1591.4 L1593.3,1591.4 L1593.9,1591.5 L1594.6,1591.5 L1595.2,1591.5 L1595.9,1591.6 L1596.5,1591.6 L1597.2,1591.7 L1597.8,1591.7 L1598.4,1591.7 L1599.1,1591.7 L1599.7,1591.7 L1600.4,1591.8 L1601.0,1591.8 L1601.7,1591.8 L1602.3,1591.8 L1602.9,1591.8 L1603.6,1591.8 L1604.2,1591.8 L1604.9,1591.8 L1605.5,1591.8 L1606.2,1591.7 L1606.8,1591.7 L1607.5,1591.7 L1608.1,1591.7 L1608.7,1591.7 L1609.4,1591.6 L1610.0,1591.6 L1610.7,1591.5 L1611.3,1591.5 L1612.0,1591.5 L1612.6,1591.4 L1613.2,1591.4 L1613.9,1591.3 L1614.5,1591.2 L1615.2,1591.2 L1615.8,1591.1 L1616.5,1591.0 L1617.1,1591.0 L1617.7,1590.9 L1618.4,1590.8 L1619.0,1590.7 L1619.7,1590.6 L1620.3,1590.6 L1621.0,1590.5 L1621.6,1590.4 L1622.2,1590.3 L1622.9,1590.2 L1623.5,1590.1 L1624.2,1589.9 L1624.8,1589.8 L1625.5,1589.7 L1626.1,1589.6 L1626.7,1589.5 L1627.4,1589.3 L1628.0,1589.2 L1628.7,1589.1 L1629.3,1588.9 L1630.0,1588.8 L1630.6,1588.7 L1631.2,1588.5 L1631.9,1588.4 L1632.5,1588.2 L1633.2,1588.0 L1633.8,1587.9 L1634.5,1587.7 L1635.1,1587.5 L1635.7,1587.4 L1636.4,1587.2 L1637.0,1587.0 L1637.7,1586.8 L1638.3,1586.7 L1639.0,1586.5 L1639.6,1586.3 L1640.2,1586.1 L1640.9,1585.9 L1641.5,1585.7 L1642.2,1585.5 L1642.8,1585.3 L1643.5,1585.1 L1644.1,1584.8 L1644.7,1584.6 L1645.4,1584.4 L1646.0,1584.2 L1646.7,1583.9 L1647.3,1583.7 L1648.0,1583.5 L1648.6,1583.2 L1649.2,1583.0 L1649.9,1582.8 L1650.5,1582.5 L1651.2,1582.3 L1651.8,1582.0 L1652.5,1581.7 L1653.1,1581.5 L1653.7,1581.2 L1654.4,1580.9 L1655.0,1580.7 L1655.7,1580.4 L1656.3,1580.1 L1657.0,1579.8 L1657.6,1579.5 L1658.2,1579.3 L1658.9,1579.0 L1659.5,1578.7 L1660.2,1578.4 L1660.8,1578.1 L1661.5,1577.8 L1662.1,1577.5 L1662.7,1577.1 L1663.4,1576.8 L1664.0,1576.5 L1664.7,1576.2 L1665.3,1575.9 L1666.0,1575.5 L1666.6,1575.2 L1667.2,1574.9 L1667.9,1574.5 L1668.5,1574.2 L1669.2,1573.8 L1669.8,1573.5 L1670.5,1573.1 L1671.1,1572.8 L1671.7,1572.4 L1672.4,1572.1 L1673.0,1571.7 L1673.7,1571.3 L1674.3,1571.0 L1675.0,1570.6 L1675.6,1570.2 L1676.2,1569.8 L1676.9,1569.4 L1677.5,1569.0 L1678.2,1568.7 L1678.8,1568.3 L1679.5,1567.9 L1680.1,1567.5 L1680.7,1567.1 L1681.4,1566.6 L1682.0,1566.2 L1682.7,1565.8 L1683.3,1565.4 L1684.0,1565.0 L1684.6,1564.6 L1685.2,1564.1 L1685.9,1563.7 L1686.5,1563.3 L1687.2,1562.8 L1687.8,1562.4 L1688.5,1561.9 L1689.1,1561.5 L1689.7,1561.0 L1690.4,1560.6 L1691.0,1560.1 L1691.7,1559.7 L1692.3,1559.2 L1693.0,1558.7 L1693.6,1558.3 L1694.2,1557.8 L1694.9,1557.3 L1695.5,1556.8 L1696.2,1556.4 L1696.8,1555.9 L1697.5,1555.4 L1698.1,1554.9 L1698.7,1554.4 L1699.4,1553.9 L1700.0,1553.4 L1700.7,1552.9 L1701.3,1552.4 L1702.0,1551.9 L1702.6,1551.4 L1703.2,1550.8 L1703.9,1550.3 L1704.5,1549.8 L1705.2,1549.3 L1705.8,1548.7 L1706.5,1548.2 L1707.1,1547.7 L1707.8,1547.1 L1708.4,1546.6 L1709.0,1546.0 L1709.7,1545.5 L1710.3,1544.9 L1711.0,1544.4 L1711.6,1543.8 L1712.3,1543.2 L1712.9,1542.7 L1713.5,1542.1 L1714.2,1541.5 L1714.8,1541.0 L1715.5,1540.4 L1716.1,1539.8 L1716.8,1539.2 L1717.4,1538.6 L1718.0,1538.0 L1718.7,1537.5 L1719.3,1536.9 L1720.0,1536.3 L1720.6,1535.6 L1721.3,1535.0 L1721.9,1534.4 L1722.5,1533.8 L1723.2,1533.2 L1723.8,1532.6 L1724.5,1532.0 L1725.1,1531.3 L1725.8,1530.7 L1726.4,1530.1 L1727.0,1529.4 L1727.7,1528.8 L1728.3,1528.2 L1729.0,1527.5 L1729.6,1526.9 L1730.3,1526.2 L1730.9,1525.6 L1731.5,1524.9 L1732.2,1524.3 L1732.8,1523.6 L1733.5,1522.9 L1734.1,1522.3 L1734.8,1521.6 L1735.4,1520.9 L1736.0,1520.2 L1736.7,1519.6 L1737.3,1518.9 L1738.0,1518.2 L1738.6,1517.5 L1739.3,1516.8 L1739.9,1516.1 L1740.5,1515.4 L1741.2,1514.7 L1741.8,1514.0 L1742.5,1513.3 L1743.1,1512.6 L1743.8,1511.9 L1744.4,1511.2 L1745.0,1510.4 L1745.7,1509.7 L1746.3,1509.0 L1747.0,1508.3 L1747.6,1507.5 L1748.3,1506.8 L1748.9,1506.1 L1749.5,1505.3 L1750.2,1504.6 L1750.8,1503.8 L1751.5,1503.1 L1752.1,1502.3 L1752.8,1501.6 L1753.4,1500.8 L1754.0,1500.0 L1754.7,1499.3 L1755.3,1498.5 L1756.0,1497.7 L1756.6,1497.0 L1757.3,1496.2 L1757.9,1495.4 L1758.5,1494.6 L1759.2,1493.8 L1759.8,1493.1 L1760.5,1492.3 L1761.1,1491.5 L1761.8,1490.7 L1762.4,1489.9 L1763.0,1489.1 L1763.7,1488.3 L1764.3,1487.5 L1765.0,1486.7 L1765.6,1485.8 L1766.3,1485.0 L1766.9,1484.2 L1767.5,1483.4 L1768.2,1482.6 L1768.8,1481.7 L1769.5,1480.9 L1770.1,1480.1 L1770.8,1479.2 L1771.4,1478.4 L1772.0,1477.5 L1772.7,1476.7 L1773.3,1475.9 L1774.0,1475.0 L1774.6,1474.1 L1775.3,1473.3 L1775.9,1472.4 L1776.5,1471.6 L1777.2,1470.7 L1777.8,1469.8 L1778.5,1469.0 L1779.1,1468.1 L1779.8,1467.2 L1780.4,1466.3 L1781.0,1465.5 L1781.7,1464.6 L1782.3,1463.7 L1783.0,1462.8 L1783.6,1461.9 L1784.3,1461.0 L1784.9,1460.1 L1785.5,1459.2 L1786.2,1458.3 L1786.8,1457.4 L1787.5,1456.5 L1788.1,1455.6 L1788.8,1454.7 L1789.4,1453.8 L1790.0,1452.8 L1790.7,1451.9 L1791.3,1451.0 L1792.0,1450.1 L1792.6,1449.1 L1793.3,1448.2 L1793.9,1447.3 L1794.5,1446.3 L1795.2,1445.4 L1795.8,1444.4 L1796.5,1443.5 L1797.1,1442.5 L1797.8,1441.6 L1798.4,1440.6 L1799.0,1439.7 L1799.7,1438.7 L1800.3,1437.8 L1801.0,1436.8 L1801.6,1435.8 L1802.3,1434.8 L1802.9,1433.9 L1803.5,1432.9 L1804.2,1431.9 L1804.8,1430.9 L1805.5,1430.0 L1806.1,1429.0 L1806.8,1428.0 L1807.4,1427.0 L1808.0,1426.0 L1808.7,1425.0 L1809.3,1424.0 L1810.0,1423.0 L1810.6,1422.0 L1811.3,1421.0 L1811.9,1420.0 L1812.6,1419.0 L1813.2,1418.0 L1813.8,1416.9 L1814.5,1415.9 L1815.1,1414.9 L1815.8,1413.9 L1816.4,1412.8 L1817.1,1411.8 L1817.7,1410.8 L1818.3,1409.8 L1819.0,1408.7 L1819.6,1407.7 L1820.3,1406.6 L1820.9,1405.6 L1821.6,1404.5 L1822.2,1403.5 L1822.8,1402.4 L1823.5,1401.4 L1824.1,1400.3 L1824.8,1399.3 L1825.4,1398.2 L1826.1,1397.1 L1826.7,1396.1 L1827.3,1395.0 L1828.0,1393.9 L1828.6,1392.9 L1829.3,1391.8 L1829.9,1390.7 L1830.6,1389.6 L1831.2,1388.5 L1831.8,1387.5 L1832.5,1386.4 L1833.1,1385.3 L1833.8,1384.2 L1834.4,1383.1 L1835.1,1382.0 L1835.7,1380.9 L1836.3,1379.8 L1837.0,1378.7 L1837.6,1377.6 L1838.3,1376.5 L1838.9,1375.4 L1839.6,1374.3 L1840.2,1373.1 L1840.8,1372.0 L1841.5,1370.9 L1842.1,1369.8 L1842.8,1368.7 L1843.4,1367.5 L1844.1,1366.4 L1844.7,1365.3 L1845.3,1364.1 L1846.0,1363.0 L1846.6,1361.9 L1847.3,1360.7 L1847.9,1359.6 L1848.6,1358.4 L1849.2,1357.3 L1849.8,1356.1 L1850.5,1355.0 L1851.1,1353.8 L1851.8,1352.7 L1852.4,1351.5 L1853.1,1350.3 L1853.7,1349.2 L1854.3,1348.0 L1855.0,1346.8 L1855.6,1345.7 L1856.3,1344.5 L1856.9,1343.3 L1857.6,1342.2 L1858.2,1341.0 L1858.8,1339.8 L1859.5,1338.6 L1860.1,1337.4 L1860.8,1336.2 L1861.4,1335.1 L1862.1,1333.9 L1862.7,1332.7 L1863.3,1331.5 L1864.0,1330.3 L1864.6,1329.1 L1865.3,1327.9 L1865.9,1326.7 L1866.6,1325.5 L1867.2,1324.3 L1867.8,1323.0 L1868.5,1321.8 L1869.1,1320.6 L1869.8,1319.4 L1870.4,1318.2 L1871.1,1317.0 L1871.7,1315.7 L1872.3,1314.5 L1873.0,1313.3 L1873.6,1312.1 L1874.3,1310.8 L1874.9,1309.6 L1875.6,1308.4 L1876.2,1307.1 L1876.8,1305.9 L1877.5,1304.7 L1878.1,1303.4 L1878.8,1302.2 L1879.4,1300.9 L1880.1,1299.7 L1880.7,1298.4 L1881.3,1297.2 L1882.0,1295.9 L1882.6,1294.7 L1883.3,1293.4 L1883.9,1292.1 L1884.6,1290.9 L1885.2,1289.6 L1885.8,1288.4 L1886.5,1287.1 L1887.1,1285.8 L1887.8,1284.5 L1888.4,1283.3 L1889.1,1282.0 L1889.7,1280.7 L1890.3,1279.4 L1891.0,1278.2 L1891.6,1276.9 L1892.3,1275.6 L1892.9,1274.3 L1893.6,1273.0 L1894.2,1271.7 L1894.8,1270.4 L1895.5,1269.2 L1896.1,1267.9 L1896.8,1266.6 L1897.4,1265.3 L1898.1,1264.0 L1898.7,1262.7 L1899.3,1261.4 L1900.0,1260.1 L1900.6,1258.7 L1901.3,1257.4 L1901.9,1256.1 L1902.6,1254.8 L1903.2,1253.5 L1903.8,1252.2 L1904.5,1250.9 L1905.1,1249.6 L1905.8,1248.2 L1906.4,1246.9 L1907.1,1245.6 L1907.7,1244.3 L1908.3,1242.9 L1909.0,1241.6 L1909.6,1240.3 L1910.3,1238.9 L1910.9,1237.6 L1911.6,1236.3 L1912.2,1234.9 L1912.9,1233.6 L1913.5,1232.3 L1914.1,1230.9 L1914.8,1229.6 L1915.4,1228.2 L1916.1,1226.9 L1916.7,1225.5 L1917.4,1224.2 L1918.0,1222.8 L1918.6,1221.5 L1919.3,1220.1 L1919.9,1218.8 L1920.6,1217.4 L1921.2,1216.0 L1921.9,1214.7 L1922.5,1213.3 L1923.1,1212.0 L1923.8,1210.6 L1924.4,1209.2 L1925.1,1207.9 L1925.7,1206.5 L1926.4,1205.1 L1927.0,1203.7 L1927.6,1202.4 L1928.3,1201.0 L1928.9,1199.6 L1929.6,1198.2 L1930.2,1196.9 L1930.9,1195.5 L1931.5,1194.1 L1932.1,1192.7 L1932.8,1191.3 L1933.4,1189.9 L1934.1,1188.6 L1934.7,1187.2 L1935.4,1185.8 L1936.0,1184.4 L1936.6,1183.0 L1937.3,1181.6 L1937.9,1180.2 L1938.6,1178.8 L1939.2,1177.4 L1939.9,1176.0 L1940.5,1174.6 L1941.1,1173.2 L1941.8,1171.8 L1942.4,1170.4 L1943.1,1169.0 L1943.7,1167.6 L1944.4,1166.2 L1945.0,1164.8 L1945.6,1163.3 L1946.3,1161.9 L1946.9,1160.5 L1947.6,1159.1 L1948.2,1157.7 L1948.9,1156.3 L1949.5,1154.8 L1950.1,1153.4 L1950.8,1152.0 L1951.4,1150.6 L1952.1,1149.2 L1952.7,1147.7 L1953.4,1146.3 L1954.0,1144.9 L1954.6,1143.4 L1955.3,1142.0 L1955.9,1140.6 L1956.6,1139.1 L1957.2,1137.7 L1957.9,1136.3 L1958.5,1134.8 L1959.1,1133.4 L1959.8,1132.0 L1960.4,1130.5 L1961.1,1129.1 L1961.7,1127.6 L1962.4,1126.2 L1963.0,1124.8 L1963.6,1123.3 L1964.3,1121.9 L1964.9,1120.4 L1965.6,1119.0 L1966.2,1117.5 L1966.9,1116.1 L1967.5,1114.6 L1968.1,1113.2 L1968.8,1111.7 L1969.4,1110.3 L1970.1,1108.8 L1970.7,1107.4 L1971.4,1105.9 L1972.0,1104.4 L1972.6,1103.0 L1973.3,1101.5 L1973.9,1100.1 L1974.6,1098.6 L1975.2,1097.1 L1975.9,1095.7 L1976.5,1094.2 L1977.1,1092.7 L1977.8,1091.3 L1978.4,1089.8 L1979.1,1088.3 L1979.7,1086.9 L1980.4,1085.4 L1981.0,1083.9 L1981.6,1082.5 L1982.3,1081.0 L1982.9,1079.5 L1983.6,1078.0 L1984.2,1076.6 L1984.9,1075.1 L1985.5,1073.6 L1986.1,1072.1 L1986.8,1070.7 L1987.4,1069.2 L1988.1,1067.7 L1988.7,1066.2 L1989.4,1064.7 L1990.0,1063.3 L1990.6,1061.8 L1991.3,1060.3 L1991.9,1058.8 L1992.6,1057.3 L1993.2,1055.8 L1993.9,1054.4 L1994.5,1052.9 L1995.1,1051.4 L1995.8,1049.9 L1996.4,1048.4 L1997.1,1046.9 L1997.7,1045.4 L1998.4,1043.9 L1999.0,1042.4 L1999.6,1041.0 L2000.3,1039.5 L2000.9,1038.0 L2001.6,1036.5 L2002.2,1035.0 L2002.9,1033.5 L2003.5,1032.0 L2004.1,1030.5 L2004.8,1029.0 L2005.4,1027.5 L2006.1,1026.0 L2006.7,1024.5 L2007.4,1023.0 L2008.0,1021.5 L2008.6,1020.0 L2009.3,1018.5 L2009.9,1017.0 L2010.6,1015.5 L2011.2,1014.0 L2011.9,1012.5 L2012.5,1011.0 L2013.1,1009.5 L2013.8,1008.0 L2014.4,1006.5 L2015.1,1005.0 L2015.7,1003.5 L2016.4,1001.9 L2017.0,1000.4 L2017.7,998.9 L2018.3,997.4 L2018.9,995.9 L2019.6,994.4 L2020.2,992.9 L2020.9,991.4 L2021.5,989.9 L2022.2,988.4 L2022.8,986.9 L2023.4,985.3 L2024.1,983.8 L2024.7,982.3 L2025.4,980.8 L2026.0,979.3 L2026.7,977.8 L2027.3,976.3 L2027.9,974.8 L2028.6,973.2 L2029.2,971.7 L2029.9,970.2 L2030.5,968.7 L2031.2,967.2 L2031.8,965.7 L2032.4,964.1 L2033.1,962.6 L2033.7,961.1 L2034.4,959.6 L2035.0,958.1 L2035.7,956.6 L2036.3,955.0 L2036.9,953.5 L2037.6,952.0 L2038.2,950.5 L2038.9,949.0 L2039.5,947.5 L2040.2,945.9 L2040.8,944.4 L2041.4,942.9 L2042.1,941.4 L2042.7,939.9 L2043.4,938.3 L2044.0,936.8 L2044.7,935.3 L2045.3,933.8 L2045.9,932.3 L2046.6,930.8 L2047.2,929.2 L2047.9,927.7 L2048.5,926.2 L2049.2,924.7 L2049.8,923.2 L2050.4,921.6 L2051.1,920.1 L2051.7,918.6 L2052.4,917.1 L2053.0,915.6 L2053.7,914.0 L2054.3,912.5 L2054.9,911.0 L2055.6,909.5 L2056.2,907.9 L2056.9,906.4 L2057.5,904.9 L2058.2,903.4 L2058.8,901.9 L2059.4,900.3 L2060.1,898.8 L2060.7,897.3 L2061.4,895.8 L2062.0,894.3 L2062.7,892.7 L2063.3,891.2 L2063.9,889.7 L2064.6,888.2 L2065.2,886.7 L2065.9,885.2 L2066.5,883.6 L2067.2,882.1 L2067.8,880.6 L2068.4,879.1 L2069.1,877.6 L2069.7,876.0 L2070.4,874.5 L2071.0,873.0 L2071.7,871.5 L2072.3,870.0 L2072.9,868.5 L2073.6,866.9 L2074.2,865.4 L2074.9,863.9 L2075.5,862.4 L2076.2,860.9 L2076.8,859.4 L2077.4,857.8 L2078.1,856.3 L2078.7,854.8 L2079.4,853.3 L2080.0,851.8 L2080.7,850.3 L2081.3,848.8 L2081.9,847.2 L2082.6,845.7 L2083.2,844.2 L2083.9,842.7 L2084.5,841.2 L2085.2,839.7 L2085.8,838.2 L2086.4,836.7 L2087.1,835.1 L2087.7,833.6 L2088.4,832.1 L2089.0,830.6 L2089.7,829.1 L2090.3,827.6 L2090.9,826.1 L2091.6,824.6 L2092.2,823.1 L2092.9,821.6 L2093.5,820.1 L2094.2,818.6 L2094.8,817.0 L2095.4,815.5 L2096.1,814.0 L2096.7,812.5 L2097.4,811.0 L2098.0,809.5 L2098.7,808.0 L2099.3,806.5 L2099.9,805.0 L2100.6,803.5 L2101.2,802.0 L2101.9,800.5 L2102.5,799.0 L2103.2,797.5 L2103.8,796.0 L2104.4,794.5 L2105.1,793.0 L2105.7,791.5 L2106.4,790.0 L2107.0,788.5 L2107.7,787.0 L2108.3,785.5 L2108.9,784.1 L2109.6,782.6 L2110.2,781.1 L2110.9,779.6 L2111.5,778.1 L2112.2,776.6 L2112.8,775.1 L2113.4,773.6 L2114.1,772.1 L2114.7,770.6 L2115.4,769.2 L2116.0,767.7 L2116.7,766.2 L2117.3,764.7 L2118.0,763.2 L2118.6,761.7 L2119.2,760.3 L2119.9,758.8 L2120.5,757.3 L2121.2,755.8 L2121.8,754.3 L2122.5,752.9 L2123.1,751.4 L2123.7,749.9 L2124.4,748.4 L2125.0,746.9 L2125.7,745.5 L2126.3,744.0 L2127.0,742.5 L2127.6,741.1 L2128.2,739.6 L2128.9,738.1 L2129.5,736.6 L2130.2,735.2 L2130.8,733.7 L2131.5,732.2 L2132.1,730.8 L2132.7,729.3 L2133.4,727.9 L2134.0,726.4 L2134.7,724.9 L2135.3,723.5 L2136.0,722.0 L2136.6,720.5 L2137.2,719.1 L2137.9,717.6 L2138.5,716.2 L2139.2,714.7 L2139.8,713.3 L2140.5,711.8 L2141.1,710.4 L2141.7,708.9 L2142.4,707.5 L2143.0,706.0 L2143.7,704.6 L2144.3,703.1 L2145.0,701.7 L2145.6,700.2 L2146.2,698.8 L2146.9,697.3 L2147.5,695.9 L2148.2,694.5 L2148.8,693.0 L2149.5,691.6 L2150.1,690.1 L2150.7,688.7 L2151.4,687.3 L2152.0,685.8 L2152.7,684.4 L2153.3,683.0 L2154.0,681.5 L2154.6,680.1 L2155.2,678.7 L2155.9,677.3 L2156.5,675.8 L2157.2,674.4 L2157.8,673.0 L2158.5,671.6 L2159.1,670.1 L2159.7,668.7 L2160.4,667.3 L2161.0,665.9 L2161.7,664.5 L2162.3,663.0 L2163.0,661.6 L2163.6,660.2 L2164.2,658.8 L2164.9,657.4 L2165.5,656.0 L2166.2,654.6 L2166.8,653.2 L2167.5,651.8 L2168.1,650.4 L2168.7,649.0 L2169.4,647.6 L2170.0,646.2 L2170.7,644.8 L2171.3,643.4 L2172.0,642.0 L2172.6,640.6 L2173.2,639.2 L2173.9,637.8 L2174.5,636.4 L2175.2,635.0 L2175.8,633.6 L2176.5,632.2 L2177.1,630.9 L2177.7,629.5 L2178.4,628.1 L2179.0,626.7 L2179.7,625.3 L2180.3,624.0 L2181.0,622.6 L2181.6,621.2 L2182.2,619.8 L2182.9,618.5 L2183.5,617.1 L2184.2,615.7 L2184.8,614.4 L2185.5,613.0 L2186.1,611.6 L2186.7,610.3 L2187.4,608.9 L2188.0,607.5 L2188.7,606.2 L2189.3,604.8 L2190.0,603.5 L2190.6,602.1 L2191.2,600.8 L2191.9,599.4 L2192.5,598.1 L2193.2,596.7 L2193.8,595.4 L2194.5,594.0 L2195.1,592.7 L2195.7,591.3 L2196.4,590.0 L2197.0,588.7 L2197.7,587.3 L2198.3,586.0 L2199.0,584.7 L2199.6,583.3 L2200.2,582.0 L2200.9,580.7 L2201.5,579.3 L2202.2,578.0 L2202.8,576.7 L2203.5,575.4 L2204.1,574.1 L2204.7,572.7 L2205.4,571.4 L2206.0,570.1 L2206.7,568.8 L2207.3,567.5 L2208.0,566.2 L2208.6,564.9 L2209.2,563.6 L2209.9,562.3 L2210.5,561.0 L2211.2,559.7 L2211.8,558.4 L2212.5,557.1 L2213.1,555.8 L2213.7,554.5 L2214.4,553.2 L2215.0,551.9 L2215.7,550.6 L2216.3,549.3 L2217.0,548.0 L2217.6,546.7 L2218.2,545.5 L2218.9,544.2 L2219.5,542.9 L2220.2,541.6 L2220.8,540.4 L2221.5,539.1 L2222.1,537.8 L2222.8,536.5 L2223.4,535.3 L2224.0,534.0 L2224.7,532.8 L2225.3,531.5 L2226.0,530.2 L2226.6,529.0 L2227.3,527.7 L2227.9,526.5 L2228.5,525.2 L2229.2,524.0 L2229.8,522.7 L2230.5,521.5 L2231.1,520.2 L2231.8,519.0 L2232.4,517.8 L2233.0,516.5 L2233.7,515.3 L2234.3,514.1 L2235.0,512.8 L2235.6,511.6 L2236.3,510.4 L2236.9,509.1 L2237.5,507.9 L2238.2,506.7 L2238.8,505.5 L2239.5,504.3 L2240.1,503.0 L2240.8,501.8 L2241.4,500.6 L2242.0,499.4 L2242.7,498.2 L2243.3,497.0 L2244.0,495.8 L2244.6,494.6 L2245.3,493.4 L2245.9,492.2 L2246.5,491.0 L2247.2,489.8 L2247.8,488.6 L2248.5,487.4 L2249.1,486.2 L2249.8,485.1 L2250.4,483.9 L2251.0,482.7 L2251.7,481.5 L2252.3,480.4 L2253.0,479.2 L2253.6,478.0 L2254.3,476.8 L2254.9,475.7 L2255.5,474.5 L2256.2,473.3 L2256.8,472.2 L2257.5,471.0 L2258.1,469.9 L2258.8,468.7 L2259.4,467.6 L2260.0,466.4 L2260.7,465.3 L2261.3,464.1 L2262.0,463.0 L2262.6,461.8 L2263.3,460.7 L2263.9,459.6 L2264.5,458.4 L2265.2,457.3 L2265.8,456.2 L2266.5,455.1 L2267.1,453.9 L2267.8,452.8 L2268.4,451.7 L2269.0,450.6 L2269.7,449.5 L2270.3,448.3 L2271.0,447.2 L2271.6,446.1 L2272.3,445.0 L2272.9,443.9 L2273.5,442.8 L2274.2,441.7 L2274.8,440.6 L2275.5,439.5 L2276.1,438.4 L2276.8,437.4 L2277.4,436.3 L2278.0,435.2 L2278.7,434.1 L2279.3,433.0 L2280.0,431.9 L2280.6,430.9 L2281.3,429.8 L2281.9,428.7 L2282.5,427.7 L2283.2,426.6 L2283.8,425.5 L2284.5,424.5 L2285.1,423.4 L2285.8,422.4 L2286.4,421.3 L2287.0,420.3 L2287.7,419.2 L2288.3,418.2 L2289.0,417.1 L2289.6,416.1 L2290.3,415.0 L2290.9,414.0 L2291.5,413.0 L2292.2,411.9 L2292.8,410.9 L2293.5,409.9 L2294.1,408.9 L2294.8,407.8 L2295.4,406.8 L2296.0,405.8 L2296.7,404.8 L2297.3,403.8 L2298.0,402.8 L2298.6,401.8 L2299.3,400.8 L2299.9,399.8 L2300.5,398.8 L2301.2,397.8 L2301.8,396.8 L2302.5,395.8 L2303.1,394.8 L2303.8,393.8 L2304.4,392.8 L2305.0,391.9 L2305.7,390.9 L2306.3,389.9 L2307.0,388.9 L2307.6,388.0 L2308.3,387.0 L2308.9,386.0 L2309.5,385.1 L2310.2,384.1 L2310.8,383.2 L2311.5,382.2 L2312.1,381.3 L2312.8,380.3 L2313.4,379.4 L2314.0,378.4 L2314.7,377.5 L2315.3,376.6 L2316.0,375.6 L2316.6,374.7 L2317.3,373.8 L2317.9,372.8 L2318.5,371.9 L2319.2,371.0 L2319.8,370.1" stroke="#7e2f8e" stroke-width="5.0" stroke-dasharray="16.4 15.2"/>
</g>
<g font-family="'Liberation Sans', Arial, Helvetica, sans-serif" font-size="67.4" fill="#262626">
<text x="247.5" y="1852.0" text-anchor="middle">0</text>
<text x="966.0" y="1852.0" text-anchor="middle">50</text>
<text x="1684.7" y="1852.0" text-anchor="middle">100</text>
<text x="2403.2" y="1852.0" text-anchor="middle">150</text>
<text x="218.2" y="935.4" text-anchor="end">0</text>
<text x="218.2" y="765.5" text-anchor="end">5</text>
<text x="218.2" y="595.6" text-anchor="end">10</text>
<text x="218.2" y="425.7" text-anchor="end">15</text>
<text x="218.2" y="255.8" text-anchor="end">20</text>
<text x="218.2" y="85.9" text-anchor="end">25</text>
<text x="220.5" y="1785.2" text-anchor="end">25</text>
<text transform="translate(105.6,1782.0) scale(1,0.74)" font-family="'Liberation Serif', 'Times New Roman', Times, serif" font-size="63.9" fill="#111">−</text>
<text x="220.5" y="1615.3" text-anchor="end">20</text>
<text transform="translate(107.7,1607.0) scale(1,0.74)" font-family="'Liberation Serif', 'Times New Roman', Times, serif" font-size="63.9" fill="#111">−</text>
<text x="220.5" y="1445.4" text-anchor="end">15</text>
<text transform="translate(105.6,1440.0) scale(1,0.74)" font-family="'Liberation Serif', 'Times New Roman', Times, serif" font-size="63.9" fill="#111">−</text>
<text x="220.5" y="1275.5" text-anchor="end">10</text>
<text transform="translate(107.7,1265.5) scale(1,0.74)" font-family="'Liberation Serif', 'Times New Roman', Times, serif" font-size="63.9" fill="#111">−</text>
<text x="220.5" y="1105.6" text-anchor="end">5</text>
<text transform="translate(143.4,1101.8) scale(1,0.74)" font-family="'Liberation Serif', 'Times New Roman', Times, serif" font-size="63.9" fill="#111">−</text>
</g>
<g font-family="'Liberation Serif', 'Times New Roman', Times, serif" fill="#000">
<text y="1930.6" font-size="77"><tspan x="1220.1" font-style="italic">x</tspan><tspan x="1258" font-size="80"> </tspan><tspan x="1276.4" dy="4" font-size="80">[</tspan><tspan x="1303.7" dy="-4" font-style="italic">m</tspan><tspan x="1360.6" dy="4" font-size="80">]</tspan></text>
<text transform="translate(83.0,0) rotate(-90)" y="0" font-size="77"><tspan x="-1014.8" font-style="italic">y</tspan><tspan x="-975" font-size="80"> </tspan><tspan x="-956.3" dy="4" font-size="80">[</tspan><tspan x="-929.0" dy="-4" font-style="italic">m</tspan><tspan x="-874.5" dy="4" font-size="80">]</tspan></text>
</g>
<g filter="url(#soft)">
<rect x="1199" y="142.9" width="736.3" height="580.0" fill="#fff"/>
<g clip-path="url(#c1)" fill="none" stroke-linejoin="round">
<path d="M1158.6,778.7 L1167.4,763.5 L1176.2,748.5 L1185.0,733.7 L1193.8,719.2 L1202.5,704.8 L1211.3,690.7 L1220.1,676.8 L1228.9,663.1 L1237.7,649.6 L1246.4,636.4 L1255.2,623.4 L1264.0,610.5 L1272.8,597.9 L1281.6,585.6 L1290.4,573.4 L1299.1,561.5 L1307.9,549.7 L1316.7,538.2 L1325.5,527.0 L1334.3,515.9 L1343.0,505.1 L1351.8,494.4 L1360.6,484.0 L1369.4,473.9 L1378.2,463.9 L1387.0,454.2 L1395.7,444.7 L1404.5,435.4 L1413.3,426.3 L1422.1,417.4 L1430.9,408.8 L1439.6,400.4 L1448.4,392.3 L1457.2,384.3 L1466.0,376.6 L1474.8,369.1 L1483.5,361.8 L1492.3,354.7 L1501.1,347.9 L1509.9,341.3 L1518.7,334.9 L1527.5,328.7 L1536.2,322.8 L1545.0,317.1 L1553.8,311.6 L1562.6,306.4 L1571.4,301.3 L1580.1,296.5 L1588.9,291.9 L1597.7,287.6 L1606.5,283.4 L1615.3,279.5 L1624.1,275.9 L1632.8,272.4 L1641.6,269.2 L1650.4,266.2 L1659.2,263.4 L1668.0,260.9 L1676.7,258.5 L1685.5,256.5 L1694.3,254.6 L1703.1,252.9 L1711.9,251.5 L1720.6,250.3 L1729.4,249.4 L1738.2,248.6 L1747.0,248.1 L1755.8,247.9 L1764.6,247.8 L1773.3,248.0 L1782.1,248.4 L1790.9,249.0 L1799.7,249.9 L1808.5,250.9 L1817.2,252.2 L1826.0,253.8 L1834.8,255.5 L1843.6,257.5 L1852.4,259.7 L1861.1,262.2 L1869.9,264.8 L1878.7,267.7 L1887.5,270.9 L1896.3,274.2 L1905.1,277.8 L1913.8,281.6 L1922.6,285.6 L1931.4,289.8 L1940.2,294.3 L1949.0,299.0 L1957.7,304.0 L1966.5,309.1 L1975.3,314.5 L1984.1,320.1 L1992.9,325.9" stroke="#0b7fab" stroke-width="3.3"/>
</g><g fill="none">
<circle cx="1632.9" cy="272.4" r="5.3" stroke="#0b7fab" stroke-width="2.7" fill="none"/>
</g><g clip-path="url(#c1)" fill="none" stroke-linejoin="round">
<path d="M1149.6,782.3 L1158.0,767.7 L1166.4,753.2 L1174.7,739.0 L1183.1,725.0 L1191.5,711.1 L1199.8,697.5 L1208.2,684.0 L1216.5,670.8 L1224.9,657.7 L1233.3,644.9 L1241.6,632.2 L1250.0,619.8 L1258.4,607.5 L1266.7,595.4 L1275.1,583.6 L1283.5,571.9 L1291.8,560.4 L1300.2,549.1 L1308.5,538.1 L1316.9,527.2 L1325.3,516.5 L1333.6,506.1 L1342.0,495.8 L1350.4,485.7 L1358.7,475.8 L1367.1,466.2 L1375.5,456.7 L1383.8,447.4 L1392.2,438.4 L1400.6,429.5 L1408.9,420.8 L1417.3,412.4 L1425.6,404.1 L1434.0,396.0 L1442.4,388.2 L1450.7,380.5 L1459.1,373.1 L1467.5,365.8 L1475.8,358.8 L1484.2,351.9 L1492.6,345.3 L1500.9,338.9 L1509.3,332.6 L1517.6,326.6 L1526.0,320.8 L1534.4,315.2 L1542.7,309.8 L1551.1,304.6 L1559.5,299.5 L1567.8,294.7 L1576.2,290.1 L1584.6,285.8 L1592.9,281.6 L1601.3,277.6 L1609.7,273.8 L1618.0,270.2 L1626.4,266.9 L1634.7,263.7 L1643.1,260.7 L1651.5,258.0 L1659.8,255.5 L1668.2,253.1 L1676.6,251.0 L1684.9,249.0 L1693.3,247.3 L1701.7,245.8 L1710.0,244.5 L1718.4,243.4 L1726.8,242.5 L1735.1,241.8 L1743.5,241.3 L1751.8,241.0 L1760.2,240.9 L1768.6,241.1 L1776.9,241.4 L1785.3,241.9 L1793.7,242.7 L1802.0,243.6 L1810.4,244.8 L1818.8,246.1 L1827.1,247.7 L1835.5,249.5 L1843.8,251.5 L1852.2,253.6 L1860.6,256.0 L1868.9,258.6 L1877.3,261.4 L1885.7,264.4 L1894.0,267.6 L1902.4,271.1 L1910.8,274.7 L1919.1,278.5 L1927.5,282.5 L1935.9,286.8 L1944.2,291.2 L1952.6,295.9 L1960.9,300.7 L1969.3,305.8 L1977.7,311.0 L1986.0,316.5 L1994.4,322.1" stroke="#d95319" stroke-width="3.3"/>
</g><g fill="none">
<path d="M1628.1,263.7L1641.3,263.7M1630.1,259.0L1639.4,268.4M1634.7,257.1L1634.7,270.3M1639.4,259.0L1630.1,268.4" stroke="#d95319" stroke-width="3.1" fill="none"/>
</g><g clip-path="url(#c1)" fill="none" stroke-linejoin="round">
<path d="M1145.7,778.5 L1153.8,764.2 L1162.0,750.1 L1170.1,736.2 L1178.3,722.5 L1186.5,709.0 L1194.6,695.6 L1202.8,682.5 L1210.9,669.7 L1219.1,657.4 L1227.2,645.4 L1235.4,633.7 L1243.5,622.3 L1251.7,611.0 L1259.8,600.0 L1268.0,589.1 L1276.2,578.4 L1284.3,568.0 L1292.5,557.7 L1300.6,547.8 L1308.8,538.1 L1316.9,528.8 L1325.1,519.9 L1333.2,511.5 L1341.4,503.3 L1349.5,495.3 L1357.7,487.2 L1365.9,479.1 L1374.0,471.1 L1382.2,463.2 L1390.3,455.4 L1398.5,447.8 L1406.6,440.3 L1414.8,433.0 L1422.9,425.9 L1431.1,418.9 L1439.2,412.0 L1447.4,405.2 L1455.6,398.5 L1463.7,391.9 L1471.9,385.4 L1480.0,379.1 L1488.2,372.9 L1496.3,366.8 L1504.5,360.9 L1512.6,355.1 L1520.8,349.6 L1528.9,344.2 L1537.1,339.0 L1545.3,334.0 L1553.4,329.1 L1561.6,324.5 L1569.7,320.0 L1577.9,315.7 L1586.0,311.5 L1594.2,307.6 L1602.3,303.8 L1610.5,300.2 L1618.6,296.7 L1626.8,293.4 L1635.0,290.3 L1643.1,287.3 L1651.3,284.4 L1659.4,281.7 L1667.6,279.2 L1675.7,276.8 L1683.9,274.6 L1692.0,272.5 L1700.2,270.6 L1708.3,268.9 L1716.5,267.4 L1724.7,266.0 L1732.8,264.9 L1741.0,263.9 L1749.1,263.2 L1757.3,262.6 L1765.4,262.2 L1773.6,262.1 L1781.7,262.1 L1789.9,262.2 L1798.0,262.6 L1806.2,263.1 L1814.4,263.8 L1822.5,264.6 L1830.7,265.7 L1838.8,266.9 L1847.0,268.3 L1855.1,269.9 L1863.3,271.8 L1871.4,273.8 L1879.6,276.0 L1887.7,278.5 L1895.9,281.1 L1904.1,284.0 L1912.2,287.1 L1920.4,290.4 L1928.5,294.0 L1936.7,297.8 L1944.8,301.8 L1953.0,306.0 L1961.1,310.4 L1969.3,315.0 L1977.4,319.8 L1985.6,324.8 L1993.8,330.0" stroke="#edb120" stroke-width="3.3" stroke-dasharray="13.9 3.1 7 3.1" stroke-dashoffset="5.0"/>
<path d="M1142.9,757.8 L1146.9,750.2 L1151.0,742.7 L1155.1,735.2 L1159.2,727.7 L1163.3,720.3 L1167.4,713.0 L1171.5,705.6 L1175.5,698.3 L1179.6,691.1 L1183.7,683.8 L1187.8,676.6 L1191.9,669.5 L1196.0,662.4 L1200.1,655.3 L1204.1,648.3 L1208.2,641.3 L1212.3,634.3 L1216.4,627.5 L1220.5,620.6 L1224.6,613.9 L1228.7,607.3 L1232.7,600.7 L1236.8,594.3 L1240.9,587.9 L1245.0,581.8 L1249.1,575.8 L1253.2,570.0 L1257.3,564.4 L1261.3,559.0 L1265.4,553.9 L1269.5,549.0 L1273.6,544.4 L1277.7,539.9 L1281.8,535.5 L1285.9,531.3 L1290.0,527.2 L1294.0,523.2 L1298.1,519.2 L1302.2,515.3 L1306.3,511.3 L1310.4,507.5 L1314.5,503.8 L1318.6,500.2 L1322.6,496.7 L1326.7,493.4 L1330.8,490.3 L1334.9,487.5 L1339.0,484.9 L1343.1,482.4 L1347.2,480.1 L1351.2,477.8 L1355.3,475.5 L1359.4,473.3 L1363.5,470.9 L1367.6,468.5 L1371.7,466.0 L1375.8,463.4 L1379.8,460.9 L1383.9,458.3 L1388.0,455.8 L1392.1,453.2 L1396.2,450.8 L1400.3,448.4 L1404.4,446.1 L1408.4,443.9 L1412.5,441.8 L1416.6,439.8 L1420.7,437.8 L1424.8,435.9 L1428.9,434.1 L1433.0,432.2 L1437.0,430.4 L1441.1,428.6 L1445.2,426.8 L1449.3,424.9 L1453.4,423.1 L1457.5,421.2 L1461.6,419.2 L1465.6,417.2 L1469.7,415.2 L1473.8,413.1 L1477.9,411.0 L1482.0,408.8 L1486.1,406.6 L1490.2,404.3 L1494.2,402.0 L1498.3,399.5 L1502.4,397.0 L1506.5,394.5 L1510.6,391.8 L1514.7,389.1 L1518.8,386.3 L1522.8,383.4 L1526.9,380.4 L1531.0,377.3 L1535.1,374.1 L1539.2,370.8 L1543.3,367.4 L1547.4,363.9 L1551.5,360.3 L1555.5,356.6 L1559.6,352.9 L1563.7,349.1 L1567.8,345.2 L1571.9,341.4 L1576.0,337.5 L1580.1,333.6 L1584.1,329.7 L1588.2,325.9 L1592.3,322.1 L1596.4,318.3 L1600.5,314.6 L1604.6,310.9 L1608.7,307.3 L1612.7,303.6 L1616.8,300.0 L1620.9,296.5 L1625.0,292.9 L1629.1,289.4 L1633.2,285.9 L1637.3,282.3 L1641.3,278.8 L1645.4,275.3 L1649.5,271.8 L1653.6,268.4 L1657.7,265.0 L1661.8,261.6 L1665.9,258.3 L1669.9,255.1 L1674.0,251.9 L1678.1,248.8 L1682.2,245.8 L1686.3,242.8 L1690.4,240.0 L1694.5,237.2 L1698.5,234.5 L1702.6,232.0 L1706.7,229.5 L1710.8,227.2 L1714.9,224.9 L1719.0,222.8 L1723.1,220.8 L1727.1,218.8 L1731.2,216.9 L1735.3,215.2 L1739.4,213.5 L1743.5,212.0 L1747.6,210.5 L1751.7,209.2 L1755.7,208.0 L1759.8,207.0 L1763.9,206.1 L1768.0,205.4 L1772.1,204.8 L1776.2,204.4 L1780.3,204.1 L1784.3,204.0 L1788.4,204.0 L1792.5,204.2 L1796.6,204.6 L1800.7,205.1 L1804.8,205.8 L1808.9,206.6 L1813.0,207.6 L1817.0,208.7 L1821.1,210.0 L1825.2,211.5 L1829.3,213.2 L1833.4,215.0 L1837.5,216.9 L1841.6,219.0 L1845.6,221.3 L1849.7,223.6 L1853.8,226.0 L1857.9,228.5 L1862.0,231.2 L1866.1,233.8 L1870.2,236.6 L1874.2,239.4 L1878.3,242.4 L1882.4,245.4 L1886.5,248.5 L1890.6,251.7 L1894.7,255.1 L1898.8,258.5 L1902.8,262.1 L1906.9,265.7 L1911.0,269.5 L1915.1,273.3 L1919.2,277.1 L1923.3,281.0 L1927.4,284.8 L1931.4,288.6 L1935.5,292.2 L1939.6,295.7 L1943.7,299.0 L1947.8,302.1 L1951.9,305.0 L1956.0,307.8 L1960.0,310.5 L1964.1,313.1 L1968.2,315.5 L1972.3,317.8 L1976.4,320.0 L1980.5,322.1 L1984.6,324.2 L1988.6,326.1 L1992.7,328.0" stroke="#7e2f8e" stroke-width="3.3" stroke-dasharray="14.2 12.6" stroke-dashoffset="12.0"/>
</g>
<path d="M1199,142.9H1936.7M1936.7,722.9H1199" stroke="#8a8a8a" stroke-width="3.3" fill="none"/>
<path d="M1935.3,142.9V722.9" stroke="#707070" stroke-width="2.7" fill="none"/>
<path d="M1199,144.5V724.5" stroke="#1e1e1e" stroke-width="2.1" fill="none"/>
<path d="M1267.6,722.9v-8M1267.6,142.9v8M1358.9,722.9v-8M1358.9,142.9v8M1450.3,722.9v-8M1450.3,142.9v8M1541.6,722.9v-8M1541.6,142.9v8M1632.9,722.9v-8M1632.9,142.9v8M1724.2,722.9v-8M1724.2,142.9v8M1815.6,722.9v-8M1815.6,142.9v8M1906.9,722.9v-8M1906.9,142.9v8M1199,640.3h8M1935.3,640.3h-8M1199,542.2h8M1935.3,542.2h-8M1199,444.0h8M1935.3,444.0h-8M1199,345.9h8M1935.3,345.9h-8M1199,247.8h8M1935.3,247.8h-8M1199,149.7h8M1935.3,149.7h-8" stroke="#3a3a3a" stroke-width="1.8" fill="none"/>
<g font-family="'Liberation Sans', Arial, Helvetica, sans-serif" font-size="23.6" fill="#3a3a3a">
<text x="1266.8" y="756.2" text-anchor="middle">26</text>
<text x="1358.1" y="756.2" text-anchor="middle">27</text>
<text x="1449.5" y="756.2" text-anchor="middle">28</text>
<text x="1540.8" y="756.2" text-anchor="middle">29</text>
<text x="1632.1" y="756.2" text-anchor="middle">30</text>
<text x="1723.5" y="756.2" text-anchor="middle">31</text>
<text x="1814.8" y="756.2" text-anchor="middle">32</text>
<text x="1906.1" y="756.2" text-anchor="middle">33</text>
<text x="1188.0" y="650.3" text-anchor="end">19.2</text>
<text x="1188.0" y="552.2" text-anchor="end">19.4</text>
<text x="1188.0" y="454.0" text-anchor="end">19.6</text>
<text x="1188.0" y="355.9" text-anchor="end">19.8</text>
<text x="1188.0" y="257.8" text-anchor="end">20</text>
<text x="1188.0" y="159.7" text-anchor="end">20.2</text>
</g>
</g>
<g filter="url(#soft)">
<rect x="374" y="986.5" width="736.8" height="580.0999999999999" fill="#fff"/>
<g clip-path="url(#c2)" fill="none" stroke-linejoin="round">
<path d="M427.6,1335.1 L433.7,1331.6 L439.7,1328.1 L445.8,1324.6 L451.9,1321.1 L457.9,1317.6 L464.0,1314.1 L470.1,1310.6 L476.1,1307.2 L482.2,1303.7 L488.3,1300.2 L494.3,1296.7 L500.4,1293.2 L506.5,1289.7 L512.6,1286.2 L518.6,1282.7 L524.7,1279.2 L530.8,1275.8 L536.8,1272.3 L542.9,1268.8 L549.0,1265.3 L555.0,1261.8 L561.1,1258.4 L567.2,1254.9 L573.2,1251.4 L579.3,1248.0 L585.4,1244.5 L591.4,1241.0 L597.5,1237.6 L603.6,1234.1 L609.6,1230.6 L615.7,1227.2 L621.8,1223.7 L627.8,1220.3 L633.9,1216.8 L640.0,1213.4 L646.1,1209.9 L652.1,1206.5 L658.2,1203.1 L664.3,1199.6 L670.3,1196.2 L676.4,1192.8 L682.5,1189.3 L688.5,1185.9 L694.6,1182.5 L700.7,1179.1 L706.7,1175.7 L712.8,1172.3 L718.9,1168.9 L724.9,1165.5 L731.0,1162.1 L737.1,1158.7 L743.1,1155.3 L749.2,1151.9 L755.3,1148.5 L761.3,1145.2 L767.4,1141.8 L773.5,1138.4 L779.5,1135.1 L785.6,1131.7 L791.7,1128.3 L797.8,1125.0 L803.8,1121.7 L809.9,1118.3 L816.0,1115.0 L822.0,1111.7 L828.1,1108.3 L834.2,1105.0 L840.2,1101.7 L846.3,1098.4 L852.4,1095.1 L858.4,1091.8 L864.5,1088.5 L870.6,1085.2 L876.6,1082.0 L882.7,1078.7 L888.8,1075.4 L894.8,1072.2 L900.9,1068.9 L907.0,1065.7 L913.0,1062.4 L919.1,1059.2 L925.2,1055.9 L931.3,1052.7 L937.3,1049.5 L943.4,1046.3 L949.5,1043.1 L955.5,1039.9 L961.6,1036.7 L967.7,1033.5 L973.7,1030.3 L979.8,1027.2 L985.9,1024.0 L991.9,1020.9 L998.0,1017.7 L1004.1,1014.6 L1010.1,1011.4 L1016.2,1008.3 L1022.3,1005.2 L1028.3,1002.1 L1034.4,999.0 L1040.5,995.9 L1046.5,992.8 L1052.6,989.7 L1058.7,986.7 L1064.7,983.6 L1070.8,980.5 L1076.9,977.5 L1083.0,974.5 L1089.0,971.4 L1095.1,968.4 L1101.2,965.4 L1107.2,962.4 L1113.3,959.4 L1119.4,956.4 L1125.4,953.4 L1131.5,950.5 L1137.6,947.5 L1143.6,944.6 L1149.7,941.6 L1155.8,938.7 L1161.8,935.8 L1167.9,932.8" stroke="#0b7fab" stroke-width="2.9"/>
</g><g fill="none">
<circle cx="427.6" cy="1335.1" r="4.8" stroke="#0b7fab" stroke-width="2.7" fill="none"/>
<circle cx="743.2" cy="1155.3" r="4.8" stroke="#0b7fab" stroke-width="2.7" fill="none"/>
<circle cx="1058.7" cy="986.7" r="4.8" stroke="#0b7fab" stroke-width="2.7" fill="none"/>
</g><g clip-path="url(#c2)" fill="none" stroke-linejoin="round">
<path d="M427.6,1516.8 L429.8,1515.8 L431.9,1514.8 L434.1,1513.7 L436.3,1512.6 L438.5,1511.4 L440.6,1510.1 L442.8,1508.8 L445.0,1507.4 L447.2,1506.1 L449.3,1504.6 L451.5,1503.1 L453.7,1501.6 L455.8,1500.1 L458.0,1498.4 L460.2,1496.7 L462.4,1494.9 L464.5,1493.0 L466.7,1491.1 L468.9,1489.1 L471.0,1487.1 L473.2,1485.0 L475.4,1482.9 L477.6,1480.7 L479.7,1478.5 L481.9,1476.2 L484.1,1473.9 L486.3,1471.5 L488.4,1469.0 L490.6,1466.5 L492.8,1463.8 L494.9,1461.1 L497.1,1458.4 L499.3,1455.6 L501.5,1452.7 L503.6,1449.8 L505.8,1446.7 L508.0,1443.6 L510.2,1440.4 L512.3,1437.1 L514.5,1433.7 L516.7,1430.2 L518.8,1426.5 L521.0,1422.8 L523.2,1418.8 L525.4,1414.9 L527.5,1410.8 L529.7,1406.7 L531.9,1402.6 L534.0,1398.3 L536.2,1394.0 L538.4,1389.6 L540.6,1385.2 L542.7,1380.9 L544.9,1376.5 L547.1,1372.1 L549.3,1367.7 L551.4,1363.2 L553.6,1358.7 L555.8,1354.2 L557.9,1349.8 L560.1,1345.5 L562.3,1341.2 L564.5,1337.0 L566.6,1333.0 L568.8,1329.0 L571.0,1325.1 L573.1,1321.3 L575.3,1317.5 L577.5,1313.8 L579.7,1310.1 L581.8,1306.5 L584.0,1303.0 L586.2,1299.5 L588.4,1296.0 L590.5,1292.6 L592.7,1289.2 L594.9,1285.9 L597.0,1282.6 L599.2,1279.4 L601.4,1276.3 L603.6,1273.2 L605.7,1270.2 L607.9,1267.3 L610.1,1264.4 L612.3,1261.7 L614.4,1258.9 L616.6,1256.3 L618.8,1253.6 L620.9,1251.1 L623.1,1248.6 L625.3,1246.1 L627.5,1243.7 L629.6,1241.3 L631.8,1239.0 L634.0,1236.8 L636.1,1234.6 L638.3,1232.4 L640.5,1230.3 L642.7,1228.2 L644.8,1226.1 L647.0,1224.0 L649.2,1222.0 L651.4,1220.0 L653.5,1218.0 L655.7,1216.1 L657.9,1214.1 L660.0,1212.2 L662.2,1210.4 L664.4,1208.5 L666.6,1206.7 L668.7,1204.9 L670.9,1203.2 L673.1,1201.5 L675.3,1199.8 L677.4,1198.2 L679.6,1196.6 L681.8,1195.1 L683.9,1193.5 L686.1,1192.0 L688.3,1190.5 L690.5,1189.0 L692.6,1187.5 L694.8,1186.1 L697.0,1184.6 L699.1,1183.1 L701.3,1181.7 L703.5,1180.2 L705.7,1178.8 L707.8,1177.3 L710.0,1175.9 L712.2,1174.5 L714.4,1173.1 L716.5,1171.7 L718.7,1170.3 L720.9,1168.9 L723.0,1167.5 L725.2,1166.1 L727.4,1164.8 L729.6,1163.4 L731.7,1162.0 L733.9,1160.7 L736.1,1159.3 L738.3,1158.0 L740.4,1156.6 L742.6,1155.3 L744.8,1154.0 L746.9,1152.7 L749.1,1151.4 L751.3,1150.0 L753.5,1148.7 L755.6,1147.5 L757.8,1146.2 L760.0,1144.9 L762.1,1143.6 L764.3,1142.3 L766.5,1141.1 L768.7,1139.8 L770.8,1138.5 L773.0,1137.3 L775.2,1136.0 L777.4,1134.8 L779.5,1133.5 L781.7,1132.3 L783.9,1131.0 L786.0,1129.8 L788.2,1128.6 L790.4,1127.3 L792.6,1126.1 L794.7,1124.9 L796.9,1123.7 L799.1,1122.4 L801.2,1121.2 L803.4,1120.0 L805.6,1118.8 L807.8,1117.6 L809.9,1116.4 L812.1,1115.2 L814.3,1114.0 L816.5,1112.8 L818.6,1111.6 L820.8,1110.4 L823.0,1109.2 L825.1,1108.0 L827.3,1106.8 L829.5,1105.6 L831.7,1104.5 L833.8,1103.3 L836.0,1102.1 L838.2,1100.9 L840.4,1099.8 L842.5,1098.6 L844.7,1097.4 L846.9,1096.3 L849.0,1095.1 L851.2,1094.0 L853.4,1092.9 L855.6,1091.7 L857.7,1090.6 L859.9,1089.4 L865.7,1086.3 L871.5,1083.2 L877.2,1080.1 L883.0,1076.9 L888.8,1073.8 L894.6,1070.7 L900.4,1067.6 L906.1,1064.5 L911.9,1061.4 L917.7,1058.4 L923.5,1055.3 L929.3,1052.2 L935.0,1049.1 L940.8,1046.1 L946.6,1043.0 L952.4,1040.0 L958.2,1037.0 L963.9,1033.9 L969.7,1030.9 L975.5,1027.9 L981.3,1024.9 L987.1,1021.8 L992.8,1018.8 L998.6,1015.8 L1004.4,1012.9 L1010.2,1009.9 L1016.0,1006.9 L1021.7,1003.9 L1027.5,1001.0 L1033.3,998.0 L1039.1,995.1 L1044.9,992.1 L1050.6,989.2 L1056.4,986.3 L1062.2,983.4 L1068.0,980.4 L1073.8,977.5 L1079.5,974.6 L1085.3,971.8 L1091.1,968.9 L1096.9,966.0 L1102.7,963.1 L1108.4,960.3 L1114.2,957.4 L1120.0,954.6 L1125.8,951.8 L1131.5,948.9 L1137.3,946.1 L1143.1,943.3 L1148.9,940.5 L1154.7,937.7 L1160.4,934.9 L1166.2,932.2" stroke="#d95319" stroke-width="2.9"/>
</g><g fill="none">
<path d="M421.5,1516.8L433.7,1516.8M423.3,1512.5L431.9,1521.1M427.6,1510.7L427.6,1522.9M431.9,1512.5L423.3,1521.1" stroke="#d95319" stroke-width="3.1" fill="none"/>
<path d="M778.7,1130.5L790.9,1130.5M780.5,1126.2L789.1,1134.8M784.8,1124.4L784.8,1136.6M789.1,1126.2L780.5,1134.8" stroke="#d95319" stroke-width="3.1" fill="none"/>
</g><g clip-path="url(#c2)" fill="none" stroke-linejoin="round">
<path d="M427.6,1516.8 L429.2,1515.9 L430.8,1515.0 L432.5,1514.2 L434.1,1513.3 L435.7,1512.4 L437.3,1511.5 L438.9,1510.6 L440.5,1509.7 L442.1,1508.7 L443.6,1507.8 L445.2,1506.8 L446.8,1505.9 L448.3,1504.9 L449.8,1503.9 L451.3,1502.9 L452.8,1501.8 L454.3,1500.8 L455.8,1499.7 L457.2,1498.6 L458.7,1497.5 L460.1,1496.4 L461.5,1495.2 L462.9,1494.0 L464.3,1492.8 L465.6,1491.6 L467.0,1490.4 L468.3,1489.2 L469.7,1487.9 L471.0,1486.6 L472.3,1485.4 L473.5,1484.1 L474.8,1482.8 L476.1,1481.5 L477.3,1480.1 L478.6,1478.8 L479.8,1477.5 L481.0,1476.1 L482.2,1474.7 L483.4,1473.4 L484.6,1472.0 L485.8,1470.6 L487.0,1469.3 L488.1,1467.9 L489.3,1466.5 L490.4,1465.0 L491.5,1463.6 L492.6,1462.2 L493.7,1460.8 L494.8,1459.3 L495.8,1457.8 L496.8,1456.4 L497.9,1454.9 L498.9,1453.4 L499.8,1451.9 L500.8,1450.4 L501.8,1448.8 L502.7,1447.3 L503.6,1445.8 L504.6,1444.2 L505.5,1442.7 L506.4,1441.1 L507.3,1439.6 L508.3,1438.0 L509.2,1436.5 L510.1,1435.0 L511.1,1433.4 L512.0,1431.9 L512.9,1430.4 L513.9,1428.8 L514.8,1427.3 L515.8,1425.8 L516.7,1424.2 L517.7,1422.7 L518.6,1421.2 L519.5,1419.6 L520.5,1418.1 L521.4,1416.6 L522.3,1415.0 L523.2,1413.5 L524.1,1411.9 L525.0,1410.3 L525.8,1408.8 L526.7,1407.2 L527.5,1405.6 L528.3,1404.0 L529.2,1402.4 L529.9,1400.8 L530.7,1399.2 L531.4,1397.5 L532.2,1395.9 L532.9,1394.2 L533.5,1392.6 L534.2,1390.9 L534.8,1389.2 L535.4,1387.5 L536.0,1385.9 L536.6,1384.2 L537.1,1382.5 L537.6,1380.7 L538.1,1379.0 L538.6,1377.3 L539.0,1375.6 L539.4,1373.8 L539.8,1372.1 L540.2,1370.4 L540.6,1368.6 L540.9,1366.9 L541.3,1365.1 L541.6,1363.4 L541.9,1361.6 L542.1,1359.8 L542.4,1358.1 L542.7,1356.3 L542.9,1354.6 L543.1,1352.8 L543.3,1351.0 L543.5,1349.2 L543.7,1347.5 L543.9,1345.7 L544.1,1343.9 L544.2,1342.2 L544.4,1340.4 L544.5,1338.6 L544.7,1336.8 L544.8,1335.1 L544.9,1333.3 L545.0,1331.5 L545.1,1329.7 L545.2,1328.0 L545.3,1326.2 L545.4,1324.4 L545.5,1322.6 L545.6,1320.8 L545.6,1319.1 L545.7,1317.3 L545.8,1315.5 L545.8,1313.7 L545.9,1312.0 L546.0,1310.2 L546.0,1308.4 L546.1,1306.6 L546.2,1304.8 L546.2,1303.1 L546.3,1301.3 L546.4,1299.5 L546.5,1297.7 L546.6,1296.0 L546.7,1294.2 L546.8,1292.4 L547.0,1290.6 L547.1,1288.9 L547.3,1287.1 L547.5,1285.3 L547.6,1283.6 L547.8,1281.8 L548.1,1280.0 L548.3,1278.3 L548.5,1276.5 L548.8,1274.7 L549.0,1273.0 L549.3,1271.2 L549.6,1269.4 L549.9,1267.7 L550.3,1265.9 L550.6,1264.2 L551.0,1262.4 L551.4,1260.7 L551.8,1259.0 L552.2,1257.2 L552.7,1255.5 L553.2,1253.8 L553.7,1252.1 L554.2,1250.4 L554.8,1248.7 L555.4,1247.0 L556.1,1245.3 L556.7,1243.7 L557.4,1242.0 L558.2,1240.4 L558.9,1238.8 L559.7,1237.2 L560.5,1235.5 L561.3,1234.0 L562.2,1232.4 L563.1,1230.8 L564.0,1229.2 L564.9,1227.7 L565.8,1226.2 L566.8,1224.6 L567.8,1223.1 L568.8,1221.6 L569.8,1220.1 L570.8,1218.7 L571.9,1217.2 L572.9,1215.8 L574.0,1214.3 L575.2,1212.9 L576.3,1211.5 L577.5,1210.1 L578.6,1208.7 L579.8,1207.4 L581.0,1206.0 L582.2,1204.7 L583.5,1203.3 L584.7,1202.0 L586.0,1200.7 L587.3,1199.4 L588.6,1198.2 L589.9,1196.9 L591.2,1195.7 L592.5,1194.4 L593.9,1193.2 L595.3,1192.0 L596.6,1190.8 L598.0,1189.6 L599.4,1188.4 L600.8,1187.3 L602.2,1186.1 L603.6,1185.0 L605.1,1183.8 L606.5,1182.7 L608.0,1181.6 L609.4,1180.5 L610.9,1179.4 L612.4,1178.3 L613.8,1177.2 L615.3,1176.2 L616.8,1175.1 L618.3,1174.1 L619.8,1173.0 L621.3,1172.0 L622.9,1171.0 L624.4,1170.0 L625.9,1168.9 L627.4,1167.9 L629.0,1167.0 L630.5,1166.0 L632.1,1165.0 L633.6,1164.0 L635.2,1163.1 L636.8,1162.1 L638.3,1161.2 L639.9,1160.2 L641.5,1159.3 L643.0,1158.4 L644.6,1157.4 L646.2,1156.5 L647.8,1155.6 L649.4,1154.7 L651.0,1153.8 L652.6,1152.9 L654.2,1152.0 L655.8,1151.1 L657.4,1150.3 L659.1,1149.4 L660.7,1148.5 L662.3,1147.6 L663.9,1146.8 L665.5,1145.9 L667.1,1145.0 L668.7,1144.2 L670.4,1143.3 L672.0,1142.4 L673.6,1141.5 L675.2,1140.7 L676.8,1139.8 L678.5,1138.9 L680.1,1138.1 L681.7,1137.2 L683.3,1136.4 L684.9,1135.5 L686.6,1134.6 L688.2,1133.8 L689.8,1132.9 L691.5,1132.1 L693.1,1131.2 L694.7,1130.4 L696.4,1129.6 L698.0,1128.8 L699.6,1127.9 L701.3,1127.1 L702.9,1126.3 L704.6,1125.5 L706.3,1124.7 L707.9,1123.9 L709.6,1123.2 L711.3,1122.4 L712.9,1121.6 L714.6,1120.9 L716.3,1120.1 L718.0,1119.3 L719.6,1118.6 L721.3,1117.8 L723.0,1117.1 L724.7,1116.3 L726.4,1115.6 L728.1,1114.9 L729.7,1114.1 L731.4,1113.4 L733.1,1112.7 L734.8,1112.0 L736.5,1111.2 L738.2,1110.5 L739.9,1109.8 L741.6,1109.1 L743.3,1108.3 L745.0,1107.6 L746.7,1106.9 L748.4,1106.2 L750.1,1105.5 L751.8,1104.7 L753.5,1104.0 L755.2,1103.3 L756.9,1102.6 L758.6,1101.9 L760.3,1101.2 L762.0,1100.5 L763.7,1099.8 L765.4,1099.1 L767.1,1098.4 L768.8,1097.7 L770.5,1097.0 L772.2,1096.3 L773.9,1095.7 L775.7,1095.0 L777.4,1094.3 L779.1,1093.7 L780.8,1093.0 L782.5,1092.4 L784.3,1091.7 L786.0,1091.1 L787.7,1090.4 L789.5,1089.8 L791.2,1089.2 L792.9,1088.6 L794.7,1088.0 L796.4,1087.4 L798.2,1086.8 L799.9,1086.2 L801.7,1085.6 L803.4,1085.0 L805.2,1084.4 L806.9,1083.8 L808.7,1083.3 L810.4,1082.7 L812.2,1082.1 L814.0,1081.6 L815.7,1081.0 L817.5,1080.5 L819.3,1080.0 L821.0,1079.4 L822.8,1078.9 L824.6,1078.4 L826.3,1077.8 L828.1,1077.3 L829.9,1076.8 L831.7,1076.3 L833.4,1075.8 L835.2,1075.3 L837.0,1074.8 L838.8,1074.3 L840.5,1073.8 L842.3,1073.3 L844.1,1072.8 L845.9,1072.3 L847.7,1071.8 L849.4,1071.3 L851.2,1070.8 L853.0,1070.3 L854.8,1069.8 L856.6,1069.3 L858.3,1068.8 L860.1,1068.3 L861.9,1067.8 L863.7,1067.3 L865.4,1066.8 L867.2,1066.3 L869.0,1065.8 L870.8,1065.3 L872.5,1064.8 L874.3,1064.2 L876.1,1063.7 L877.9,1063.2 L879.6,1062.7 L881.4,1062.2 L883.2,1061.6 L885.0,1061.1 L886.7,1060.6 L888.5,1060.1 L890.3,1059.5 L892.0,1059.0 L893.8,1058.5 L895.6,1057.9 L897.3,1057.4 L899.1,1056.9 L900.9,1056.3 L902.6,1055.8 L904.4,1055.3 L906.2,1054.7 L907.9,1054.2 L909.7,1053.6 L911.5,1053.1 L913.2,1052.6 L915.0,1052.0 L916.8,1051.5 L918.5,1050.9 L920.3,1050.4 L922.1,1049.8 L923.8,1049.3 L925.6,1048.7 L927.3,1048.2 L929.1,1047.6 L930.9,1047.1 L932.6,1046.5 L934.4,1046.0 L936.2,1045.4 L937.9,1044.8 L939.7,1044.3 L941.5,1043.7 L943.2,1043.2 L945.0,1042.6 L946.7,1042.0 L948.5,1041.5 L950.3,1040.9 L952.0,1040.3 L953.8,1039.8 L955.5,1039.2 L957.3,1038.6 L959.0,1038.1 L960.8,1037.5 L962.5,1036.9 L964.3,1036.3 L966.0,1035.7 L967.8,1035.1 L969.5,1034.5 L971.3,1033.9 L973.0,1033.3 L974.8,1032.7 L976.5,1032.1 L978.2,1031.5 L980.0,1030.8 L981.7,1030.2 L983.5,1029.6 L985.2,1029.0 L986.9,1028.3 L988.6,1027.7 L990.4,1027.0 L992.1,1026.4 L993.8,1025.7 L995.5,1025.0 L997.2,1024.3 L998.9,1023.7 L1000.6,1023.0 L1002.3,1022.3 L1004.0,1021.6 L1005.7,1020.9 L1007.4,1020.2 L1009.1,1019.5 L1010.8,1018.7 L1012.5,1018.0 L1014.2,1017.3 L1015.9,1016.5 L1017.6,1015.8 L1019.2,1015.0 L1020.9,1014.3 L1022.6,1013.5 L1024.3,1012.7 L1025.9,1012.0 L1027.6,1011.2 L1029.3,1010.4 L1030.9,1009.6 L1032.6,1008.9 L1034.3,1008.1 L1035.9,1007.3 L1037.6,1006.5 L1039.2,1005.7 L1040.9,1004.9 L1042.5,1004.1 L1044.2,1003.2 L1045.8,1002.4 L1047.5,1001.6 L1049.1,1000.8 L1050.8,1000.0 L1052.4,999.1 L1054.1,998.3 L1055.7,997.5 L1057.3,996.7 L1059.0,995.8 L1060.6,995.0 L1062.3,994.2 L1063.9,993.3 L1065.5,992.5 L1067.2,991.6 L1068.8,990.8 L1070.5,990.0 L1072.1,989.1 L1073.7,988.3 L1075.4,987.4 L1077.0,986.6 L1082.6,983.7 L1088.3,980.9 L1093.9,978.0 L1099.5,975.2 L1105.2,972.3 L1110.8,969.4 L1116.4,966.6 L1122.1,963.7 L1127.7,960.8 L1133.4,958.0 L1139.0,955.1 L1144.6,952.3 L1150.3,949.4 L1155.9,946.6 L1161.5,943.7 L1167.2,940.9" stroke="#edb120" stroke-width="2.9" stroke-dasharray="13.9 3.1 7 3.1" stroke-dashoffset="24.6"/>
<path d="M427.6,1516.8 L429.1,1516.2 L430.5,1515.7 L432.0,1515.1 L433.5,1514.5 L434.9,1513.9 L436.4,1513.3 L437.8,1512.7 L439.3,1512.1 L440.8,1511.5 L442.2,1510.9 L443.6,1510.3 L445.1,1509.6 L446.5,1509.0 L447.9,1508.3 L449.3,1507.6 L450.7,1506.9 L452.1,1506.2 L453.5,1505.5 L454.9,1504.7 L456.3,1503.9 L457.7,1503.1 L459.0,1502.3 L460.3,1501.5 L461.7,1500.6 L463.0,1499.7 L464.3,1498.8 L465.5,1497.9 L466.8,1496.9 L468.0,1495.9 L469.2,1494.9 L470.4,1493.9 L471.5,1492.8 L472.7,1491.7 L473.7,1490.6 L474.8,1489.5 L475.8,1488.3 L476.8,1487.1 L477.7,1485.9 L478.6,1484.7 L479.5,1483.4 L480.3,1482.1 L481.1,1480.8 L481.8,1479.5 L482.6,1478.1 L483.3,1476.8 L483.9,1475.4 L484.6,1474.0 L485.2,1472.6 L485.8,1471.2 L486.4,1469.7 L487.0,1468.3 L487.6,1466.9 L488.2,1465.4 L488.7,1464.0 L489.3,1462.6 L489.8,1461.1 L490.4,1459.7 L490.9,1458.3 L491.4,1456.8 L491.9,1455.4 L492.5,1453.9 L493.0,1452.5 L493.5,1451.1 L494.0,1449.6 L494.5,1448.2 L494.9,1446.7 L495.4,1445.3 L495.9,1443.8 L496.3,1442.4 L496.8,1440.9 L497.2,1439.5 L497.6,1438.0 L498.1,1436.6 L498.5,1435.1 L498.9,1433.6 L499.3,1432.2 L499.6,1430.7 L500.0,1429.2 L500.4,1427.7 L500.7,1426.3 L501.1,1424.8 L501.4,1423.3 L501.8,1421.8 L502.1,1420.3 L502.4,1418.8 L502.7,1417.3 L503.0,1415.8 L503.3,1414.3 L503.6,1412.8 L503.9,1411.3 L504.2,1409.8 L504.5,1408.3 L504.8,1406.8 L505.0,1405.3 L505.3,1403.8 L505.6,1402.3 L505.8,1400.8 L506.1,1399.3 L506.3,1397.8 L506.5,1396.3 L506.7,1394.8 L506.9,1393.3 L507.1,1391.8 L507.3,1390.2 L507.4,1388.7 L507.5,1387.2 L507.6,1385.7 L507.7,1384.2 L507.7,1382.7 L507.8,1381.2 L507.7,1379.7 L507.7,1378.1 L507.7,1376.6 L507.6,1375.1 L507.5,1373.6 L507.4,1372.1 L507.2,1370.6 L507.1,1369.1 L506.9,1367.6 L506.7,1366.0 L506.5,1364.5 L506.3,1363.0 L506.1,1361.5 L505.9,1360.0 L505.6,1358.5 L505.4,1357.0 L505.2,1355.5 L504.9,1353.9 L504.7,1352.4 L504.5,1350.9 L504.2,1349.4 L504.0,1347.9 L503.7,1346.4 L503.5,1344.9 L503.3,1343.4 L503.0,1341.9 L502.8,1340.4 L502.5,1338.9 L502.2,1337.4 L501.9,1335.9 L501.7,1334.4 L501.4,1332.9 L501.0,1331.4 L500.7,1329.9 L500.4,1328.5 L500.0,1327.0 L499.6,1325.5 L499.2,1324.1 L498.8,1322.6 L498.4,1321.1 L497.9,1319.7 L497.4,1318.2 L497.0,1316.8 L496.5,1315.3 L496.0,1313.9 L495.5,1312.4 L495.0,1311.0 L494.5,1309.5 L494.0,1308.1 L493.5,1306.7 L493.0,1305.2 L492.5,1303.8 L492.0,1302.3 L491.6,1300.9 L491.1,1299.4 L490.6,1298.0 L490.1,1296.5 L489.7,1295.0 L489.3,1293.6 L488.8,1292.1 L488.4,1290.6 L488.0,1289.2 L487.6,1287.7 L487.3,1286.2 L486.9,1284.7 L486.6,1283.2 L486.3,1281.7 L486.0,1280.2 L485.7,1278.7 L485.5,1277.2 L485.3,1275.7 L485.1,1274.2 L485.0,1272.7 L484.8,1271.2 L484.7,1269.7 L484.7,1268.1 L484.7,1266.6 L484.8,1265.1 L484.9,1263.6 L485.1,1262.1 L485.3,1260.5 L485.6,1259.0 L486.0,1257.5 L486.4,1256.1 L487.0,1254.6 L487.6,1253.2 L488.4,1251.9 L489.2,1250.6 L490.1,1249.4 L491.2,1248.2 L492.3,1247.1 L493.4,1246.1 L494.7,1245.1 L495.9,1244.1 L497.2,1243.3 L498.5,1242.4 L499.9,1241.6 L501.3,1240.9 L502.7,1240.1 L504.1,1239.5 L505.5,1238.8 L506.9,1238.2 L508.4,1237.5 L509.8,1236.9 L511.3,1236.3 L512.8,1235.7 L514.2,1235.1 L515.7,1234.5 L517.1,1233.9 L518.6,1233.3 L520.1,1232.6 L521.5,1232.0 L523.0,1231.4 L524.4,1230.8 L525.9,1230.2 L527.3,1229.6 L528.8,1229.0 L530.3,1228.4 L531.7,1227.9 L533.2,1227.3 L534.7,1226.8 L536.2,1226.3 L537.6,1225.8 L539.1,1225.3 L540.6,1224.8 L542.2,1224.4 L543.7,1224.0 L545.2,1223.6 L546.7,1223.2 L548.3,1222.8 L549.8,1222.5 L551.3,1222.1 L552.9,1221.8 L554.4,1221.4 L556.0,1221.1 L557.5,1220.8 L559.1,1220.5 L560.6,1220.2 L562.2,1219.9 L563.8,1219.5 L565.3,1219.2 L566.9,1218.9 L568.4,1218.6 L570.0,1218.2 L571.5,1217.9 L573.1,1217.6 L574.6,1217.2 L576.1,1216.9 L577.7,1216.6 L579.2,1216.2 L580.8,1215.9 L582.3,1215.6 L583.9,1215.2 L585.4,1214.9 L587.0,1214.6 L588.5,1214.3 L590.1,1214.0 L591.6,1213.7 L593.2,1213.4 L594.7,1213.2 L596.3,1212.9 L597.8,1212.6 L599.4,1212.4 L601.0,1212.1 L602.5,1211.9 L604.1,1211.7 L605.7,1211.5 L607.2,1211.2 L608.8,1211.0 L610.4,1210.8 L611.9,1210.6 L613.5,1210.4 L615.1,1210.2 L616.7,1210.0 L618.2,1209.8 L619.8,1209.6 L621.4,1209.4 L622.9,1209.2 L624.5,1208.9 L626.1,1208.7 L627.6,1208.5 L629.2,1208.3 L630.8,1208.1 L632.3,1207.8 L633.9,1207.6 L635.5,1207.4 L637.0,1207.1 L638.6,1206.9 L640.2,1206.6 L641.7,1206.4 L643.3,1206.1 L644.8,1205.8 L646.4,1205.5 L647.9,1205.2 L649.5,1204.9 L651.0,1204.6 L652.6,1204.3 L654.1,1203.9 L655.7,1203.6 L657.2,1203.2 L658.8,1202.9 L660.3,1202.5 L661.8,1202.1 L663.3,1201.7 L664.9,1201.3 L666.4,1200.9 L667.9,1200.4 L669.4,1200.0 L670.9,1199.5 L672.4,1199.0 L673.9,1198.5 L675.4,1198.1 L676.9,1197.5 L678.4,1197.0 L679.9,1196.5 L681.4,1195.9 L682.9,1195.4 L684.3,1194.8 L685.8,1194.2 L687.3,1193.6 L688.7,1193.0 L690.2,1192.4 L691.6,1191.8 L693.0,1191.1 L694.5,1190.5 L695.9,1189.8 L697.3,1189.1 L698.7,1188.5 L700.1,1187.8 L701.5,1187.1 L702.9,1186.3 L704.3,1185.6 L705.7,1184.9 L707.1,1184.1 L708.5,1183.4 L709.8,1182.6 L711.2,1181.8 L712.6,1181.0 L713.9,1180.2 L715.2,1179.4 L716.6,1178.6 L717.9,1177.8 L719.3,1177.0 L720.6,1176.1 L721.9,1175.3 L723.2,1174.4 L724.5,1173.6 L725.8,1172.7 L727.1,1171.8 L728.4,1171.0 L729.7,1170.1 L731.0,1169.2 L732.3,1168.3 L733.5,1167.4 L734.8,1166.5 L736.1,1165.6 L737.4,1164.7 L738.6,1163.8 L739.9,1162.9 L741.2,1162.0 L742.4,1161.0 L743.7,1160.1 L745.0,1159.2 L746.2,1158.3 L747.5,1157.4 L748.8,1156.5 L750.0,1155.5 L751.3,1154.6 L752.5,1153.7 L753.8,1152.8 L755.0,1151.8 L756.3,1150.9 L757.5,1149.9 L758.8,1149.0 L760.0,1148.1 L761.2,1147.1 L762.5,1146.1 L763.7,1145.2 L764.9,1144.2 L766.1,1143.2 L767.3,1142.3 L768.5,1141.3 L769.8,1140.3 L771.0,1139.3 L772.2,1138.3 L773.4,1137.3 L774.6,1136.3 L775.8,1135.3 L777.0,1134.3 L778.1,1133.3 L779.3,1132.4 L780.5,1131.4 L781.8,1130.4 L783.0,1129.4 L784.2,1128.4 L785.4,1127.4 L786.6,1126.5 L787.8,1125.5 L789.0,1124.5 L790.3,1123.6 L791.5,1122.6 L792.7,1121.7 L794.0,1120.7 L795.2,1119.8 L796.5,1118.8 L797.7,1117.9 L799.0,1117.0 L800.3,1116.1 L801.5,1115.2 L802.8,1114.3 L804.1,1113.4 L805.4,1112.5 L806.7,1111.6 L807.9,1110.7 L809.2,1109.8 L810.5,1109.0 L811.9,1108.1 L813.2,1107.3 L814.5,1106.4 L815.8,1105.6 L817.1,1104.7 L818.4,1103.9 L819.8,1103.1 L821.1,1102.3 L822.4,1101.4 L823.8,1100.6 L825.1,1099.8 L826.5,1099.0 L827.8,1098.2 L829.1,1097.4 L830.5,1096.6 L831.8,1095.8 L833.2,1095.0 L834.5,1094.2 L835.9,1093.4 L837.2,1092.6 L838.6,1091.8 L839.9,1091.0 L841.3,1090.2 L842.7,1089.5 L844.0,1088.7 L845.4,1087.9 L846.8,1087.2 L848.1,1086.4 L849.5,1085.7 L850.9,1084.9 L852.3,1084.2 L853.7,1083.5 L855.1,1082.7 L856.5,1082.0 L857.9,1081.3 L859.3,1080.6 L860.7,1079.9 L862.1,1079.3 L863.5,1078.6 L864.9,1077.9 L866.4,1077.3 L867.8,1076.6 L869.2,1076.0 L870.7,1075.3 L872.1,1074.7 L873.5,1074.0 L875.0,1073.4 L876.4,1072.8 L877.9,1072.1 L879.3,1071.5 L880.8,1070.9 L882.2,1070.3 L883.6,1069.7 L885.1,1069.0 L886.5,1068.4 L888.0,1067.8 L889.5,1067.2 L890.9,1066.6 L892.4,1066.0 L893.8,1065.4 L895.3,1064.8 L896.7,1064.1 L898.2,1063.5 L899.6,1062.9 L901.1,1062.3 L902.5,1061.7 L904.0,1061.1 L905.4,1060.4 L906.8,1059.8 L908.3,1059.2 L909.7,1058.5 L911.2,1057.9 L912.6,1057.3 L914.0,1056.6 L915.5,1056.0 L916.9,1055.3 L918.3,1054.7 L919.8,1054.1 L921.2,1053.4 L922.6,1052.8 L924.1,1052.1 L925.5,1051.4 L926.9,1050.8 L928.4,1050.1 L929.8,1049.5 L931.2,1048.8 L932.6,1048.2 L934.1,1047.5 L935.5,1046.9 L936.9,1046.2 L938.4,1045.6 L939.8,1044.9 L941.2,1044.3 L942.7,1043.6 L944.1,1043.0 L945.5,1042.3 L947.0,1041.7 L948.4,1041.0 L949.8,1040.4 L951.3,1039.7 L952.7,1039.1 L954.1,1038.4 L955.6,1037.8 L957.0,1037.2 L958.4,1036.5 L959.9,1035.9 L961.3,1035.3 L962.8,1034.7 L964.2,1034.0 L965.7,1033.4 L967.1,1032.8 L968.5,1032.1 L970.0,1031.5 L971.4,1030.9 L972.9,1030.3 L974.3,1029.7 L975.8,1029.0 L977.2,1028.4 L978.7,1027.8 L980.1,1027.2 L981.5,1026.6 L983.0,1025.9 L984.4,1025.3 L985.9,1024.7 L987.3,1024.1 L988.8,1023.5 L990.2,1022.8 L991.7,1022.2 L993.1,1021.6 L994.6,1021.0 L996.0,1020.3 L997.4,1019.7 L998.9,1019.1 L1000.3,1018.5 L1001.8,1017.8 L1003.2,1017.2 L1004.6,1016.6 L1006.1,1015.9 L1007.5,1015.3 L1009.0,1014.7 L1010.4,1014.0 L1011.8,1013.4 L1013.3,1012.7 L1014.7,1012.1 L1016.1,1011.4 L1017.6,1010.8 L1019.0,1010.2 L1020.4,1009.5 L1021.9,1008.9 L1023.3,1008.2 L1024.7,1007.6 L1026.2,1006.9 L1027.6,1006.3 L1029.0,1005.6 L1030.5,1005.0 L1031.9,1004.3 L1033.3,1003.7 L1034.8,1003.0 L1036.2,1002.3 L1037.6,1001.7 L1039.0,1001.0 L1040.5,1000.4 L1041.9,999.7 L1043.3,999.1 L1044.8,998.4 L1046.2,997.8 L1047.6,997.1 L1049.0,996.4 L1050.5,995.8 L1051.9,995.1 L1053.3,994.5 L1054.7,993.8 L1056.2,993.1 L1059.0,991.7 L1061.8,990.2 L1064.6,988.8 L1067.5,987.3 L1070.3,985.8 L1073.1,984.4 L1075.9,982.9 L1078.8,981.5 L1081.6,980.0 L1084.4,978.5 L1087.2,977.1 L1090.1,975.6 L1092.9,974.1 L1095.7,972.7 L1098.5,971.2 L1101.4,969.7 L1104.2,968.3 L1107.0,966.8 L1109.8,965.3 L1112.6,963.9 L1115.5,962.4 L1118.3,960.9 L1121.1,959.5 L1123.9,958.0 L1126.8,956.5 L1129.6,955.1 L1132.4,953.6 L1135.2,952.1 L1138.1,950.7 L1140.9,949.2 L1143.7,947.8 L1146.5,946.3 L1149.3,944.8 L1152.2,943.4 L1155.0,941.9 L1157.8,940.5 L1160.6,939.0 L1163.5,937.5 L1166.3,936.1 L1169.1,934.6" stroke="#7e2f8e" stroke-width="2.9" stroke-dasharray="14.2 12.6" stroke-dashoffset="17.9"/>
</g>
<path d="M374,986.5H1112.2M1112.2,1566.6H374" stroke="#8a8a8a" stroke-width="3.3" fill="none"/>
<path d="M1110.8,986.5V1566.6" stroke="#707070" stroke-width="2.7" fill="none"/>
<path d="M374,988.1V1568.1999999999998" stroke="#1e1e1e" stroke-width="2.1" fill="none"/>
<path d="M427.6,1566.6v-8M427.6,986.5v8M490.7,1566.6v-8M490.7,986.5v8M553.8,1566.6v-8M553.8,986.5v8M616.9,1566.6v-8M616.9,986.5v8M680.0,1566.6v-8M680.0,986.5v8M743.2,1566.6v-8M743.2,986.5v8M806.3,1566.6v-8M806.3,986.5v8M869.4,1566.6v-8M869.4,986.5v8M932.5,1566.6v-8M932.5,986.5v8M995.6,1566.6v-8M995.6,986.5v8M1058.7,1566.6v-8M1058.7,986.5v8M374,1553.1h8M1110.8,1553.1h-8M374,1480.5h8M1110.8,1480.5h-8M374,1407.8h8M1110.8,1407.8h-8M374,1335.1h8M1110.8,1335.1h-8M374,1262.4h8M1110.8,1262.4h-8M374,1189.7h8M1110.8,1189.7h-8M374,1117.1h8M1110.8,1117.1h-8M374,1044.4h8M1110.8,1044.4h-8" stroke="#3a3a3a" stroke-width="1.8" fill="none"/>
<g font-family="'Liberation Sans', Arial, Helvetica, sans-serif" font-size="23.6" fill="#3a3a3a">
<text x="426.8" y="1599.9" text-anchor="middle">0</text>
<text x="489.9" y="1599.9" text-anchor="middle">1</text>
<text x="553.0" y="1599.9" text-anchor="middle">2</text>
<text x="616.1" y="1599.9" text-anchor="middle">3</text>
<text x="679.2" y="1599.9" text-anchor="middle">4</text>
<text x="742.4" y="1599.9" text-anchor="middle">5</text>
<text x="805.5" y="1599.9" text-anchor="middle">6</text>
<text x="868.6" y="1599.9" text-anchor="middle">7</text>
<text x="931.7" y="1599.9" text-anchor="middle">8</text>
<text x="994.8" y="1599.9" text-anchor="middle">9</text>
<text x="1057.9" y="1599.9" text-anchor="middle">10</text>
<text x="363.0" y="1563.1" text-anchor="end">-6</text>
<text x="363.0" y="1490.5" text-anchor="end">-4</text>
<text x="363.0" y="1417.8" text-anchor="end">-2</text>
<text x="363.0" y="1345.1" text-anchor="end">0</text>
<text x="363.0" y="1272.4" text-anchor="end">2</text>
<text x="363.0" y="1199.7" text-anchor="end">4</text>
<text x="363.0" y="1127.1" text-anchor="end">6</text>
<text x="363.0" y="1054.4" text-anchor="end">8</text>
</g>
</g>
<polygon points="704.5,215.5 734.1,195.6 729.6,206.7 1082.1,164.5 1089.1,158.6 1106.1,167.4 1091.7,180.0 1083.5,175.9 731.0,218.1 738.2,227.8" fill="#548235"/>
<polygon points="310.4,937.2 344.1,925.0 336.9,934.9 463.8,951.5 472.1,947.5 486.4,960.2 469.3,968.8 462.4,962.9 335.4,946.3 339.5,956.1" fill="#548235"/>
<rect x="1840.1" y="1431.7" width="563.3000000000002" height="328.0" fill="#fff" stroke="#262626" stroke-width="3"/>
<g fill="none">
<path d="M1859.8,1478.7H2058.4" stroke="#0b7fab" stroke-width="5.0"/>
<circle cx="1959.2" cy="1478.7" r="13.0" stroke="#0b7fab" stroke-width="4.8" fill="none"/>
<path d="M1859.8,1556.3H2058.4" stroke="#d95319" stroke-width="5.0"/>
<path d="M1945.2,1556.3L1973.2,1556.3M1949.3,1546.4L1969.1,1566.2M1959.2,1542.3L1959.2,1570.3M1969.1,1546.4L1949.3,1566.2" stroke="#d95319" stroke-width="5.6" fill="none"/>
<path d="M1859.8,1634.0H2058.4" stroke="#edb120" stroke-width="5.0" stroke-dasharray="16.4 3.7 8.2 3.3"/>
<path d="M1859.8,1711.6H2058.4" stroke="#7e2f8e" stroke-width="5.0" stroke-dasharray="16.4 15.2"/>
</g>
<g font-family="'Liberation Sans', Arial, Helvetica, sans-serif" font-size="59.4" fill="#000">
<text x="2072" y="1501.5">Referenced</text>
<text x="2072" y="1579.4">Proposed</text>
<text x="2072" y="1656.2">Method 1</text>
<text x="2072" y="1734.0">Method 2</text>
</g>
</g>
</svg>
</body>
</html>
